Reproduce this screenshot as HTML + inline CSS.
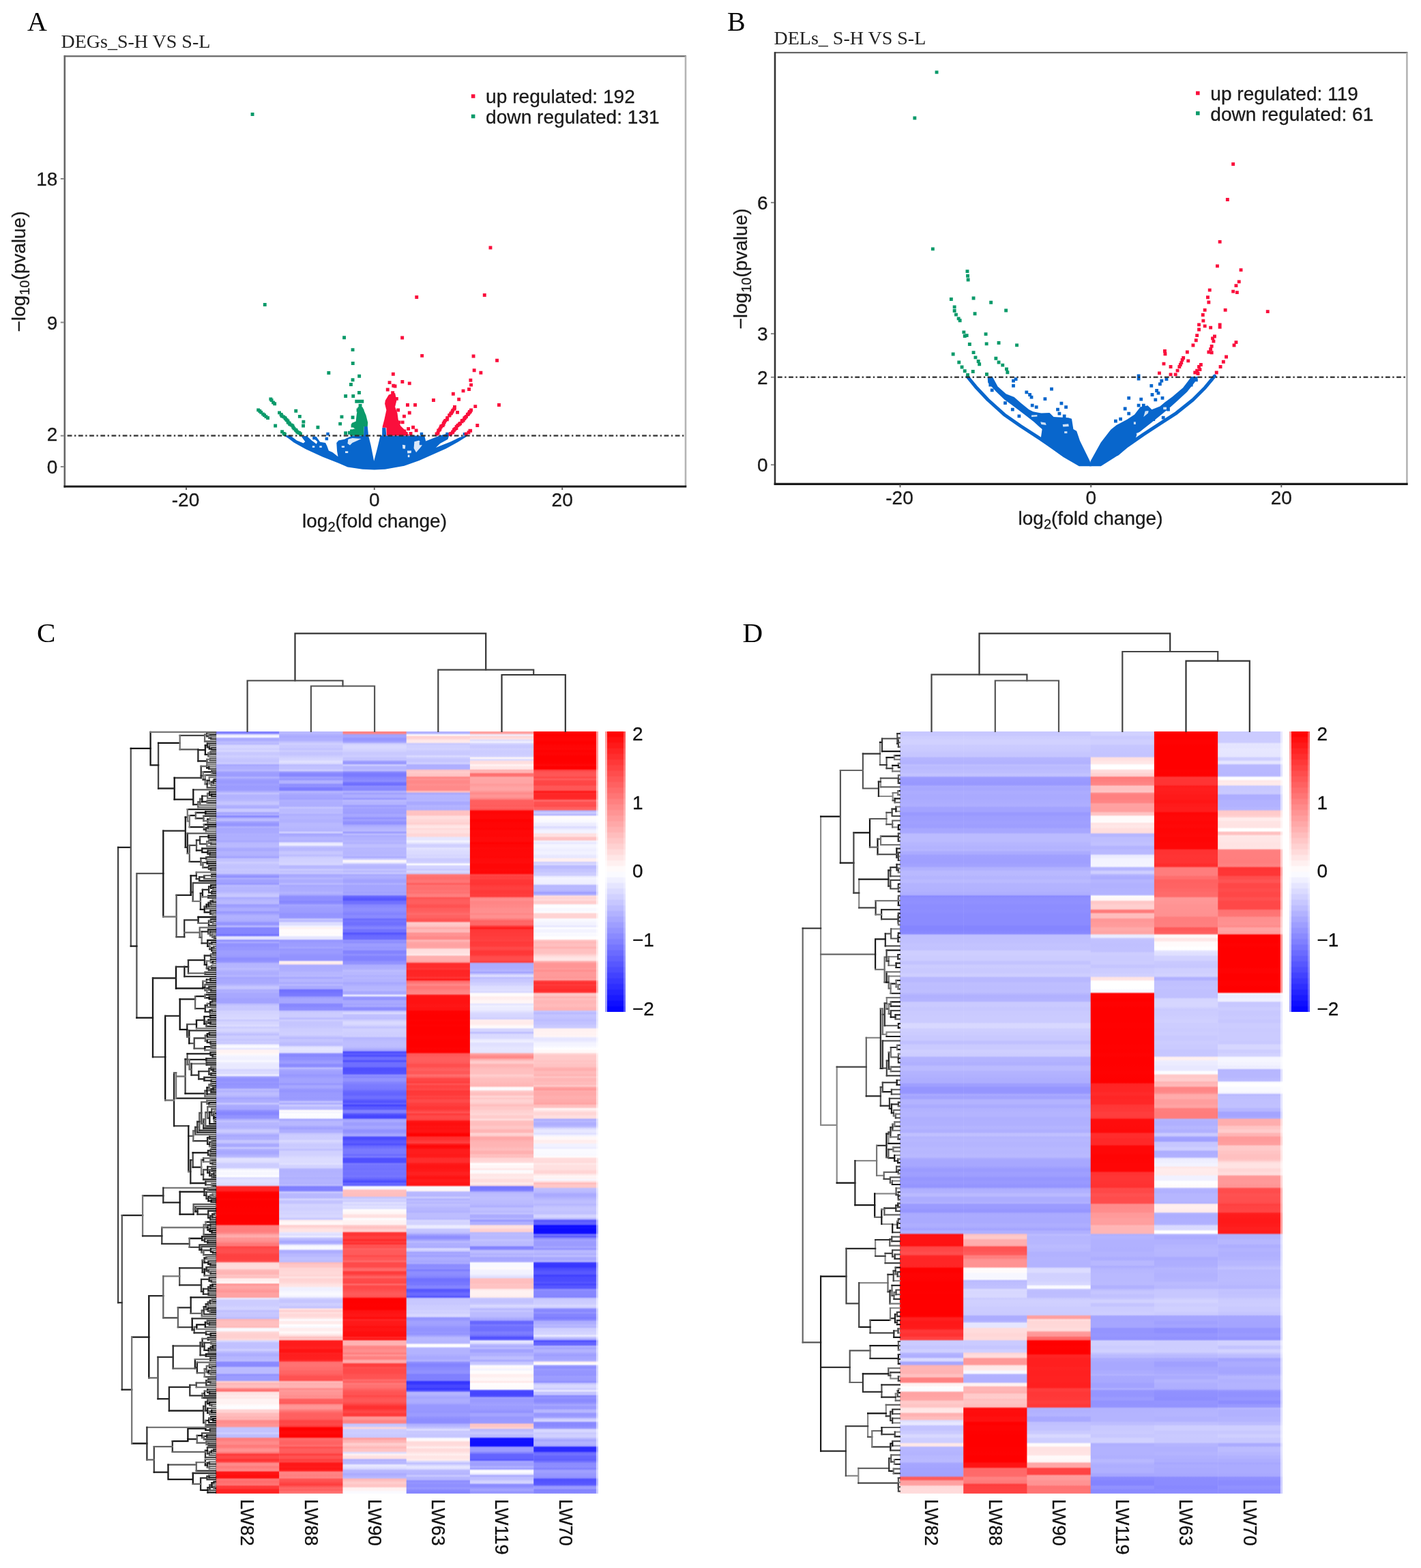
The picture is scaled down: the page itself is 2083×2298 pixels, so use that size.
<!DOCTYPE html>
<html lang="en"><head><meta charset="utf-8"><title>Figure</title>
<style>html,body{margin:0;padding:0;background:#fff}body{width:2083px;height:2298px}svg{display:block}text{white-space:pre}</style>
</head><body>
<svg width="2083" height="2298" viewBox="0 0 2083 2298">
<defs><linearGradient id="c0" x1="0" y1="0" x2="0" y2="1"><stop offset="0" stop-color="#8282ff"/><stop offset=".0023" stop-color="#8282ff"/><stop offset=".0047" stop-color="#e8e8ff"/><stop offset=".007" stop-color="#f8f8ff"/><stop offset=".0093" stop-color="#ababff"/><stop offset=".0116" stop-color="#ababff"/><stop offset=".014" stop-color="#bebeff"/><stop offset=".0163" stop-color="#b8b8ff"/><stop offset=".0186" stop-color="#d6d6ff"/><stop offset=".0209" stop-color="#d6d6ff"/><stop offset=".0233" stop-color="#ceceff"/><stop offset=".0256" stop-color="#d8d8ff"/><stop offset=".0279" stop-color="#c8c8ff"/><stop offset=".0302" stop-color="#c8c8ff"/><stop offset=".0326" stop-color="#d0d0ff"/><stop offset=".0349" stop-color="#c9c9ff"/><stop offset=".0372" stop-color="#c5c5ff"/><stop offset=".0395" stop-color="#c5c5ff"/><stop offset=".0419" stop-color="#cdcdff"/><stop offset=".0442" stop-color="#a7a7ff"/><stop offset=".0465" stop-color="#afafff"/><stop offset=".0488" stop-color="#afafff"/><stop offset=".0512" stop-color="#b9b9ff"/><stop offset=".0535" stop-color="#a0a0ff"/><stop offset=".0558" stop-color="#9c9cff"/><stop offset=".0581" stop-color="#9c9cff"/><stop offset=".0605" stop-color="#b3b3ff"/><stop offset=".0628" stop-color="#a0a0ff"/><stop offset=".0651" stop-color="#9a9aff"/><stop offset=".0674" stop-color="#9a9aff"/><stop offset=".0698" stop-color="#a1a1ff"/><stop offset=".0721" stop-color="#9b9bff"/><stop offset=".0744" stop-color="#9c9cff"/><stop offset=".0767" stop-color="#9c9cff"/><stop offset=".0791" stop-color="#afafff"/><stop offset=".0814" stop-color="#c5c5ff"/><stop offset=".0837" stop-color="#b3b3ff"/><stop offset=".086" stop-color="#b3b3ff"/><stop offset=".0884" stop-color="#b4b4ff"/><stop offset=".0907" stop-color="#b9b9ff"/><stop offset=".093" stop-color="#c5c5ff"/><stop offset=".0953" stop-color="#c5c5ff"/><stop offset=".0977" stop-color="#b1b1ff"/><stop offset=".1" stop-color="#adadff"/><stop offset=".1023" stop-color="#c9c9ff"/><stop offset=".1047" stop-color="#c9c9ff"/><stop offset=".107" stop-color="#a5a5ff"/><stop offset=".1093" stop-color="#afafff"/><stop offset=".1116" stop-color="#8585ff"/><stop offset=".114" stop-color="#b2b2ff"/><stop offset=".1163" stop-color="#c1c1ff"/><stop offset=".1186" stop-color="#a4a4ff"/><stop offset=".1209" stop-color="#9696ff"/><stop offset=".1233" stop-color="#9696ff"/><stop offset=".1256" stop-color="#b2b2ff"/><stop offset=".1279" stop-color="#a7a7ff"/><stop offset=".1302" stop-color="#a9a9ff"/><stop offset=".1326" stop-color="#a9a9ff"/><stop offset=".1349" stop-color="#b0b0ff"/><stop offset=".1372" stop-color="#aeaeff"/><stop offset=".1395" stop-color="#afafff"/><stop offset=".1419" stop-color="#afafff"/><stop offset=".1442" stop-color="#a8a8ff"/><stop offset=".1465" stop-color="#b8b8ff"/><stop offset=".1488" stop-color="#babaff"/><stop offset=".1512" stop-color="#babaff"/><stop offset=".1535" stop-color="#acacff"/><stop offset=".1558" stop-color="#a8a8ff"/><stop offset=".1581" stop-color="#b3b3ff"/><stop offset=".1605" stop-color="#b3b3ff"/><stop offset=".1628" stop-color="#b0b0ff"/><stop offset=".1651" stop-color="#a3a3ff"/><stop offset=".1674" stop-color="#c2c2ff"/><stop offset=".1698" stop-color="#c2c2ff"/><stop offset=".1721" stop-color="#cfcfff"/><stop offset=".1744" stop-color="#c5c5ff"/><stop offset=".1767" stop-color="#c3c3ff"/><stop offset=".1791" stop-color="#c3c3ff"/><stop offset=".1814" stop-color="#c8c8ff"/><stop offset=".1837" stop-color="#c5c5ff"/><stop offset=".186" stop-color="#c6c6ff"/><stop offset=".1884" stop-color="#9f9fff"/><stop offset=".1907" stop-color="#8e8eff"/><stop offset=".193" stop-color="#afafff"/><stop offset=".1953" stop-color="#a1a1ff"/><stop offset=".1977" stop-color="#a1a1ff"/><stop offset=".2" stop-color="#9898ff"/><stop offset=".2023" stop-color="#bbbbff"/><stop offset=".2047" stop-color="#b5b5ff"/><stop offset=".207" stop-color="#b5b5ff"/><stop offset=".2093" stop-color="#b3b3ff"/><stop offset=".2116" stop-color="#bcbcff"/><stop offset=".214" stop-color="#c7c7ff"/><stop offset=".2163" stop-color="#c7c7ff"/><stop offset=".2186" stop-color="#ababff"/><stop offset=".2209" stop-color="#b4b4ff"/><stop offset=".2233" stop-color="#b9b9ff"/><stop offset=".2256" stop-color="#b9b9ff"/><stop offset=".2279" stop-color="#9d9dff"/><stop offset=".2302" stop-color="#a1a1ff"/><stop offset=".2326" stop-color="#adadff"/><stop offset=".2349" stop-color="#adadff"/><stop offset=".2372" stop-color="#9797ff"/><stop offset=".2395" stop-color="#a3a3ff"/><stop offset=".2419" stop-color="#b1b1ff"/><stop offset=".2442" stop-color="#b1b1ff"/><stop offset=".2465" stop-color="#afafff"/><stop offset=".2488" stop-color="#ababff"/><stop offset=".2512" stop-color="#9595ff"/><stop offset=".2535" stop-color="#9595ff"/><stop offset=".2558" stop-color="#bbbbff"/><stop offset=".2581" stop-color="#8484ff"/><stop offset=".2605" stop-color="#8686ff"/><stop offset=".2628" stop-color="#8686ff"/><stop offset=".2651" stop-color="#8484ff"/><stop offset=".2674" stop-color="#7070ff"/><stop offset=".2698" stop-color="#e5e5ff"/><stop offset=".2721" stop-color="#e5e5ff"/><stop offset=".2744" stop-color="#8e8eff"/><stop offset=".2767" stop-color="#aaaaff"/><stop offset=".2791" stop-color="#9292ff"/><stop offset=".2814" stop-color="#9292ff"/><stop offset=".2837" stop-color="#9797ff"/><stop offset=".286" stop-color="#9797ff"/><stop offset=".2884" stop-color="#9e9eff"/><stop offset=".2907" stop-color="#9e9eff"/><stop offset=".293" stop-color="#9d9dff"/><stop offset=".2953" stop-color="#9b9bff"/><stop offset=".2977" stop-color="#8e8eff"/><stop offset=".3" stop-color="#8e8eff"/><stop offset=".3023" stop-color="#9696ff"/><stop offset=".3047" stop-color="#b4b4ff"/><stop offset=".307" stop-color="#b5b5ff"/><stop offset=".3093" stop-color="#b5b5ff"/><stop offset=".3116" stop-color="#bdbdff"/><stop offset=".314" stop-color="#b2b2ff"/><stop offset=".3163" stop-color="#adadff"/><stop offset=".3186" stop-color="#adadff"/><stop offset=".3209" stop-color="#b6b6ff"/><stop offset=".3233" stop-color="#a5a5ff"/><stop offset=".3256" stop-color="#a9a9ff"/><stop offset=".3279" stop-color="#a9a9ff"/><stop offset=".3302" stop-color="#aaaaff"/><stop offset=".3326" stop-color="#b5b5ff"/><stop offset=".3349" stop-color="#c5c5ff"/><stop offset=".3372" stop-color="#c5c5ff"/><stop offset=".3395" stop-color="#adadff"/><stop offset=".3419" stop-color="#b0b0ff"/><stop offset=".3442" stop-color="#a8a8ff"/><stop offset=".3488" stop-color="#a8a8ff"/><stop offset=".3512" stop-color="#a2a2ff"/><stop offset=".3535" stop-color="#a3a3ff"/><stop offset=".3558" stop-color="#a3a3ff"/><stop offset=".3581" stop-color="#bdbdff"/><stop offset=".3605" stop-color="#c8c8ff"/><stop offset=".3628" stop-color="#c7c7ff"/><stop offset=".3651" stop-color="#c7c7ff"/><stop offset=".3674" stop-color="#d3d3ff"/><stop offset=".3698" stop-color="#d2d2ff"/><stop offset=".3721" stop-color="#d6d6ff"/><stop offset=".3744" stop-color="#d6d6ff"/><stop offset=".3767" stop-color="#dadaff"/><stop offset=".3791" stop-color="#c9c9ff"/><stop offset=".3814" stop-color="#d5d5ff"/><stop offset=".3837" stop-color="#d5d5ff"/><stop offset=".386" stop-color="#ddddff"/><stop offset=".3884" stop-color="#ccccff"/><stop offset=".3907" stop-color="#d6d6ff"/><stop offset=".393" stop-color="#d6d6ff"/><stop offset=".3953" stop-color="#cbcbff"/><stop offset=".3977" stop-color="#bebeff"/><stop offset=".4" stop-color="#cdcdff"/><stop offset=".4023" stop-color="#cdcdff"/><stop offset=".4047" stop-color="#c5c5ff"/><stop offset=".407" stop-color="#cdcdff"/><stop offset=".4093" stop-color="#c8c8ff"/><stop offset=".4116" stop-color="#f4f4ff"/><stop offset=".414" stop-color="#fbfbff"/><stop offset=".4163" stop-color="#e6e6ff"/><stop offset=".4186" stop-color="#fff3f3"/><stop offset=".4209" stop-color="#fff3f3"/><stop offset=".4233" stop-color="#fff9f9"/><stop offset=".4256" stop-color="#f5f5ff"/><stop offset=".4279" stop-color="#f1f1ff"/><stop offset=".4302" stop-color="#f1f1ff"/><stop offset=".4326" stop-color="#f9f9ff"/><stop offset=".4349" stop-color="#ececff"/><stop offset=".4372" stop-color="#e9e9ff"/><stop offset=".4419" stop-color="#e9e9ff"/><stop offset=".4442" stop-color="#d4d4ff"/><stop offset=".4465" stop-color="#dbdbff"/><stop offset=".4488" stop-color="#dbdbff"/><stop offset=".4512" stop-color="#f1f1ff"/><stop offset=".4535" stop-color="#a2a2ff"/><stop offset=".4558" stop-color="#9292ff"/><stop offset=".4581" stop-color="#9292ff"/><stop offset=".4605" stop-color="#9898ff"/><stop offset=".4628" stop-color="#9292ff"/><stop offset=".4651" stop-color="#9696ff"/><stop offset=".4674" stop-color="#9696ff"/><stop offset=".4698" stop-color="#bdbdff"/><stop offset=".4721" stop-color="#b1b1ff"/><stop offset=".4744" stop-color="#bdbdff"/><stop offset=".4767" stop-color="#bdbdff"/><stop offset=".4791" stop-color="#b4b4ff"/><stop offset=".4814" stop-color="#a5a5ff"/><stop offset=".4837" stop-color="#adadff"/><stop offset=".486" stop-color="#adadff"/><stop offset=".4884" stop-color="#c7c7ff"/><stop offset=".4907" stop-color="#acacff"/><stop offset=".493" stop-color="#a9a9ff"/><stop offset=".4953" stop-color="#a9a9ff"/><stop offset=".4977" stop-color="#9191ff"/><stop offset=".5" stop-color="#8787ff"/><stop offset=".5023" stop-color="#8686ff"/><stop offset=".5047" stop-color="#9393ff"/><stop offset=".507" stop-color="#9393ff"/><stop offset=".5093" stop-color="#afafff"/><stop offset=".5116" stop-color="#c3c3ff"/><stop offset=".514" stop-color="#b6b6ff"/><stop offset=".5163" stop-color="#b6b6ff"/><stop offset=".5186" stop-color="#b2b2ff"/><stop offset=".5209" stop-color="#b8b8ff"/><stop offset=".5233" stop-color="#cacaff"/><stop offset=".5256" stop-color="#cacaff"/><stop offset=".5279" stop-color="#b8b8ff"/><stop offset=".5302" stop-color="#a8a8ff"/><stop offset=".5326" stop-color="#afafff"/><stop offset=".5349" stop-color="#afafff"/><stop offset=".5372" stop-color="#c7c7ff"/><stop offset=".5395" stop-color="#c2c2ff"/><stop offset=".5419" stop-color="#a9a9ff"/><stop offset=".5442" stop-color="#a9a9ff"/><stop offset=".5465" stop-color="#c9c9ff"/><stop offset=".5488" stop-color="#afafff"/><stop offset=".5512" stop-color="#a8a8ff"/><stop offset=".5535" stop-color="#a8a8ff"/><stop offset=".5558" stop-color="#b1b1ff"/><stop offset=".5581" stop-color="#bbbbff"/><stop offset=".5605" stop-color="#e1e1ff"/><stop offset=".5628" stop-color="#e1e1ff"/><stop offset=".5651" stop-color="#dcdcff"/><stop offset=".5674" stop-color="#ceceff"/><stop offset=".5698" stop-color="#cdcdff"/><stop offset=".5721" stop-color="#cdcdff"/><stop offset=".5744" stop-color="#efefff"/><stop offset=".5767" stop-color="#fcfcff"/><stop offset=".5791" stop-color="#f7f7ff"/><stop offset=".5814" stop-color="#f7f7ff"/><stop offset=".5837" stop-color="#ffffff"/><stop offset=".586" stop-color="#dadaff"/><stop offset=".5884" stop-color="#e1e1ff"/><stop offset=".5907" stop-color="#e1e1ff"/><stop offset=".593" stop-color="#ddddff"/><stop offset=".5953" stop-color="#dbdbff"/><stop offset=".5977" stop-color="#ff2424"/><stop offset=".6" stop-color="#ff2424"/><stop offset=".6023" stop-color="#ff2323"/><stop offset=".6047" stop-color="#ff0404"/><stop offset=".607" stop-color="#ff0000"/><stop offset=".6116" stop-color="#ff0000"/><stop offset=".614" stop-color="#ff0404"/><stop offset=".6163" stop-color="#ff0000"/><stop offset=".6233" stop-color="#ff0000"/><stop offset=".6256" stop-color="#ff0101"/><stop offset=".6302" stop-color="#ff0101"/><stop offset=".6326" stop-color="#ff0202"/><stop offset=".6349" stop-color="#ff0000"/><stop offset=".6419" stop-color="#ff0000"/><stop offset=".6442" stop-color="#ff0101"/><stop offset=".6465" stop-color="#ff0101"/><stop offset=".6488" stop-color="#ff7a7a"/><stop offset=".6512" stop-color="#ff7f7f"/><stop offset=".6535" stop-color="#ff7d7d"/><stop offset=".6558" stop-color="#ff7d7d"/><stop offset=".6581" stop-color="#ff8888"/><stop offset=".6605" stop-color="#ffa4a4"/><stop offset=".6628" stop-color="#ffafaf"/><stop offset=".6651" stop-color="#ff9595"/><stop offset=".6674" stop-color="#ff9494"/><stop offset=".6698" stop-color="#ff8b8b"/><stop offset=".6721" stop-color="#ff7979"/><stop offset=".6744" stop-color="#ff7979"/><stop offset=".6767" stop-color="#ff4343"/><stop offset=".6791" stop-color="#ff4c4c"/><stop offset=".6814" stop-color="#ff4e4e"/><stop offset=".6837" stop-color="#ff4e4e"/><stop offset=".686" stop-color="#ff4343"/><stop offset=".6884" stop-color="#ff4040"/><stop offset=".6907" stop-color="#ff4141"/><stop offset=".693" stop-color="#ff4141"/><stop offset=".6953" stop-color="#ff4e4e"/><stop offset=".6977" stop-color="#ffd7d7"/><stop offset=".7" stop-color="#ffdcdc"/><stop offset=".7023" stop-color="#ffdcdc"/><stop offset=".7047" stop-color="#ffdbdb"/><stop offset=".707" stop-color="#ffbaba"/><stop offset=".7093" stop-color="#ffb5b5"/><stop offset=".7116" stop-color="#ffb5b5"/><stop offset=".714" stop-color="#ffc6c6"/><stop offset=".7163" stop-color="#ffbdbd"/><stop offset=".7186" stop-color="#ffeeee"/><stop offset=".7209" stop-color="#ffeeee"/><stop offset=".7233" stop-color="#fffbfb"/><stop offset=".7256" stop-color="#ff9494"/><stop offset=".7279" stop-color="#ffa5a5"/><stop offset=".7302" stop-color="#ffa5a5"/><stop offset=".7326" stop-color="#ff9c9c"/><stop offset=".7349" stop-color="#ff9595"/><stop offset=".7372" stop-color="#ffa2a2"/><stop offset=".7395" stop-color="#ffa2a2"/><stop offset=".7419" stop-color="#ffa0a0"/><stop offset=".7442" stop-color="#e9e9ff"/><stop offset=".7465" stop-color="#ccccff"/><stop offset=".7512" stop-color="#ccccff"/><stop offset=".7535" stop-color="#cdcdff"/><stop offset=".7558" stop-color="#d3d3ff"/><stop offset=".7581" stop-color="#d3d3ff"/><stop offset=".7605" stop-color="#bfbfff"/><stop offset=".7628" stop-color="#c8c8ff"/><stop offset=".7651" stop-color="#c6c6ff"/><stop offset=".7674" stop-color="#c6c6ff"/><stop offset=".7698" stop-color="#bcbcff"/><stop offset=".7721" stop-color="#ffb6b6"/><stop offset=".7744" stop-color="#ffbfbf"/><stop offset=".7767" stop-color="#ffbfbf"/><stop offset=".7791" stop-color="#ffc0c0"/><stop offset=".7814" stop-color="#ffb9b9"/><stop offset=".7837" stop-color="#f9f9ff"/><stop offset=".786" stop-color="#f9f9ff"/><stop offset=".7884" stop-color="#ffd8d8"/><stop offset=".7907" stop-color="#ffd1d1"/><stop offset=".793" stop-color="#ffd0d0"/><stop offset=".7953" stop-color="#ffd0d0"/><stop offset=".7977" stop-color="#ffdada"/><stop offset=".8" stop-color="#d9d9ff"/><stop offset=".8023" stop-color="#c1c1ff"/><stop offset=".8047" stop-color="#c1c1ff"/><stop offset=".807" stop-color="#c0c0ff"/><stop offset=".8093" stop-color="#c2c2ff"/><stop offset=".8116" stop-color="#d0d0ff"/><stop offset=".814" stop-color="#bdbdff"/><stop offset=".8163" stop-color="#b1b1ff"/><stop offset=".8186" stop-color="#acacff"/><stop offset=".8209" stop-color="#b6b6ff"/><stop offset=".8233" stop-color="#b6b6ff"/><stop offset=".8256" stop-color="#bdbdff"/><stop offset=".8279" stop-color="#8b8bff"/><stop offset=".8302" stop-color="#8a8aff"/><stop offset=".8326" stop-color="#8a8aff"/><stop offset=".8349" stop-color="#bcbcff"/><stop offset=".8372" stop-color="#bbbbff"/><stop offset=".8419" stop-color="#bbbbff"/><stop offset=".8442" stop-color="#9292ff"/><stop offset=".8465" stop-color="#9c9cff"/><stop offset=".8512" stop-color="#9c9cff"/><stop offset=".8535" stop-color="#ffd0d0"/><stop offset=".8558" stop-color="#ffb4b4"/><stop offset=".8581" stop-color="#ffbebe"/><stop offset=".8605" stop-color="#ffbebe"/><stop offset=".8628" stop-color="#ff8383"/><stop offset=".8651" stop-color="#ff6b6b"/><stop offset=".8674" stop-color="#ffe4e4"/><stop offset=".8698" stop-color="#ffe4e4"/><stop offset=".8721" stop-color="#ffecec"/><stop offset=".8744" stop-color="#ffe6e6"/><stop offset=".8767" stop-color="#fff3f3"/><stop offset=".8791" stop-color="#fff3f3"/><stop offset=".8814" stop-color="#fff1f1"/><stop offset=".8837" stop-color="#fff9f9"/><stop offset=".886" stop-color="#fdfdff"/><stop offset=".8884" stop-color="#fdfdff"/><stop offset=".8907" stop-color="#ffd2d2"/><stop offset=".893" stop-color="#ffd3d3"/><stop offset=".8953" stop-color="#ffbcbc"/><stop offset=".8977" stop-color="#ffbcbc"/><stop offset=".9" stop-color="#ffb3b3"/><stop offset=".9023" stop-color="#ffb7b7"/><stop offset=".9047" stop-color="#ff8c8c"/><stop offset=".907" stop-color="#ff8c8c"/><stop offset=".9093" stop-color="#ff9494"/><stop offset=".9116" stop-color="#ff9494"/><stop offset=".914" stop-color="#c4c4ff"/><stop offset=".9163" stop-color="#c4c4ff"/><stop offset=".9186" stop-color="#c2c2ff"/><stop offset=".9209" stop-color="#d0d0ff"/><stop offset=".9233" stop-color="#bdbdff"/><stop offset=".9256" stop-color="#bdbdff"/><stop offset=".9279" stop-color="#ff7e7e"/><stop offset=".9302" stop-color="#ff8080"/><stop offset=".9326" stop-color="#ff8b8b"/><stop offset=".9349" stop-color="#ff8b8b"/><stop offset=".9372" stop-color="#ff7979"/><stop offset=".9395" stop-color="#ff7e7e"/><stop offset=".9419" stop-color="#ff9393"/><stop offset=".9442" stop-color="#ff9393"/><stop offset=".9465" stop-color="#ff7a7a"/><stop offset=".9488" stop-color="#ff3737"/><stop offset=".9512" stop-color="#ff4747"/><stop offset=".9535" stop-color="#ff4747"/><stop offset=".9558" stop-color="#ff3030"/><stop offset=".9581" stop-color="#ff3e3e"/><stop offset=".9605" stop-color="#ff8a8a"/><stop offset=".9628" stop-color="#ff8a8a"/><stop offset=".9651" stop-color="#ff7a7a"/><stop offset=".9674" stop-color="#ff8383"/><stop offset=".9698" stop-color="#ff8c8c"/><stop offset=".9721" stop-color="#ff1111"/><stop offset=".9744" stop-color="#ff1414"/><stop offset=".9767" stop-color="#ff0c0c"/><stop offset=".9791" stop-color="#ff0f0f"/><stop offset=".9814" stop-color="#ff7979"/><stop offset=".9837" stop-color="#ff6d6d"/><stop offset=".986" stop-color="#ff6f6f"/><stop offset=".9884" stop-color="#ff7777"/><stop offset=".9907" stop-color="#ff3838"/><stop offset=".993" stop-color="#ff3838"/><stop offset=".9953" stop-color="#ff2323"/><stop offset="1" stop-color="#ff2323"/></linearGradient><linearGradient id="c1" x1="0" y1="0" x2="0" y2="1"><stop offset="0" stop-color="#b9b9ff"/><stop offset=".0023" stop-color="#b9b9ff"/><stop offset=".0047" stop-color="#afafff"/><stop offset=".007" stop-color="#aaaaff"/><stop offset=".0093" stop-color="#afafff"/><stop offset=".0116" stop-color="#afafff"/><stop offset=".014" stop-color="#c2c2ff"/><stop offset=".0163" stop-color="#d0d0ff"/><stop offset=".0186" stop-color="#c9c9ff"/><stop offset=".0209" stop-color="#c9c9ff"/><stop offset=".0233" stop-color="#c1c1ff"/><stop offset=".0256" stop-color="#ceceff"/><stop offset=".0279" stop-color="#c4c4ff"/><stop offset=".0302" stop-color="#c4c4ff"/><stop offset=".0326" stop-color="#ccccff"/><stop offset=".0349" stop-color="#d3d3ff"/><stop offset=".0372" stop-color="#d6d6ff"/><stop offset=".0395" stop-color="#e2e2ff"/><stop offset=".0419" stop-color="#dadaff"/><stop offset=".0442" stop-color="#bcbcff"/><stop offset=".0465" stop-color="#c1c1ff"/><stop offset=".0488" stop-color="#c1c1ff"/><stop offset=".0512" stop-color="#d0d0ff"/><stop offset=".0535" stop-color="#9696ff"/><stop offset=".0558" stop-color="#8686ff"/><stop offset=".0581" stop-color="#8686ff"/><stop offset=".0605" stop-color="#a1a1ff"/><stop offset=".0628" stop-color="#9595ff"/><stop offset=".0651" stop-color="#b2b2ff"/><stop offset=".0674" stop-color="#b2b2ff"/><stop offset=".0698" stop-color="#8e8eff"/><stop offset=".0721" stop-color="#9292ff"/><stop offset=".0744" stop-color="#7d7dff"/><stop offset=".0767" stop-color="#7d7dff"/><stop offset=".0791" stop-color="#b6b6ff"/><stop offset=".0814" stop-color="#adadff"/><stop offset=".0837" stop-color="#a5a5ff"/><stop offset=".086" stop-color="#a5a5ff"/><stop offset=".0884" stop-color="#a1a1ff"/><stop offset=".0907" stop-color="#b1b1ff"/><stop offset=".093" stop-color="#aeaeff"/><stop offset=".0953" stop-color="#aeaeff"/><stop offset=".0977" stop-color="#adadff"/><stop offset=".1" stop-color="#c6c6ff"/><stop offset=".1023" stop-color="#babaff"/><stop offset=".1047" stop-color="#babaff"/><stop offset=".107" stop-color="#bcbcff"/><stop offset=".1093" stop-color="#aeaeff"/><stop offset=".1116" stop-color="#b5b5ff"/><stop offset=".114" stop-color="#b5b5ff"/><stop offset=".1163" stop-color="#b1b1ff"/><stop offset=".1186" stop-color="#b1b1ff"/><stop offset=".1209" stop-color="#b9b9ff"/><stop offset=".1233" stop-color="#b9b9ff"/><stop offset=".1256" stop-color="#b8b8ff"/><stop offset=".1279" stop-color="#b5b5ff"/><stop offset=".1302" stop-color="#b4b4ff"/><stop offset=".1326" stop-color="#d4d4ff"/><stop offset=".1349" stop-color="#a5a5ff"/><stop offset=".1372" stop-color="#acacff"/><stop offset=".1395" stop-color="#b6b6ff"/><stop offset=".1419" stop-color="#b6b6ff"/><stop offset=".1442" stop-color="#afafff"/><stop offset=".1465" stop-color="#e5e5ff"/><stop offset=".1488" stop-color="#efefff"/><stop offset=".1512" stop-color="#c2c2ff"/><stop offset=".1535" stop-color="#b7b7ff"/><stop offset=".1558" stop-color="#b9b9ff"/><stop offset=".1581" stop-color="#c7c7ff"/><stop offset=".1605" stop-color="#c7c7ff"/><stop offset=".1628" stop-color="#bcbcff"/><stop offset=".1651" stop-color="#ccccff"/><stop offset=".1674" stop-color="#d1d1ff"/><stop offset=".1698" stop-color="#d1d1ff"/><stop offset=".1721" stop-color="#d3d3ff"/><stop offset=".1744" stop-color="#d6d6ff"/><stop offset=".1767" stop-color="#b8b8ff"/><stop offset=".1791" stop-color="#b8b8ff"/><stop offset=".1814" stop-color="#cbcbff"/><stop offset=".1837" stop-color="#c0c0ff"/><stop offset=".186" stop-color="#c8c8ff"/><stop offset=".1884" stop-color="#a8a8ff"/><stop offset=".1907" stop-color="#ababff"/><stop offset=".193" stop-color="#b7b7ff"/><stop offset=".1953" stop-color="#acacff"/><stop offset=".1977" stop-color="#acacff"/><stop offset=".2" stop-color="#bbbbff"/><stop offset=".2023" stop-color="#a7a7ff"/><stop offset=".2047" stop-color="#acacff"/><stop offset=".207" stop-color="#acacff"/><stop offset=".2093" stop-color="#adadff"/><stop offset=".2116" stop-color="#b5b5ff"/><stop offset=".214" stop-color="#acacff"/><stop offset=".2163" stop-color="#9292ff"/><stop offset=".2186" stop-color="#8d8dff"/><stop offset=".2209" stop-color="#9090ff"/><stop offset=".2233" stop-color="#8686ff"/><stop offset=".2256" stop-color="#8c8cff"/><stop offset=".2279" stop-color="#a4a4ff"/><stop offset=".2302" stop-color="#a0a0ff"/><stop offset=".2326" stop-color="#9d9dff"/><stop offset=".2349" stop-color="#9d9dff"/><stop offset=".2372" stop-color="#9b9bff"/><stop offset=".2395" stop-color="#9494ff"/><stop offset=".2419" stop-color="#9595ff"/><stop offset=".2442" stop-color="#9595ff"/><stop offset=".2465" stop-color="#c7c7ff"/><stop offset=".2488" stop-color="#b8b8ff"/><stop offset=".2512" stop-color="#dedeff"/><stop offset=".2535" stop-color="#dedeff"/><stop offset=".2558" stop-color="#f4f4ff"/><stop offset=".2581" stop-color="#fff1f1"/><stop offset=".2605" stop-color="#fffcfc"/><stop offset=".2628" stop-color="#fffcfc"/><stop offset=".2651" stop-color="#fffafa"/><stop offset=".2674" stop-color="#fffdfd"/><stop offset=".2698" stop-color="#e6e6ff"/><stop offset=".2721" stop-color="#e6e6ff"/><stop offset=".2744" stop-color="#9595ff"/><stop offset=".2767" stop-color="#9a9aff"/><stop offset=".2791" stop-color="#9d9dff"/><stop offset=".2814" stop-color="#9d9dff"/><stop offset=".2837" stop-color="#a6a6ff"/><stop offset=".286" stop-color="#9797ff"/><stop offset=".2884" stop-color="#9b9bff"/><stop offset=".2907" stop-color="#9b9bff"/><stop offset=".293" stop-color="#9595ff"/><stop offset=".2953" stop-color="#9393ff"/><stop offset=".3" stop-color="#9393ff"/><stop offset=".3023" stop-color="#fff1f1"/><stop offset=".3047" stop-color="#ffeaea"/><stop offset=".307" stop-color="#acacff"/><stop offset=".3093" stop-color="#acacff"/><stop offset=".3116" stop-color="#adadff"/><stop offset=".314" stop-color="#afafff"/><stop offset=".3163" stop-color="#b6b6ff"/><stop offset=".3186" stop-color="#b6b6ff"/><stop offset=".3209" stop-color="#b9b9ff"/><stop offset=".3233" stop-color="#a7a7ff"/><stop offset=".3256" stop-color="#b6b6ff"/><stop offset=".3279" stop-color="#b6b6ff"/><stop offset=".3302" stop-color="#aaaaff"/><stop offset=".3326" stop-color="#b9b9ff"/><stop offset=".3349" stop-color="#aaaaff"/><stop offset=".3372" stop-color="#aaaaff"/><stop offset=".3395" stop-color="#6f6fff"/><stop offset=".3419" stop-color="#7373ff"/><stop offset=".3442" stop-color="#7979ff"/><stop offset=".3465" stop-color="#7979ff"/><stop offset=".3488" stop-color="#9d9dff"/><stop offset=".3512" stop-color="#a8a8ff"/><stop offset=".3535" stop-color="#a7a7ff"/><stop offset=".3558" stop-color="#a7a7ff"/><stop offset=".3581" stop-color="#8787ff"/><stop offset=".3605" stop-color="#8888ff"/><stop offset=".3628" stop-color="#8e8eff"/><stop offset=".3651" stop-color="#8e8eff"/><stop offset=".3674" stop-color="#c5c5ff"/><stop offset=".3698" stop-color="#ccccff"/><stop offset=".3744" stop-color="#ccccff"/><stop offset=".3767" stop-color="#babaff"/><stop offset=".3791" stop-color="#cfcfff"/><stop offset=".3814" stop-color="#c5c5ff"/><stop offset=".3837" stop-color="#c5c5ff"/><stop offset=".386" stop-color="#c6c6ff"/><stop offset=".3884" stop-color="#c8c8ff"/><stop offset=".3907" stop-color="#cdcdff"/><stop offset=".393" stop-color="#cdcdff"/><stop offset=".3953" stop-color="#cfcfff"/><stop offset=".3977" stop-color="#d0d0ff"/><stop offset=".4" stop-color="#c6c6ff"/><stop offset=".4023" stop-color="#b9b9ff"/><stop offset=".4047" stop-color="#c5c5ff"/><stop offset=".407" stop-color="#c3c3ff"/><stop offset=".4093" stop-color="#bcbcff"/><stop offset=".4116" stop-color="#bcbcff"/><stop offset=".414" stop-color="#dfdfff"/><stop offset=".4163" stop-color="#e6e6ff"/><stop offset=".4186" stop-color="#e3e3ff"/><stop offset=".4209" stop-color="#e3e3ff"/><stop offset=".4233" stop-color="#8c8cff"/><stop offset=".4256" stop-color="#8787ff"/><stop offset=".4279" stop-color="#9090ff"/><stop offset=".4302" stop-color="#9090ff"/><stop offset=".4326" stop-color="#9a9aff"/><stop offset=".4349" stop-color="#9d9dff"/><stop offset=".4372" stop-color="#8b8bff"/><stop offset=".4395" stop-color="#8b8bff"/><stop offset=".4419" stop-color="#bcbcff"/><stop offset=".4442" stop-color="#a7a7ff"/><stop offset=".4465" stop-color="#a0a0ff"/><stop offset=".4488" stop-color="#a0a0ff"/><stop offset=".4512" stop-color="#9797ff"/><stop offset=".4535" stop-color="#9d9dff"/><stop offset=".4558" stop-color="#a3a3ff"/><stop offset=".4581" stop-color="#a3a3ff"/><stop offset=".4605" stop-color="#a2a2ff"/><stop offset=".4628" stop-color="#9696ff"/><stop offset=".4651" stop-color="#a6a6ff"/><stop offset=".4674" stop-color="#a6a6ff"/><stop offset=".4698" stop-color="#9898ff"/><stop offset=".4721" stop-color="#9494ff"/><stop offset=".4744" stop-color="#9a9aff"/><stop offset=".4767" stop-color="#9a9aff"/><stop offset=".4791" stop-color="#9b9bff"/><stop offset=".4814" stop-color="#9999ff"/><stop offset=".4837" stop-color="#9d9dff"/><stop offset=".486" stop-color="#c3c3ff"/><stop offset=".4884" stop-color="#acacff"/><stop offset=".4907" stop-color="#cdcdff"/><stop offset=".493" stop-color="#babaff"/><stop offset=".4953" stop-color="#babaff"/><stop offset=".4977" stop-color="#fffcfc"/><stop offset=".5" stop-color="#f5f5ff"/><stop offset=".5023" stop-color="#fefeff"/><stop offset=".5047" stop-color="#fbfbff"/><stop offset=".507" stop-color="#fbfbff"/><stop offset=".5093" stop-color="#a4a4ff"/><stop offset=".5116" stop-color="#b6b6ff"/><stop offset=".514" stop-color="#b8b8ff"/><stop offset=".5163" stop-color="#b8b8ff"/><stop offset=".5186" stop-color="#a9a9ff"/><stop offset=".5209" stop-color="#a0a0ff"/><stop offset=".5233" stop-color="#adadff"/><stop offset=".5256" stop-color="#adadff"/><stop offset=".5279" stop-color="#c4c4ff"/><stop offset=".5302" stop-color="#cdcdff"/><stop offset=".5326" stop-color="#ccccff"/><stop offset=".5349" stop-color="#ccccff"/><stop offset=".5372" stop-color="#dadaff"/><stop offset=".5395" stop-color="#d2d2ff"/><stop offset=".5419" stop-color="#cacaff"/><stop offset=".5442" stop-color="#cacaff"/><stop offset=".5465" stop-color="#cdcdff"/><stop offset=".5488" stop-color="#bfbfff"/><stop offset=".5512" stop-color="#d1d1ff"/><stop offset=".5558" stop-color="#d1d1ff"/><stop offset=".5581" stop-color="#d8d8ff"/><stop offset=".5605" stop-color="#dcdcff"/><stop offset=".5628" stop-color="#dcdcff"/><stop offset=".5651" stop-color="#dbdbff"/><stop offset=".5674" stop-color="#e1e1ff"/><stop offset=".5698" stop-color="#d3d3ff"/><stop offset=".5721" stop-color="#d3d3ff"/><stop offset=".5744" stop-color="#b5b5ff"/><stop offset=".5767" stop-color="#b1b1ff"/><stop offset=".5791" stop-color="#b3b3ff"/><stop offset=".5814" stop-color="#b3b3ff"/><stop offset=".5837" stop-color="#b5b5ff"/><stop offset=".586" stop-color="#b0b0ff"/><stop offset=".5884" stop-color="#b4b4ff"/><stop offset=".5907" stop-color="#b4b4ff"/><stop offset=".593" stop-color="#b2b2ff"/><stop offset=".5953" stop-color="#bcbcff"/><stop offset=".5977" stop-color="#7f7fff"/><stop offset=".6" stop-color="#7f7fff"/><stop offset=".6023" stop-color="#8282ff"/><stop offset=".6047" stop-color="#cacaff"/><stop offset=".607" stop-color="#b8b8ff"/><stop offset=".6093" stop-color="#b8b8ff"/><stop offset=".6116" stop-color="#b7b7ff"/><stop offset=".614" stop-color="#d6d6ff"/><stop offset=".6163" stop-color="#c3c3ff"/><stop offset=".6186" stop-color="#c3c3ff"/><stop offset=".6209" stop-color="#d2d2ff"/><stop offset=".6233" stop-color="#d3d3ff"/><stop offset=".6256" stop-color="#d0d0ff"/><stop offset=".6279" stop-color="#d0d0ff"/><stop offset=".6302" stop-color="#d5d5ff"/><stop offset=".6326" stop-color="#d3d3ff"/><stop offset=".6349" stop-color="#d7d7ff"/><stop offset=".6372" stop-color="#d7d7ff"/><stop offset=".6395" stop-color="#c6c6ff"/><stop offset=".6419" stop-color="#ffeeee"/><stop offset=".6442" stop-color="#fff7f7"/><stop offset=".6465" stop-color="#fff7f7"/><stop offset=".6488" stop-color="#ffcece"/><stop offset=".6512" stop-color="#ffd8d8"/><stop offset=".6535" stop-color="#ffe4e4"/><stop offset=".6558" stop-color="#ffe4e4"/><stop offset=".6581" stop-color="#e6e6ff"/><stop offset=".6605" stop-color="#ddddff"/><stop offset=".6628" stop-color="#eeeeff"/><stop offset=".6651" stop-color="#c2c2ff"/><stop offset=".6674" stop-color="#b6b6ff"/><stop offset=".6698" stop-color="#a5a5ff"/><stop offset=".6721" stop-color="#b5b5ff"/><stop offset=".6744" stop-color="#efefff"/><stop offset=".6767" stop-color="#fbfbff"/><stop offset=".6791" stop-color="#f5f5ff"/><stop offset=".6814" stop-color="#adadff"/><stop offset=".6837" stop-color="#adadff"/><stop offset=".686" stop-color="#b8b8ff"/><stop offset=".6884" stop-color="#b8b8ff"/><stop offset=".6907" stop-color="#c0c0ff"/><stop offset=".693" stop-color="#c0c0ff"/><stop offset=".6953" stop-color="#bbbbff"/><stop offset=".6977" stop-color="#ffbcbc"/><stop offset=".7" stop-color="#ffc6c6"/><stop offset=".7023" stop-color="#ffc6c6"/><stop offset=".7047" stop-color="#ffd6d6"/><stop offset=".707" stop-color="#ffd6d6"/><stop offset=".7093" stop-color="#ffd9d9"/><stop offset=".7116" stop-color="#ffd9d9"/><stop offset=".714" stop-color="#ffd5d5"/><stop offset=".7163" stop-color="#ffe3e3"/><stop offset=".7186" stop-color="#ffd4d4"/><stop offset=".7209" stop-color="#ffd4d4"/><stop offset=".7233" stop-color="#ffd9d9"/><stop offset=".7256" stop-color="#ffe2e2"/><stop offset=".7279" stop-color="#ffe6e6"/><stop offset=".7302" stop-color="#f1f1ff"/><stop offset=".7326" stop-color="#f0f0ff"/><stop offset=".7349" stop-color="#f5f5ff"/><stop offset=".7372" stop-color="#f9f9ff"/><stop offset=".7395" stop-color="#f9f9ff"/><stop offset=".7419" stop-color="#efefff"/><stop offset=".7442" stop-color="#cfcfff"/><stop offset=".7465" stop-color="#c5c5ff"/><stop offset=".7488" stop-color="#c5c5ff"/><stop offset=".7512" stop-color="#d0d0ff"/><stop offset=".7535" stop-color="#ccccff"/><stop offset=".7558" stop-color="#c1c1ff"/><stop offset=".7581" stop-color="#ffe4e4"/><stop offset=".7605" stop-color="#ffcece"/><stop offset=".7628" stop-color="#ffe1e1"/><stop offset=".7651" stop-color="#ffd8d8"/><stop offset=".7674" stop-color="#ffd8d8"/><stop offset=".7698" stop-color="#ffe4e4"/><stop offset=".7721" stop-color="#fcfcff"/><stop offset=".7744" stop-color="#ffecec"/><stop offset=".7767" stop-color="#ffecec"/><stop offset=".7791" stop-color="#ffffff"/><stop offset=".7814" stop-color="#f9f9ff"/><stop offset=".7837" stop-color="#ffeeee"/><stop offset=".786" stop-color="#ffeeee"/><stop offset=".7884" stop-color="#fffafa"/><stop offset=".7907" stop-color="#ffeeee"/><stop offset=".793" stop-color="#ffdcdc"/><stop offset=".7953" stop-color="#ffbcbc"/><stop offset=".7977" stop-color="#ffcfcf"/><stop offset=".8" stop-color="#ff1d1d"/><stop offset=".8023" stop-color="#ff1b1b"/><stop offset=".8047" stop-color="#ff1b1b"/><stop offset=".807" stop-color="#ff1e1e"/><stop offset=".8093" stop-color="#ff2121"/><stop offset=".8116" stop-color="#ff1313"/><stop offset=".814" stop-color="#ff1313"/><stop offset=".8163" stop-color="#ff2121"/><stop offset=".8186" stop-color="#ff1d1d"/><stop offset=".8209" stop-color="#ff1f1f"/><stop offset=".8233" stop-color="#ff1f1f"/><stop offset=".8256" stop-color="#ff2b2b"/><stop offset=".8279" stop-color="#ff7070"/><stop offset=".8302" stop-color="#ff7272"/><stop offset=".8326" stop-color="#ff7272"/><stop offset=".8349" stop-color="#ff6d6d"/><stop offset=".8372" stop-color="#ff6d6d"/><stop offset=".8395" stop-color="#ff6565"/><stop offset=".8419" stop-color="#ff6565"/><stop offset=".8442" stop-color="#ff5d5d"/><stop offset=".8465" stop-color="#ff5151"/><stop offset=".8512" stop-color="#ff5151"/><stop offset=".8535" stop-color="#ffbaba"/><stop offset=".8558" stop-color="#ffafaf"/><stop offset=".8581" stop-color="#ffb3b3"/><stop offset=".8605" stop-color="#ffb3b3"/><stop offset=".8628" stop-color="#ff8b8b"/><stop offset=".8651" stop-color="#ff9b9b"/><stop offset=".8674" stop-color="#ff9595"/><stop offset=".8698" stop-color="#ff9595"/><stop offset=".8721" stop-color="#ff8d8d"/><stop offset=".8744" stop-color="#ff9090"/><stop offset=".8767" stop-color="#ff5f5f"/><stop offset=".8791" stop-color="#ff5f5f"/><stop offset=".8814" stop-color="#ff5a5a"/><stop offset=".8837" stop-color="#ff8f8f"/><stop offset=".886" stop-color="#ff9696"/><stop offset=".8884" stop-color="#ff9696"/><stop offset=".8907" stop-color="#ff7e7e"/><stop offset=".893" stop-color="#ff6c6c"/><stop offset=".8953" stop-color="#ff6060"/><stop offset=".8977" stop-color="#ff6060"/><stop offset=".9" stop-color="#ff6161"/><stop offset=".9023" stop-color="#ff5d5d"/><stop offset=".9047" stop-color="#ff4545"/><stop offset=".907" stop-color="#ff4545"/><stop offset=".9093" stop-color="#ff4949"/><stop offset=".9116" stop-color="#ff3c3c"/><stop offset=".914" stop-color="#ff0000"/><stop offset=".9163" stop-color="#ff0000"/><stop offset=".9186" stop-color="#ff0707"/><stop offset=".9209" stop-color="#ff0808"/><stop offset=".9233" stop-color="#ff0202"/><stop offset=".9256" stop-color="#ff0202"/><stop offset=".9279" stop-color="#ff6969"/><stop offset=".9302" stop-color="#ff6868"/><stop offset=".9326" stop-color="#ff6262"/><stop offset=".9349" stop-color="#ff6262"/><stop offset=".9372" stop-color="#ff6f6f"/><stop offset=".9395" stop-color="#ff4f4f"/><stop offset=".9419" stop-color="#ff5e5e"/><stop offset=".9442" stop-color="#ff5e5e"/><stop offset=".9465" stop-color="#ff5b5b"/><stop offset=".9488" stop-color="#ff3d3d"/><stop offset=".9512" stop-color="#ff5252"/><stop offset=".9535" stop-color="#ff5252"/><stop offset=".9558" stop-color="#ff3e3e"/><stop offset=".9581" stop-color="#ff4545"/><stop offset=".9605" stop-color="#ff1616"/><stop offset=".9628" stop-color="#ff1616"/><stop offset=".9651" stop-color="#ff1b1b"/><stop offset=".9674" stop-color="#ff1414"/><stop offset=".9698" stop-color="#ff2121"/><stop offset=".9721" stop-color="#ff8787"/><stop offset=".9744" stop-color="#ff8383"/><stop offset=".9767" stop-color="#ff7f7f"/><stop offset=".9791" stop-color="#ff8686"/><stop offset=".9814" stop-color="#ff5353"/><stop offset=".9837" stop-color="#ff5151"/><stop offset=".986" stop-color="#ff4747"/><stop offset=".9884" stop-color="#ff3c3c"/><stop offset=".9907" stop-color="#ff5555"/><stop offset=".993" stop-color="#ff6868"/><stop offset=".9953" stop-color="#ff5f5f"/><stop offset=".9977" stop-color="#ff7070"/><stop offset="1" stop-color="#ff7070"/></linearGradient><linearGradient id="c2" x1="0" y1="0" x2="0" y2="1"><stop offset="0" stop-color="#ff8484"/><stop offset=".0023" stop-color="#ff8484"/><stop offset=".0047" stop-color="#a2a2ff"/><stop offset=".007" stop-color="#a4a4ff"/><stop offset=".0093" stop-color="#9696ff"/><stop offset=".0116" stop-color="#9696ff"/><stop offset=".014" stop-color="#a5a5ff"/><stop offset=".0163" stop-color="#cdcdff"/><stop offset=".0186" stop-color="#d8d8ff"/><stop offset=".0209" stop-color="#d8d8ff"/><stop offset=".0233" stop-color="#d4d4ff"/><stop offset=".0256" stop-color="#d1d1ff"/><stop offset=".0279" stop-color="#c9c9ff"/><stop offset=".0302" stop-color="#c9c9ff"/><stop offset=".0326" stop-color="#ceceff"/><stop offset=".0349" stop-color="#c4c4ff"/><stop offset=".0372" stop-color="#c5c5ff"/><stop offset=".0395" stop-color="#9e9eff"/><stop offset=".0419" stop-color="#9696ff"/><stop offset=".0442" stop-color="#cdcdff"/><stop offset=".0465" stop-color="#b4b4ff"/><stop offset=".0488" stop-color="#b4b4ff"/><stop offset=".0512" stop-color="#bebeff"/><stop offset=".0535" stop-color="#8787ff"/><stop offset=".0558" stop-color="#7a7aff"/><stop offset=".0581" stop-color="#7a7aff"/><stop offset=".0605" stop-color="#8585ff"/><stop offset=".0628" stop-color="#8989ff"/><stop offset=".0651" stop-color="#8e8eff"/><stop offset=".0674" stop-color="#7575ff"/><stop offset=".0698" stop-color="#6c6cff"/><stop offset=".0721" stop-color="#8e8eff"/><stop offset=".0744" stop-color="#8989ff"/><stop offset=".0767" stop-color="#8989ff"/><stop offset=".0791" stop-color="#b4b4ff"/><stop offset=".0814" stop-color="#9e9eff"/><stop offset=".0837" stop-color="#aeaeff"/><stop offset=".086" stop-color="#aeaeff"/><stop offset=".0884" stop-color="#9898ff"/><stop offset=".0907" stop-color="#bbbbff"/><stop offset=".093" stop-color="#b4b4ff"/><stop offset=".0953" stop-color="#b4b4ff"/><stop offset=".0977" stop-color="#9a9aff"/><stop offset=".1" stop-color="#a7a7ff"/><stop offset=".1023" stop-color="#a0a0ff"/><stop offset=".1047" stop-color="#a0a0ff"/><stop offset=".107" stop-color="#9d9dff"/><stop offset=".1093" stop-color="#a8a8ff"/><stop offset=".1116" stop-color="#a4a4ff"/><stop offset=".114" stop-color="#9191ff"/><stop offset=".1163" stop-color="#a2a2ff"/><stop offset=".1186" stop-color="#9494ff"/><stop offset=".1209" stop-color="#8f8fff"/><stop offset=".1233" stop-color="#a9a9ff"/><stop offset=".1256" stop-color="#b2b2ff"/><stop offset=".1279" stop-color="#b6b6ff"/><stop offset=".1302" stop-color="#babaff"/><stop offset=".1326" stop-color="#9a9aff"/><stop offset=".1349" stop-color="#bdbdff"/><stop offset=".1372" stop-color="#acacff"/><stop offset=".1395" stop-color="#b2b2ff"/><stop offset=".1419" stop-color="#b2b2ff"/><stop offset=".1442" stop-color="#b7b7ff"/><stop offset=".1465" stop-color="#b1b1ff"/><stop offset=".1488" stop-color="#bfbfff"/><stop offset=".1512" stop-color="#bfbfff"/><stop offset=".1535" stop-color="#b6b6ff"/><stop offset=".1558" stop-color="#b8b8ff"/><stop offset=".1581" stop-color="#b6b6ff"/><stop offset=".1605" stop-color="#b6b6ff"/><stop offset=".1628" stop-color="#b9b9ff"/><stop offset=".1651" stop-color="#acacff"/><stop offset=".1674" stop-color="#cbcbff"/><stop offset=".1698" stop-color="#fff9f9"/><stop offset=".1721" stop-color="#ededff"/><stop offset=".1744" stop-color="#bfbfff"/><stop offset=".1767" stop-color="#b6b6ff"/><stop offset=".1791" stop-color="#b6b6ff"/><stop offset=".1814" stop-color="#c5c5ff"/><stop offset=".1837" stop-color="#b9b9ff"/><stop offset=".186" stop-color="#c8c8ff"/><stop offset=".1884" stop-color="#a9a9ff"/><stop offset=".1907" stop-color="#b0b0ff"/><stop offset=".193" stop-color="#ababff"/><stop offset=".1953" stop-color="#a2a2ff"/><stop offset=".1977" stop-color="#a2a2ff"/><stop offset=".2" stop-color="#b1b1ff"/><stop offset=".2023" stop-color="#a4a4ff"/><stop offset=".2047" stop-color="#a5a5ff"/><stop offset=".207" stop-color="#a5a5ff"/><stop offset=".2093" stop-color="#a6a6ff"/><stop offset=".2116" stop-color="#a1a1ff"/><stop offset=".214" stop-color="#a9a9ff"/><stop offset=".2163" stop-color="#6a6aff"/><stop offset=".2186" stop-color="#5b5bff"/><stop offset=".2209" stop-color="#5656ff"/><stop offset=".2233" stop-color="#7070ff"/><stop offset=".2256" stop-color="#7070ff"/><stop offset=".2279" stop-color="#8686ff"/><stop offset=".2302" stop-color="#8989ff"/><stop offset=".2326" stop-color="#8f8fff"/><stop offset=".2349" stop-color="#8f8fff"/><stop offset=".2372" stop-color="#8888ff"/><stop offset=".2395" stop-color="#8282ff"/><stop offset=".2419" stop-color="#8a8aff"/><stop offset=".2442" stop-color="#8a8aff"/><stop offset=".2465" stop-color="#6a6aff"/><stop offset=".2488" stop-color="#7777ff"/><stop offset=".2512" stop-color="#6f6fff"/><stop offset=".2535" stop-color="#6f6fff"/><stop offset=".2558" stop-color="#7d7dff"/><stop offset=".2581" stop-color="#8686ff"/><stop offset=".2605" stop-color="#7272ff"/><stop offset=".2628" stop-color="#7272ff"/><stop offset=".2651" stop-color="#5252ff"/><stop offset=".2674" stop-color="#6666ff"/><stop offset=".2698" stop-color="#6b6bff"/><stop offset=".2721" stop-color="#6b6bff"/><stop offset=".2744" stop-color="#9393ff"/><stop offset=".2767" stop-color="#8c8cff"/><stop offset=".2791" stop-color="#9d9dff"/><stop offset=".2814" stop-color="#9d9dff"/><stop offset=".2837" stop-color="#9797ff"/><stop offset=".286" stop-color="#9b9bff"/><stop offset=".2884" stop-color="#8383ff"/><stop offset=".2907" stop-color="#8383ff"/><stop offset=".293" stop-color="#9191ff"/><stop offset=".2953" stop-color="#8383ff"/><stop offset=".2977" stop-color="#8282ff"/><stop offset=".3" stop-color="#8282ff"/><stop offset=".3023" stop-color="#9191ff"/><stop offset=".3047" stop-color="#9393ff"/><stop offset=".307" stop-color="#aeaeff"/><stop offset=".3093" stop-color="#aeaeff"/><stop offset=".3116" stop-color="#b0b0ff"/><stop offset=".314" stop-color="#bebeff"/><stop offset=".3163" stop-color="#b8b8ff"/><stop offset=".3186" stop-color="#b8b8ff"/><stop offset=".3209" stop-color="#b1b1ff"/><stop offset=".3233" stop-color="#b7b7ff"/><stop offset=".3256" stop-color="#b3b3ff"/><stop offset=".3279" stop-color="#b3b3ff"/><stop offset=".3302" stop-color="#a7a7ff"/><stop offset=".3326" stop-color="#aeaeff"/><stop offset=".3349" stop-color="#b5b5ff"/><stop offset=".3372" stop-color="#b5b5ff"/><stop offset=".3395" stop-color="#b8b8ff"/><stop offset=".3419" stop-color="#a8a8ff"/><stop offset=".3442" stop-color="#ababff"/><stop offset=".3465" stop-color="#f1f1ff"/><stop offset=".3488" stop-color="#9a9aff"/><stop offset=".3512" stop-color="#9292ff"/><stop offset=".3535" stop-color="#a9a9ff"/><stop offset=".3558" stop-color="#a9a9ff"/><stop offset=".3581" stop-color="#a3a3ff"/><stop offset=".3605" stop-color="#ababff"/><stop offset=".3628" stop-color="#8c8cff"/><stop offset=".3651" stop-color="#8c8cff"/><stop offset=".3674" stop-color="#c5c5ff"/><stop offset=".3698" stop-color="#dcdcff"/><stop offset=".3721" stop-color="#c0c0ff"/><stop offset=".3744" stop-color="#c0c0ff"/><stop offset=".3767" stop-color="#bcbcff"/><stop offset=".3791" stop-color="#ceceff"/><stop offset=".3814" stop-color="#dadaff"/><stop offset=".3837" stop-color="#dadaff"/><stop offset=".386" stop-color="#d1d1ff"/><stop offset=".3884" stop-color="#c3c3ff"/><stop offset=".3907" stop-color="#d1d1ff"/><stop offset=".393" stop-color="#d1d1ff"/><stop offset=".3953" stop-color="#cfcfff"/><stop offset=".3977" stop-color="#ceceff"/><stop offset=".4" stop-color="#cfcfff"/><stop offset=".4023" stop-color="#b6b6ff"/><stop offset=".4047" stop-color="#babaff"/><stop offset=".407" stop-color="#bdbdff"/><stop offset=".4093" stop-color="#bebeff"/><stop offset=".4116" stop-color="#bebeff"/><stop offset=".414" stop-color="#bcbcff"/><stop offset=".4163" stop-color="#b1b1ff"/><stop offset=".4186" stop-color="#a2a2ff"/><stop offset=".4209" stop-color="#4949ff"/><stop offset=".4233" stop-color="#5e5eff"/><stop offset=".4256" stop-color="#4c4cff"/><stop offset=".4279" stop-color="#6d6dff"/><stop offset=".4302" stop-color="#6d6dff"/><stop offset=".4326" stop-color="#4f4fff"/><stop offset=".4349" stop-color="#6f6fff"/><stop offset=".4395" stop-color="#6f6fff"/><stop offset=".4419" stop-color="#5050ff"/><stop offset=".4442" stop-color="#4f4fff"/><stop offset=".4465" stop-color="#5252ff"/><stop offset=".4488" stop-color="#5252ff"/><stop offset=".4512" stop-color="#8f8fff"/><stop offset=".4535" stop-color="#8585ff"/><stop offset=".4558" stop-color="#9393ff"/><stop offset=".4581" stop-color="#9393ff"/><stop offset=".4605" stop-color="#8686ff"/><stop offset=".4628" stop-color="#7f7fff"/><stop offset=".4651" stop-color="#7b7bff"/><stop offset=".4674" stop-color="#7b7bff"/><stop offset=".4698" stop-color="#7777ff"/><stop offset=".4721" stop-color="#6a6aff"/><stop offset=".4744" stop-color="#6464ff"/><stop offset=".4767" stop-color="#6464ff"/><stop offset=".4791" stop-color="#6f6fff"/><stop offset=".4814" stop-color="#6e6eff"/><stop offset=".4837" stop-color="#5c5cff"/><stop offset=".486" stop-color="#5050ff"/><stop offset=".4884" stop-color="#6363ff"/><stop offset=".4907" stop-color="#4242ff"/><stop offset=".493" stop-color="#5a5aff"/><stop offset=".4953" stop-color="#5a5aff"/><stop offset=".4977" stop-color="#8383ff"/><stop offset=".5" stop-color="#7e7eff"/><stop offset=".5023" stop-color="#5454ff"/><stop offset=".5047" stop-color="#4545ff"/><stop offset=".507" stop-color="#4545ff"/><stop offset=".5093" stop-color="#a4a4ff"/><stop offset=".5116" stop-color="#aaaaff"/><stop offset=".514" stop-color="#9d9dff"/><stop offset=".5163" stop-color="#9d9dff"/><stop offset=".5186" stop-color="#a7a7ff"/><stop offset=".5209" stop-color="#a4a4ff"/><stop offset=".5233" stop-color="#9292ff"/><stop offset=".5256" stop-color="#9292ff"/><stop offset=".5279" stop-color="#a0a0ff"/><stop offset=".5302" stop-color="#ababff"/><stop offset=".5326" stop-color="#4b4bff"/><stop offset=".5349" stop-color="#4b4bff"/><stop offset=".5372" stop-color="#5959ff"/><stop offset=".5395" stop-color="#5c5cff"/><stop offset=".5419" stop-color="#4e4eff"/><stop offset=".5442" stop-color="#6767ff"/><stop offset=".5465" stop-color="#7070ff"/><stop offset=".5488" stop-color="#7b7bff"/><stop offset=".5512" stop-color="#7979ff"/><stop offset=".5535" stop-color="#7979ff"/><stop offset=".5558" stop-color="#6a6aff"/><stop offset=".5581" stop-color="#7c7cff"/><stop offset=".5605" stop-color="#4f4fff"/><stop offset=".5628" stop-color="#4f4fff"/><stop offset=".5651" stop-color="#4e4eff"/><stop offset=".5674" stop-color="#7a7aff"/><stop offset=".5698" stop-color="#7373ff"/><stop offset=".5721" stop-color="#7373ff"/><stop offset=".5744" stop-color="#7070ff"/><stop offset=".5767" stop-color="#7575ff"/><stop offset=".5791" stop-color="#7272ff"/><stop offset=".5814" stop-color="#7272ff"/><stop offset=".5837" stop-color="#7777ff"/><stop offset=".586" stop-color="#6b6bff"/><stop offset=".5884" stop-color="#5d5dff"/><stop offset=".5907" stop-color="#4a4aff"/><stop offset=".593" stop-color="#6767ff"/><stop offset=".5953" stop-color="#6060ff"/><stop offset=".5977" stop-color="#f7f7ff"/><stop offset=".6" stop-color="#f7f7ff"/><stop offset=".6023" stop-color="#ffbfbf"/><stop offset=".6047" stop-color="#ffc0c0"/><stop offset=".607" stop-color="#ffbebe"/><stop offset=".6093" stop-color="#ffbebe"/><stop offset=".6116" stop-color="#c4c4ff"/><stop offset=".614" stop-color="#d3d3ff"/><stop offset=".6163" stop-color="#cdcdff"/><stop offset=".6186" stop-color="#e0e0ff"/><stop offset=".6209" stop-color="#d7d7ff"/><stop offset=".6233" stop-color="#e1e1ff"/><stop offset=".6256" stop-color="#dcdcff"/><stop offset=".6279" stop-color="#fffcfc"/><stop offset=".6302" stop-color="#fff9f9"/><stop offset=".6326" stop-color="#fff4f4"/><stop offset=".6349" stop-color="#ffe1e1"/><stop offset=".6372" stop-color="#ffe1e1"/><stop offset=".6395" stop-color="#fcfcff"/><stop offset=".6419" stop-color="#fff5f5"/><stop offset=".6442" stop-color="#fff2f2"/><stop offset=".6465" stop-color="#fff2f2"/><stop offset=".6488" stop-color="#ffc8c8"/><stop offset=".6512" stop-color="#ffbfbf"/><stop offset=".6535" stop-color="#ffd0d0"/><stop offset=".6558" stop-color="#ffd0d0"/><stop offset=".6581" stop-color="#ff3636"/><stop offset=".6605" stop-color="#ff3333"/><stop offset=".6628" stop-color="#ff3f3f"/><stop offset=".6651" stop-color="#ff3f3f"/><stop offset=".6674" stop-color="#ff2929"/><stop offset=".6698" stop-color="#ff3e3e"/><stop offset=".6721" stop-color="#ff2e2e"/><stop offset=".6744" stop-color="#ff5454"/><stop offset=".6767" stop-color="#ff4f4f"/><stop offset=".6791" stop-color="#ff6161"/><stop offset=".6814" stop-color="#ff5b5b"/><stop offset=".686" stop-color="#ff5b5b"/><stop offset=".6884" stop-color="#ff4a4a"/><stop offset=".6907" stop-color="#ff5757"/><stop offset=".693" stop-color="#ff5757"/><stop offset=".6953" stop-color="#ff6969"/><stop offset=".6977" stop-color="#ff4949"/><stop offset=".7" stop-color="#ff4a4a"/><stop offset=".7023" stop-color="#ff4a4a"/><stop offset=".7047" stop-color="#ff6565"/><stop offset=".707" stop-color="#ff6b6b"/><stop offset=".7093" stop-color="#ff3c3c"/><stop offset=".7116" stop-color="#ff3c3c"/><stop offset=".714" stop-color="#ff5252"/><stop offset=".7163" stop-color="#ff6666"/><stop offset=".7186" stop-color="#ff4a4a"/><stop offset=".7209" stop-color="#ff4a4a"/><stop offset=".7233" stop-color="#ff4646"/><stop offset=".7256" stop-color="#ff6868"/><stop offset=".7279" stop-color="#ff4848"/><stop offset=".7302" stop-color="#ff4848"/><stop offset=".7326" stop-color="#ff4d4d"/><stop offset=".7349" stop-color="#ff5353"/><stop offset=".7372" stop-color="#ff5959"/><stop offset=".7395" stop-color="#ff5959"/><stop offset=".7419" stop-color="#ff5050"/><stop offset=".7442" stop-color="#ff0303"/><stop offset=".7465" stop-color="#ff0000"/><stop offset=".7488" stop-color="#ff0000"/><stop offset=".7512" stop-color="#ff0101"/><stop offset=".7535" stop-color="#ff0101"/><stop offset=".7558" stop-color="#ff0000"/><stop offset=".7581" stop-color="#ff0000"/><stop offset=".7605" stop-color="#ff1111"/><stop offset=".7628" stop-color="#ff1212"/><stop offset=".7651" stop-color="#ff1616"/><stop offset=".7674" stop-color="#ff1616"/><stop offset=".7698" stop-color="#ff0b0b"/><stop offset=".7721" stop-color="#ff2525"/><stop offset=".7744" stop-color="#ff1919"/><stop offset=".7767" stop-color="#ff1919"/><stop offset=".7791" stop-color="#ff1818"/><stop offset=".7814" stop-color="#ff0f0f"/><stop offset=".7837" stop-color="#ff1414"/><stop offset=".786" stop-color="#ff1414"/><stop offset=".7884" stop-color="#ff0e0e"/><stop offset=".7907" stop-color="#ff0e0e"/><stop offset=".793" stop-color="#ff0c0c"/><stop offset=".7953" stop-color="#ff2525"/><stop offset=".7977" stop-color="#ff1212"/><stop offset=".8" stop-color="#ffb0b0"/><stop offset=".8023" stop-color="#ffb3b3"/><stop offset=".8047" stop-color="#ffb3b3"/><stop offset=".807" stop-color="#ff8888"/><stop offset=".8093" stop-color="#ff8484"/><stop offset=".8116" stop-color="#ff8e8e"/><stop offset=".814" stop-color="#ff8e8e"/><stop offset=".8163" stop-color="#ff7d7d"/><stop offset=".8186" stop-color="#ff9797"/><stop offset=".8209" stop-color="#ff8181"/><stop offset=".8233" stop-color="#ff8181"/><stop offset=".8256" stop-color="#ffacac"/><stop offset=".8279" stop-color="#ffaaaa"/><stop offset=".8302" stop-color="#ff3f3f"/><stop offset=".8326" stop-color="#ff3f3f"/><stop offset=".8349" stop-color="#ff4f4f"/><stop offset=".8372" stop-color="#ff4949"/><stop offset=".8395" stop-color="#ff4a4a"/><stop offset=".8419" stop-color="#ff4a4a"/><stop offset=".8442" stop-color="#ff5252"/><stop offset=".8465" stop-color="#ff5353"/><stop offset=".8488" stop-color="#ff5353"/><stop offset=".8512" stop-color="#ff6d6d"/><stop offset=".8535" stop-color="#ff5f5f"/><stop offset=".8558" stop-color="#ff7a7a"/><stop offset=".8581" stop-color="#ff7171"/><stop offset=".8605" stop-color="#ff7171"/><stop offset=".8628" stop-color="#ff6565"/><stop offset=".8651" stop-color="#ff5a5a"/><stop offset=".8674" stop-color="#ff5454"/><stop offset=".8698" stop-color="#ff5454"/><stop offset=".8721" stop-color="#ff4848"/><stop offset=".8744" stop-color="#ff5353"/><stop offset=".8767" stop-color="#ff5858"/><stop offset=".8791" stop-color="#ff5858"/><stop offset=".8814" stop-color="#ff4e4e"/><stop offset=".8837" stop-color="#ff3e3e"/><stop offset=".886" stop-color="#ff3030"/><stop offset=".8884" stop-color="#ff3030"/><stop offset=".8907" stop-color="#ff3f3f"/><stop offset=".893" stop-color="#ff4949"/><stop offset=".8953" stop-color="#ff3b3b"/><stop offset=".8977" stop-color="#ff3b3b"/><stop offset=".9" stop-color="#ff9898"/><stop offset=".9023" stop-color="#ff9696"/><stop offset=".9047" stop-color="#ff8282"/><stop offset=".907" stop-color="#ff8282"/><stop offset=".9093" stop-color="#c3c3ff"/><stop offset=".9116" stop-color="#c8c8ff"/><stop offset=".914" stop-color="#ffd7d7"/><stop offset=".9163" stop-color="#ceceff"/><stop offset=".9186" stop-color="#cbcbff"/><stop offset=".9209" stop-color="#ceceff"/><stop offset=".9233" stop-color="#c9c9ff"/><stop offset=".9256" stop-color="#c9c9ff"/><stop offset=".9279" stop-color="#ff9c9c"/><stop offset=".9302" stop-color="#ffb1b1"/><stop offset=".9326" stop-color="#ffb7b7"/><stop offset=".9349" stop-color="#ffd0d0"/><stop offset=".9372" stop-color="#ffc7c7"/><stop offset=".9395" stop-color="#ffb7b7"/><stop offset=".9419" stop-color="#ffc4c4"/><stop offset=".9442" stop-color="#ffc4c4"/><stop offset=".9465" stop-color="#dedeff"/><stop offset=".9488" stop-color="#fff3f3"/><stop offset=".9512" stop-color="#ffe1e1"/><stop offset=".9535" stop-color="#ffe1e1"/><stop offset=".9558" stop-color="#b1b1ff"/><stop offset=".9581" stop-color="#b8b8ff"/><stop offset=".9605" stop-color="#b6b6ff"/><stop offset=".9628" stop-color="#e9e9ff"/><stop offset=".9651" stop-color="#e4e4ff"/><stop offset=".9674" stop-color="#d8d8ff"/><stop offset=".9698" stop-color="#b7b7ff"/><stop offset=".9721" stop-color="#b7b7ff"/><stop offset=".9744" stop-color="#aaaaff"/><stop offset=".9767" stop-color="#b1b1ff"/><stop offset=".9791" stop-color="#b9b9ff"/><stop offset=".9814" stop-color="#ffb9b9"/><stop offset=".9837" stop-color="#ffc3c3"/><stop offset=".986" stop-color="#ffcfcf"/><stop offset=".9884" stop-color="#ffc5c5"/><stop offset=".9907" stop-color="#ffc5c5"/><stop offset=".993" stop-color="#fff3f3"/><stop offset=".9953" stop-color="#fff2f2"/><stop offset=".9977" stop-color="#fafaff"/><stop offset="1" stop-color="#fafaff"/></linearGradient><linearGradient id="c3" x1="0" y1="0" x2="0" y2="1"><stop offset="0" stop-color="#b3b3ff"/><stop offset=".0023" stop-color="#b3b3ff"/><stop offset=".0047" stop-color="#fffcfc"/><stop offset=".007" stop-color="#ffcfcf"/><stop offset=".0093" stop-color="#ffd5d5"/><stop offset=".0116" stop-color="#ffe8e8"/><stop offset=".014" stop-color="#ffeaea"/><stop offset=".0163" stop-color="#c9c9ff"/><stop offset=".0186" stop-color="#d0d0ff"/><stop offset=".0209" stop-color="#d0d0ff"/><stop offset=".0233" stop-color="#d3d3ff"/><stop offset=".0256" stop-color="#cbcbff"/><stop offset=".0279" stop-color="#c9c9ff"/><stop offset=".0302" stop-color="#c9c9ff"/><stop offset=".0326" stop-color="#dbdbff"/><stop offset=".0349" stop-color="#ccccff"/><stop offset=".0372" stop-color="#c5c5ff"/><stop offset=".0395" stop-color="#c5c5ff"/><stop offset=".0419" stop-color="#d2d2ff"/><stop offset=".0442" stop-color="#aeaeff"/><stop offset=".0465" stop-color="#afafff"/><stop offset=".0488" stop-color="#afafff"/><stop offset=".0512" stop-color="#ffc4c4"/><stop offset=".0535" stop-color="#ffcccc"/><stop offset=".0558" stop-color="#ffc5c5"/><stop offset=".0581" stop-color="#ffc5c5"/><stop offset=".0605" stop-color="#ff8585"/><stop offset=".0628" stop-color="#ff9393"/><stop offset=".0651" stop-color="#ff8888"/><stop offset=".0674" stop-color="#ff8888"/><stop offset=".0698" stop-color="#ff9090"/><stop offset=".0721" stop-color="#ff8a8a"/><stop offset=".0767" stop-color="#ff8a8a"/><stop offset=".0791" stop-color="#ffc0c0"/><stop offset=".0814" stop-color="#a7a7ff"/><stop offset=".0837" stop-color="#b5b5ff"/><stop offset=".086" stop-color="#b5b5ff"/><stop offset=".0884" stop-color="#b3b3ff"/><stop offset=".0907" stop-color="#b7b7ff"/><stop offset=".093" stop-color="#a9a9ff"/><stop offset=".0953" stop-color="#a9a9ff"/><stop offset=".0977" stop-color="#b4b4ff"/><stop offset=".1" stop-color="#b1b1ff"/><stop offset=".1023" stop-color="#afafff"/><stop offset=".1047" stop-color="#ffc3c3"/><stop offset=".107" stop-color="#ffc2c2"/><stop offset=".1093" stop-color="#ffc1c1"/><stop offset=".1116" stop-color="#ffdede"/><stop offset=".114" stop-color="#ffdede"/><stop offset=".1163" stop-color="#ffd7d7"/><stop offset=".1186" stop-color="#ffd6d6"/><stop offset=".1209" stop-color="#ffcece"/><stop offset=".1233" stop-color="#ffe1e1"/><stop offset=".1256" stop-color="#ffe7e7"/><stop offset=".1279" stop-color="#ffd9d9"/><stop offset=".1302" stop-color="#ffe0e0"/><stop offset=".1326" stop-color="#ffe0e0"/><stop offset=".1349" stop-color="#ffd6d6"/><stop offset=".1372" stop-color="#ffd7d7"/><stop offset=".1395" stop-color="#e6e6ff"/><stop offset=".1419" stop-color="#e6e6ff"/><stop offset=".1442" stop-color="#f5f5ff"/><stop offset=".1465" stop-color="#e4e4ff"/><stop offset=".1488" stop-color="#d0d0ff"/><stop offset=".1512" stop-color="#d0d0ff"/><stop offset=".1535" stop-color="#e4e4ff"/><stop offset=".1558" stop-color="#dedeff"/><stop offset=".1581" stop-color="#dbdbff"/><stop offset=".1605" stop-color="#dbdbff"/><stop offset=".1628" stop-color="#d5d5ff"/><stop offset=".1651" stop-color="#d9d9ff"/><stop offset=".1674" stop-color="#cbcbff"/><stop offset=".1698" stop-color="#cbcbff"/><stop offset=".1721" stop-color="#d2d2ff"/><stop offset=".1744" stop-color="#ffffff"/><stop offset=".1767" stop-color="#d3d3ff"/><stop offset=".1791" stop-color="#d3d3ff"/><stop offset=".1814" stop-color="#c8c8ff"/><stop offset=".1837" stop-color="#dbdbff"/><stop offset=".186" stop-color="#cdcdff"/><stop offset=".1884" stop-color="#ff7979"/><stop offset=".1907" stop-color="#ff6f6f"/><stop offset=".193" stop-color="#ff6e6e"/><stop offset=".1953" stop-color="#ff7575"/><stop offset=".1977" stop-color="#ff7575"/><stop offset=".2" stop-color="#ff5d5d"/><stop offset=".2023" stop-color="#ff7272"/><stop offset=".2047" stop-color="#ff6f6f"/><stop offset=".207" stop-color="#ff6f6f"/><stop offset=".2093" stop-color="#ff7575"/><stop offset=".2116" stop-color="#ff7070"/><stop offset=".214" stop-color="#ff7e7e"/><stop offset=".2163" stop-color="#ff7e7e"/><stop offset=".2186" stop-color="#ff5454"/><stop offset=".2209" stop-color="#ff5c5c"/><stop offset=".2233" stop-color="#ff5e5e"/><stop offset=".2256" stop-color="#ff5e5e"/><stop offset=".2279" stop-color="#ff5353"/><stop offset=".2302" stop-color="#ff5151"/><stop offset=".2326" stop-color="#ff5d5d"/><stop offset=".2349" stop-color="#ff5d5d"/><stop offset=".2372" stop-color="#ff6262"/><stop offset=".2395" stop-color="#ff6b6b"/><stop offset=".2419" stop-color="#ff6262"/><stop offset=".2442" stop-color="#ff6262"/><stop offset=".2465" stop-color="#ff5555"/><stop offset=".2488" stop-color="#ff5454"/><stop offset=".2512" stop-color="#ffcaca"/><stop offset=".2535" stop-color="#ffcaca"/><stop offset=".2558" stop-color="#ffbfbf"/><stop offset=".2581" stop-color="#ffa9a9"/><stop offset=".2605" stop-color="#ffb9b9"/><stop offset=".2628" stop-color="#ffb9b9"/><stop offset=".2651" stop-color="#ff9191"/><stop offset=".2674" stop-color="#ff9494"/><stop offset=".2698" stop-color="#ff8989"/><stop offset=".2721" stop-color="#ff8989"/><stop offset=".2744" stop-color="#ffb6b6"/><stop offset=".2767" stop-color="#ffa7a7"/><stop offset=".2791" stop-color="#ffa2a2"/><stop offset=".2814" stop-color="#ffa2a2"/><stop offset=".2837" stop-color="#ffa6a6"/><stop offset=".286" stop-color="#ffdddd"/><stop offset=".2884" stop-color="#ffe0e0"/><stop offset=".2907" stop-color="#ffe0e0"/><stop offset=".293" stop-color="#ffeaea"/><stop offset=".2953" stop-color="#ffafaf"/><stop offset=".3" stop-color="#ffafaf"/><stop offset=".3023" stop-color="#ffa1a1"/><stop offset=".3047" stop-color="#ff2e2e"/><stop offset=".307" stop-color="#ff2c2c"/><stop offset=".3093" stop-color="#ff2c2c"/><stop offset=".3116" stop-color="#ff3535"/><stop offset=".314" stop-color="#ff2323"/><stop offset=".3163" stop-color="#ff2525"/><stop offset=".3186" stop-color="#ff2525"/><stop offset=".3209" stop-color="#ff2626"/><stop offset=".3233" stop-color="#ff3636"/><stop offset=".3256" stop-color="#ff1616"/><stop offset=".3279" stop-color="#ff6969"/><stop offset=".3302" stop-color="#ff7878"/><stop offset=".3326" stop-color="#ff8989"/><stop offset=".3349" stop-color="#ff7777"/><stop offset=".3372" stop-color="#ff7777"/><stop offset=".3395" stop-color="#ff8181"/><stop offset=".3419" stop-color="#ff8686"/><stop offset=".3442" stop-color="#ff8686"/><stop offset=".3465" stop-color="#ff1515"/><stop offset=".3488" stop-color="#ff1212"/><stop offset=".3558" stop-color="#ff1212"/><stop offset=".3581" stop-color="#ff1414"/><stop offset=".3605" stop-color="#ff1616"/><stop offset=".3628" stop-color="#ff1212"/><stop offset=".3651" stop-color="#ff1212"/><stop offset=".3674" stop-color="#ff0101"/><stop offset=".3698" stop-color="#ff0101"/><stop offset=".3721" stop-color="#ff0000"/><stop offset=".3767" stop-color="#ff0000"/><stop offset=".3791" stop-color="#ff0202"/><stop offset=".3814" stop-color="#ff0000"/><stop offset=".3837" stop-color="#ff0000"/><stop offset=".386" stop-color="#ff0202"/><stop offset=".3884" stop-color="#ff0000"/><stop offset=".3977" stop-color="#ff0000"/><stop offset=".4" stop-color="#ff0202"/><stop offset=".4023" stop-color="#ff0202"/><stop offset=".4047" stop-color="#ff0101"/><stop offset=".407" stop-color="#ff0000"/><stop offset=".414" stop-color="#ff0000"/><stop offset=".4163" stop-color="#ff0303"/><stop offset=".4186" stop-color="#ff0101"/><stop offset=".4209" stop-color="#ff0101"/><stop offset=".4233" stop-color="#ff5858"/><stop offset=".4256" stop-color="#ff5959"/><stop offset=".4279" stop-color="#ff5e5e"/><stop offset=".4302" stop-color="#ff5e5e"/><stop offset=".4326" stop-color="#ff5d5d"/><stop offset=".4349" stop-color="#ff5a5a"/><stop offset=".4372" stop-color="#ff4e4e"/><stop offset=".4395" stop-color="#ff4e4e"/><stop offset=".4419" stop-color="#ff5a5a"/><stop offset=".4442" stop-color="#ff6060"/><stop offset=".4465" stop-color="#ff5757"/><stop offset=".4488" stop-color="#ff5757"/><stop offset=".4512" stop-color="#ff7070"/><stop offset=".4535" stop-color="#ff6161"/><stop offset=".4558" stop-color="#ff4545"/><stop offset=".4581" stop-color="#ff4545"/><stop offset=".4605" stop-color="#ff3d3d"/><stop offset=".4628" stop-color="#ff5454"/><stop offset=".4651" stop-color="#ff4242"/><stop offset=".4674" stop-color="#ff4242"/><stop offset=".4698" stop-color="#ff4949"/><stop offset=".4721" stop-color="#ff3737"/><stop offset=".4744" stop-color="#ff3939"/><stop offset=".4767" stop-color="#ff3939"/><stop offset=".4791" stop-color="#ff4444"/><stop offset=".4814" stop-color="#ff3c3c"/><stop offset=".4837" stop-color="#ff4a4a"/><stop offset=".486" stop-color="#ff4a4a"/><stop offset=".4884" stop-color="#ff3e3e"/><stop offset=".4907" stop-color="#ff3d3d"/><stop offset=".493" stop-color="#ff3636"/><stop offset=".4953" stop-color="#ff3636"/><stop offset=".4977" stop-color="#ff4343"/><stop offset=".5" stop-color="#ff5252"/><stop offset=".5023" stop-color="#ff3939"/><stop offset=".5047" stop-color="#ff4949"/><stop offset=".507" stop-color="#ff4949"/><stop offset=".5093" stop-color="#ff4444"/><stop offset=".5116" stop-color="#ff1414"/><stop offset=".514" stop-color="#ff0e0e"/><stop offset=".5163" stop-color="#ff0e0e"/><stop offset=".5186" stop-color="#ff1313"/><stop offset=".5209" stop-color="#ff1010"/><stop offset=".5233" stop-color="#ff1313"/><stop offset=".5256" stop-color="#ff1313"/><stop offset=".5279" stop-color="#ff0404"/><stop offset=".5302" stop-color="#ff0000"/><stop offset=".5326" stop-color="#ff2f2f"/><stop offset=".5349" stop-color="#ff2f2f"/><stop offset=".5372" stop-color="#ff3838"/><stop offset=".5395" stop-color="#ff4141"/><stop offset=".5419" stop-color="#ff1a1a"/><stop offset=".5442" stop-color="#ff0707"/><stop offset=".5465" stop-color="#ff0d0d"/><stop offset=".5488" stop-color="#ff1c1c"/><stop offset=".5535" stop-color="#ff1c1c"/><stop offset=".5558" stop-color="#ff1818"/><stop offset=".5581" stop-color="#ff1b1b"/><stop offset=".5605" stop-color="#ff2d2d"/><stop offset=".5628" stop-color="#ff2d2d"/><stop offset=".5651" stop-color="#ff2c2c"/><stop offset=".5674" stop-color="#ff1919"/><stop offset=".5698" stop-color="#ff1414"/><stop offset=".5721" stop-color="#ff1414"/><stop offset=".5744" stop-color="#ff1717"/><stop offset=".5767" stop-color="#ff1919"/><stop offset=".5791" stop-color="#ff2020"/><stop offset=".5814" stop-color="#ff2020"/><stop offset=".5837" stop-color="#ff1717"/><stop offset=".586" stop-color="#ff1212"/><stop offset=".5884" stop-color="#ff1b1b"/><stop offset=".5907" stop-color="#ff1b1b"/><stop offset=".593" stop-color="#ff1515"/><stop offset=".5953" stop-color="#ff1515"/><stop offset=".5977" stop-color="#f9f9ff"/><stop offset=".6" stop-color="#f9f9ff"/><stop offset=".6023" stop-color="#fff5f5"/><stop offset=".6047" stop-color="#b9b9ff"/><stop offset=".607" stop-color="#b7b7ff"/><stop offset=".6093" stop-color="#b7b7ff"/><stop offset=".6116" stop-color="#cdcdff"/><stop offset=".614" stop-color="#b1b1ff"/><stop offset=".6163" stop-color="#bebeff"/><stop offset=".6186" stop-color="#b7b7ff"/><stop offset=".6209" stop-color="#c1c1ff"/><stop offset=".6233" stop-color="#bcbcff"/><stop offset=".6256" stop-color="#b6b6ff"/><stop offset=".6279" stop-color="#b6b6ff"/><stop offset=".6302" stop-color="#b1b1ff"/><stop offset=".6326" stop-color="#bdbdff"/><stop offset=".6372" stop-color="#bdbdff"/><stop offset=".6395" stop-color="#b8b8ff"/><stop offset=".6419" stop-color="#d7d7ff"/><stop offset=".6442" stop-color="#d3d3ff"/><stop offset=".6465" stop-color="#d3d3ff"/><stop offset=".6488" stop-color="#ececff"/><stop offset=".6512" stop-color="#ebebff"/><stop offset=".6535" stop-color="#c6c6ff"/><stop offset=".6558" stop-color="#c6c6ff"/><stop offset=".6581" stop-color="#bdbdff"/><stop offset=".6605" stop-color="#a1a1ff"/><stop offset=".6628" stop-color="#8f8fff"/><stop offset=".6651" stop-color="#8f8fff"/><stop offset=".6674" stop-color="#a4a4ff"/><stop offset=".6698" stop-color="#bbbbff"/><stop offset=".6721" stop-color="#afafff"/><stop offset=".6744" stop-color="#afafff"/><stop offset=".6767" stop-color="#ababff"/><stop offset=".6791" stop-color="#d8d8ff"/><stop offset=".6814" stop-color="#ceceff"/><stop offset=".6837" stop-color="#a2a2ff"/><stop offset=".686" stop-color="#a9a9ff"/><stop offset=".6884" stop-color="#a0a0ff"/><stop offset=".6907" stop-color="#aeaeff"/><stop offset=".693" stop-color="#aeaeff"/><stop offset=".6953" stop-color="#a7a7ff"/><stop offset=".6977" stop-color="#acacff"/><stop offset=".7" stop-color="#8c8cff"/><stop offset=".7023" stop-color="#8c8cff"/><stop offset=".7047" stop-color="#9090ff"/><stop offset=".707" stop-color="#7d7dff"/><stop offset=".7093" stop-color="#8e8eff"/><stop offset=".7116" stop-color="#8e8eff"/><stop offset=".714" stop-color="#8a8aff"/><stop offset=".7163" stop-color="#8282ff"/><stop offset=".7186" stop-color="#7171ff"/><stop offset=".7209" stop-color="#7171ff"/><stop offset=".7233" stop-color="#7777ff"/><stop offset=".7256" stop-color="#7777ff"/><stop offset=".7279" stop-color="#8484ff"/><stop offset=".7302" stop-color="#8484ff"/><stop offset=".7326" stop-color="#5656ff"/><stop offset=".7349" stop-color="#5a5aff"/><stop offset=".7372" stop-color="#6a6aff"/><stop offset=".7395" stop-color="#6a6aff"/><stop offset=".7419" stop-color="#5454ff"/><stop offset=".7442" stop-color="#c5c5ff"/><stop offset=".7465" stop-color="#c8c8ff"/><stop offset=".7488" stop-color="#c8c8ff"/><stop offset=".7512" stop-color="#c7c7ff"/><stop offset=".7535" stop-color="#ccccff"/><stop offset=".7558" stop-color="#cdcdff"/><stop offset=".7581" stop-color="#cdcdff"/><stop offset=".7605" stop-color="#d2d2ff"/><stop offset=".7628" stop-color="#cfcfff"/><stop offset=".7651" stop-color="#d8d8ff"/><stop offset=".7674" stop-color="#d8d8ff"/><stop offset=".7698" stop-color="#9595ff"/><stop offset=".7721" stop-color="#9898ff"/><stop offset=".7744" stop-color="#a2a2ff"/><stop offset=".7767" stop-color="#a2a2ff"/><stop offset=".7791" stop-color="#9f9fff"/><stop offset=".7814" stop-color="#9797ff"/><stop offset=".7837" stop-color="#9393ff"/><stop offset=".786" stop-color="#9393ff"/><stop offset=".7884" stop-color="#9797ff"/><stop offset=".7907" stop-color="#9393ff"/><stop offset=".793" stop-color="#a4a4ff"/><stop offset=".7953" stop-color="#b7b7ff"/><stop offset=".7977" stop-color="#b9b9ff"/><stop offset=".8" stop-color="#b5b5ff"/><stop offset=".8023" stop-color="#b5b5ff"/><stop offset=".8047" stop-color="#fffcfc"/><stop offset=".807" stop-color="#fbfbff"/><stop offset=".8093" stop-color="#b4b4ff"/><stop offset=".8116" stop-color="#b3b3ff"/><stop offset=".8163" stop-color="#b3b3ff"/><stop offset=".8186" stop-color="#aeaeff"/><stop offset=".8209" stop-color="#a9a9ff"/><stop offset=".8233" stop-color="#a9a9ff"/><stop offset=".8256" stop-color="#b5b5ff"/><stop offset=".8279" stop-color="#9090ff"/><stop offset=".8302" stop-color="#8383ff"/><stop offset=".8326" stop-color="#8383ff"/><stop offset=".8349" stop-color="#8a8aff"/><stop offset=".8372" stop-color="#8c8cff"/><stop offset=".8395" stop-color="#9191ff"/><stop offset=".8419" stop-color="#9191ff"/><stop offset=".8442" stop-color="#7e7eff"/><stop offset=".8465" stop-color="#8080ff"/><stop offset=".8512" stop-color="#8080ff"/><stop offset=".8535" stop-color="#3535ff"/><stop offset=".8558" stop-color="#3636ff"/><stop offset=".8581" stop-color="#4747ff"/><stop offset=".8605" stop-color="#4747ff"/><stop offset=".8628" stop-color="#3636ff"/><stop offset=".8651" stop-color="#5252ff"/><stop offset=".8674" stop-color="#b5b5ff"/><stop offset=".8698" stop-color="#b5b5ff"/><stop offset=".8721" stop-color="#acacff"/><stop offset=".8744" stop-color="#a5a5ff"/><stop offset=".8767" stop-color="#adadff"/><stop offset=".8791" stop-color="#adadff"/><stop offset=".8814" stop-color="#a9a9ff"/><stop offset=".8837" stop-color="#9a9aff"/><stop offset=".886" stop-color="#9898ff"/><stop offset=".8907" stop-color="#9898ff"/><stop offset=".893" stop-color="#9696ff"/><stop offset=".8953" stop-color="#9c9cff"/><stop offset=".8977" stop-color="#9c9cff"/><stop offset=".9" stop-color="#9393ff"/><stop offset=".9023" stop-color="#8e8eff"/><stop offset=".9047" stop-color="#8d8dff"/><stop offset=".907" stop-color="#8d8dff"/><stop offset=".9093" stop-color="#aeaeff"/><stop offset=".9116" stop-color="#b6b6ff"/><stop offset=".914" stop-color="#c5c5ff"/><stop offset=".9163" stop-color="#dedeff"/><stop offset=".9186" stop-color="#c7c7ff"/><stop offset=".9209" stop-color="#cacaff"/><stop offset=".9233" stop-color="#c6c6ff"/><stop offset=".9256" stop-color="#c6c6ff"/><stop offset=".9279" stop-color="#f7f7ff"/><stop offset=".9302" stop-color="#fff9f9"/><stop offset=".9326" stop-color="#ffdada"/><stop offset=".9349" stop-color="#ffdada"/><stop offset=".9372" stop-color="#ffdede"/><stop offset=".9395" stop-color="#ffeeee"/><stop offset=".9419" stop-color="#ffdbdb"/><stop offset=".9442" stop-color="#ffdbdb"/><stop offset=".9465" stop-color="#ffe5e5"/><stop offset=".9488" stop-color="#fff0f0"/><stop offset=".9512" stop-color="#ffe5e5"/><stop offset=".9535" stop-color="#ffe5e5"/><stop offset=".9558" stop-color="#ffeded"/><stop offset=".9581" stop-color="#dadaff"/><stop offset=".9605" stop-color="#bebeff"/><stop offset=".9628" stop-color="#d7d7ff"/><stop offset=".9651" stop-color="#e8e8ff"/><stop offset=".9674" stop-color="#ddddff"/><stop offset=".9698" stop-color="#b8b8ff"/><stop offset=".9721" stop-color="#b8b8ff"/><stop offset=".9744" stop-color="#b4b4ff"/><stop offset=".9767" stop-color="#cacaff"/><stop offset=".9791" stop-color="#b6b6ff"/><stop offset=".9814" stop-color="#b6b6ff"/><stop offset=".9837" stop-color="#8d8dff"/><stop offset=".986" stop-color="#9595ff"/><stop offset=".9884" stop-color="#8f8fff"/><stop offset=".9907" stop-color="#8f8fff"/><stop offset=".993" stop-color="#9999ff"/><stop offset=".9953" stop-color="#8c8cff"/><stop offset=".9977" stop-color="#8585ff"/><stop offset="1" stop-color="#8585ff"/></linearGradient><linearGradient id="c4" x1="0" y1="0" x2="0" y2="1"><stop offset="0" stop-color="#ffa2a2"/><stop offset=".0023" stop-color="#ffa2a2"/><stop offset=".0047" stop-color="#f0f0ff"/><stop offset=".007" stop-color="#ffd4d4"/><stop offset=".0093" stop-color="#ffe0e0"/><stop offset=".0116" stop-color="#dedeff"/><stop offset=".014" stop-color="#f0f0ff"/><stop offset=".0163" stop-color="#d3d3ff"/><stop offset=".0186" stop-color="#c9c9ff"/><stop offset=".0209" stop-color="#c9c9ff"/><stop offset=".0233" stop-color="#d0d0ff"/><stop offset=".0256" stop-color="#ccccff"/><stop offset=".0279" stop-color="#cdcdff"/><stop offset=".0302" stop-color="#cdcdff"/><stop offset=".0326" stop-color="#d2d2ff"/><stop offset=".0349" stop-color="#fff7f7"/><stop offset=".0372" stop-color="#dadaff"/><stop offset=".0395" stop-color="#ffdede"/><stop offset=".0419" stop-color="#ffdfdf"/><stop offset=".0442" stop-color="#fff4f4"/><stop offset=".0465" stop-color="#ffe6e6"/><stop offset=".0488" stop-color="#ffe6e6"/><stop offset=".0512" stop-color="#ffafaf"/><stop offset=".0535" stop-color="#ffb9b9"/><stop offset=".0558" stop-color="#ff7070"/><stop offset=".0581" stop-color="#ff7070"/><stop offset=".0605" stop-color="#ffa7a7"/><stop offset=".0628" stop-color="#ffa5a5"/><stop offset=".0674" stop-color="#ffa5a5"/><stop offset=".0698" stop-color="#ff9a9a"/><stop offset=".0721" stop-color="#ffa1a1"/><stop offset=".0744" stop-color="#ffa5a5"/><stop offset=".0767" stop-color="#ffa5a5"/><stop offset=".0791" stop-color="#ff9696"/><stop offset=".0814" stop-color="#ff8989"/><stop offset=".0837" stop-color="#ff9595"/><stop offset=".086" stop-color="#ff9595"/><stop offset=".0884" stop-color="#ff8282"/><stop offset=".0907" stop-color="#ff5f5f"/><stop offset=".0953" stop-color="#ff5f5f"/><stop offset=".0977" stop-color="#ff5b5b"/><stop offset=".1" stop-color="#ff6262"/><stop offset=".1023" stop-color="#ff5555"/><stop offset=".1047" stop-color="#ff0505"/><stop offset=".107" stop-color="#ff0505"/><stop offset=".1093" stop-color="#ff0808"/><stop offset=".114" stop-color="#ff0808"/><stop offset=".1163" stop-color="#ff0101"/><stop offset=".1186" stop-color="#ff0303"/><stop offset=".1209" stop-color="#ff0505"/><stop offset=".1256" stop-color="#ff0505"/><stop offset=".1279" stop-color="#ff0202"/><stop offset=".1302" stop-color="#ff0808"/><stop offset=".1326" stop-color="#ff0808"/><stop offset=".1349" stop-color="#ff0707"/><stop offset=".1372" stop-color="#ff0707"/><stop offset=".1395" stop-color="#ff0a0a"/><stop offset=".1419" stop-color="#ff0a0a"/><stop offset=".1442" stop-color="#ff0909"/><stop offset=".1465" stop-color="#ff0101"/><stop offset=".1488" stop-color="#ff0606"/><stop offset=".1512" stop-color="#ff0606"/><stop offset=".1535" stop-color="#ff0909"/><stop offset=".1558" stop-color="#ff0707"/><stop offset=".1581" stop-color="#ff0808"/><stop offset=".1628" stop-color="#ff0808"/><stop offset=".1651" stop-color="#ff0707"/><stop offset=".1674" stop-color="#ff0b0b"/><stop offset=".1698" stop-color="#ff0b0b"/><stop offset=".1721" stop-color="#ff0c0c"/><stop offset=".1744" stop-color="#ff0707"/><stop offset=".1791" stop-color="#ff0707"/><stop offset=".1814" stop-color="#ff0a0a"/><stop offset=".1837" stop-color="#ff0707"/><stop offset=".186" stop-color="#ff0808"/><stop offset=".1884" stop-color="#ff4545"/><stop offset=".1907" stop-color="#ff3e3e"/><stop offset=".193" stop-color="#ff4141"/><stop offset=".1953" stop-color="#ff3636"/><stop offset=".1977" stop-color="#ff3636"/><stop offset=".2" stop-color="#ff3434"/><stop offset=".2023" stop-color="#ff3a3a"/><stop offset=".2047" stop-color="#ff3f3f"/><stop offset=".207" stop-color="#ff3f3f"/><stop offset=".2093" stop-color="#ff3838"/><stop offset=".2116" stop-color="#ff3939"/><stop offset=".214" stop-color="#ff3c3c"/><stop offset=".2163" stop-color="#ff3c3c"/><stop offset=".2186" stop-color="#ff8686"/><stop offset=".2209" stop-color="#ff8f8f"/><stop offset=".2233" stop-color="#ff8585"/><stop offset=".2256" stop-color="#ff8585"/><stop offset=".2279" stop-color="#ff8888"/><stop offset=".2302" stop-color="#ff8989"/><stop offset=".2326" stop-color="#ff8e8e"/><stop offset=".2349" stop-color="#ff8e8e"/><stop offset=".2372" stop-color="#ff9090"/><stop offset=".2395" stop-color="#ff8787"/><stop offset=".2419" stop-color="#ff9090"/><stop offset=".2442" stop-color="#ff9090"/><stop offset=".2465" stop-color="#ff7c7c"/><stop offset=".2488" stop-color="#ff6464"/><stop offset=".2512" stop-color="#ff6868"/><stop offset=".2535" stop-color="#ff6868"/><stop offset=".2558" stop-color="#ff3939"/><stop offset=".2581" stop-color="#ff1a1a"/><stop offset=".2605" stop-color="#ff3838"/><stop offset=".2628" stop-color="#ff3838"/><stop offset=".2651" stop-color="#ff3a3a"/><stop offset=".2674" stop-color="#ff3a3a"/><stop offset=".2698" stop-color="#ff3d3d"/><stop offset=".2721" stop-color="#ff3d3d"/><stop offset=".2744" stop-color="#ff4141"/><stop offset=".2767" stop-color="#ff3939"/><stop offset=".2791" stop-color="#ff3b3b"/><stop offset=".2814" stop-color="#ff3b3b"/><stop offset=".2837" stop-color="#ff4949"/><stop offset=".286" stop-color="#ff4646"/><stop offset=".2884" stop-color="#ff3737"/><stop offset=".2907" stop-color="#ff3737"/><stop offset=".293" stop-color="#ff3939"/><stop offset=".2953" stop-color="#ff4949"/><stop offset=".2977" stop-color="#ff4c4c"/><stop offset=".3" stop-color="#ff4c4c"/><stop offset=".3023" stop-color="#ff3c3c"/><stop offset=".3047" stop-color="#acacff"/><stop offset=".3093" stop-color="#acacff"/><stop offset=".3116" stop-color="#aeaeff"/><stop offset=".314" stop-color="#b5b5ff"/><stop offset=".3163" stop-color="#a1a1ff"/><stop offset=".3186" stop-color="#c8c8ff"/><stop offset=".3209" stop-color="#e0e0ff"/><stop offset=".3233" stop-color="#bcbcff"/><stop offset=".3256" stop-color="#c7c7ff"/><stop offset=".3279" stop-color="#c7c7ff"/><stop offset=".3302" stop-color="#cfcfff"/><stop offset=".3326" stop-color="#d2d2ff"/><stop offset=".3349" stop-color="#ddddff"/><stop offset=".3372" stop-color="#ddddff"/><stop offset=".3395" stop-color="#e1e1ff"/><stop offset=".3419" stop-color="#d8d8ff"/><stop offset=".3442" stop-color="#fffbfb"/><stop offset=".3465" stop-color="#fffbfb"/><stop offset=".3488" stop-color="#ffeded"/><stop offset=".3512" stop-color="#ffefef"/><stop offset=".3535" stop-color="#fff6f6"/><stop offset=".3558" stop-color="#fff6f6"/><stop offset=".3581" stop-color="#e4e4ff"/><stop offset=".3605" stop-color="#f0f0ff"/><stop offset=".3628" stop-color="#ececff"/><stop offset=".3651" stop-color="#ececff"/><stop offset=".3674" stop-color="#e3e3ff"/><stop offset=".3698" stop-color="#d9d9ff"/><stop offset=".3721" stop-color="#d6d6ff"/><stop offset=".3744" stop-color="#d6d6ff"/><stop offset=".3767" stop-color="#ceceff"/><stop offset=".3791" stop-color="#ffeeee"/><stop offset=".3814" stop-color="#ffebeb"/><stop offset=".3837" stop-color="#ffebeb"/><stop offset=".386" stop-color="#fff6f6"/><stop offset=".3884" stop-color="#fffcfc"/><stop offset=".3907" stop-color="#d6d6ff"/><stop offset=".393" stop-color="#d6d6ff"/><stop offset=".3953" stop-color="#bebeff"/><stop offset=".3977" stop-color="#d9d9ff"/><stop offset=".4" stop-color="#dadaff"/><stop offset=".4023" stop-color="#dadaff"/><stop offset=".4047" stop-color="#eaeaff"/><stop offset=".407" stop-color="#efefff"/><stop offset=".4093" stop-color="#e0e0ff"/><stop offset=".4116" stop-color="#e0e0ff"/><stop offset=".414" stop-color="#e4e4ff"/><stop offset=".4163" stop-color="#e7e7ff"/><stop offset=".4186" stop-color="#e5e5ff"/><stop offset=".4209" stop-color="#e5e5ff"/><stop offset=".4233" stop-color="#ffa4a4"/><stop offset=".4256" stop-color="#ff8e8e"/><stop offset=".4279" stop-color="#ff8585"/><stop offset=".4302" stop-color="#ffabab"/><stop offset=".4326" stop-color="#ffc7c7"/><stop offset=".4349" stop-color="#ffcdcd"/><stop offset=".4372" stop-color="#ffb4b4"/><stop offset=".4395" stop-color="#ffb4b4"/><stop offset=".4419" stop-color="#ffbbbb"/><stop offset=".4442" stop-color="#ffbfbf"/><stop offset=".4488" stop-color="#ffbfbf"/><stop offset=".4512" stop-color="#ffcece"/><stop offset=".4535" stop-color="#ffc6c6"/><stop offset=".4558" stop-color="#ffbdbd"/><stop offset=".4581" stop-color="#ffbdbd"/><stop offset=".4605" stop-color="#ffbbbb"/><stop offset=".4628" stop-color="#ffb7b7"/><stop offset=".4651" stop-color="#ffb7b7"/><stop offset=".4674" stop-color="#fff7f7"/><stop offset=".4698" stop-color="#fbfbff"/><stop offset=".4721" stop-color="#ffcccc"/><stop offset=".4744" stop-color="#ffc0c0"/><stop offset=".4767" stop-color="#ffc0c0"/><stop offset=".4791" stop-color="#ffd7d7"/><stop offset=".4814" stop-color="#ffc7c7"/><stop offset=".4837" stop-color="#ffd3d3"/><stop offset=".486" stop-color="#ffd3d3"/><stop offset=".4884" stop-color="#ffcaca"/><stop offset=".4907" stop-color="#ffbcbc"/><stop offset=".493" stop-color="#ffc8c8"/><stop offset=".4953" stop-color="#ffc8c8"/><stop offset=".4977" stop-color="#ffd0d0"/><stop offset=".5" stop-color="#ffd2d2"/><stop offset=".5023" stop-color="#ffd8d8"/><stop offset=".5047" stop-color="#ffcccc"/><stop offset=".507" stop-color="#ffcccc"/><stop offset=".5093" stop-color="#ffdfdf"/><stop offset=".5116" stop-color="#ffc0c0"/><stop offset=".514" stop-color="#ffbebe"/><stop offset=".5163" stop-color="#ffbebe"/><stop offset=".5186" stop-color="#ffc7c7"/><stop offset=".5209" stop-color="#ffc6c6"/><stop offset=".5233" stop-color="#ffb5b5"/><stop offset=".5256" stop-color="#ffb5b5"/><stop offset=".5279" stop-color="#ffd4d4"/><stop offset=".5302" stop-color="#ffcdcd"/><stop offset=".5326" stop-color="#ffa8a8"/><stop offset=".5349" stop-color="#ffa8a8"/><stop offset=".5372" stop-color="#ffb0b0"/><stop offset=".5395" stop-color="#ffb4b4"/><stop offset=".5442" stop-color="#ffb4b4"/><stop offset=".5465" stop-color="#ffb9b9"/><stop offset=".5488" stop-color="#ffbdbd"/><stop offset=".5512" stop-color="#ffb0b0"/><stop offset=".5535" stop-color="#ffb0b0"/><stop offset=".5558" stop-color="#ffc0c0"/><stop offset=".5581" stop-color="#ffbdbd"/><stop offset=".5605" stop-color="#ffd5d5"/><stop offset=".5628" stop-color="#ffd5d5"/><stop offset=".5651" stop-color="#ffdbdb"/><stop offset=".5674" stop-color="#fffefe"/><stop offset=".5698" stop-color="#fff6f6"/><stop offset=".5721" stop-color="#fff6f6"/><stop offset=".5744" stop-color="#ffe7e7"/><stop offset=".5767" stop-color="#fcfcff"/><stop offset=".5791" stop-color="#fff9f9"/><stop offset=".5814" stop-color="#ffe6e6"/><stop offset=".5837" stop-color="#ffe8e8"/><stop offset=".586" stop-color="#ffeaea"/><stop offset=".5884" stop-color="#ffdddd"/><stop offset=".5907" stop-color="#ffdddd"/><stop offset=".593" stop-color="#ffecec"/><stop offset=".5953" stop-color="#ffdddd"/><stop offset=".5977" stop-color="#7777ff"/><stop offset=".6" stop-color="#7777ff"/><stop offset=".6023" stop-color="#8181ff"/><stop offset=".6047" stop-color="#b2b2ff"/><stop offset=".607" stop-color="#bcbcff"/><stop offset=".6093" stop-color="#bcbcff"/><stop offset=".6116" stop-color="#bfbfff"/><stop offset=".614" stop-color="#bebeff"/><stop offset=".6163" stop-color="#bbbbff"/><stop offset=".6186" stop-color="#bbbbff"/><stop offset=".6209" stop-color="#b7b7ff"/><stop offset=".6233" stop-color="#afafff"/><stop offset=".6256" stop-color="#c0c0ff"/><stop offset=".6279" stop-color="#c0c0ff"/><stop offset=".6302" stop-color="#b9b9ff"/><stop offset=".6326" stop-color="#c3c3ff"/><stop offset=".6349" stop-color="#ababff"/><stop offset=".6372" stop-color="#ababff"/><stop offset=".6395" stop-color="#b7b7ff"/><stop offset=".6419" stop-color="#9797ff"/><stop offset=".6442" stop-color="#afafff"/><stop offset=".6465" stop-color="#afafff"/><stop offset=".6488" stop-color="#ffdfdf"/><stop offset=".6512" stop-color="#ffe1e1"/><stop offset=".6535" stop-color="#ffd1d1"/><stop offset=".6558" stop-color="#ffd1d1"/><stop offset=".6581" stop-color="#b8b8ff"/><stop offset=".6605" stop-color="#bbbbff"/><stop offset=".6628" stop-color="#b8b8ff"/><stop offset=".6651" stop-color="#b8b8ff"/><stop offset=".6674" stop-color="#c3c3ff"/><stop offset=".6698" stop-color="#bcbcff"/><stop offset=".6721" stop-color="#bbbbff"/><stop offset=".6744" stop-color="#bbbbff"/><stop offset=".6767" stop-color="#8080ff"/><stop offset=".6791" stop-color="#8888ff"/><stop offset=".6814" stop-color="#bcbcff"/><stop offset=".6837" stop-color="#bcbcff"/><stop offset=".686" stop-color="#b0b0ff"/><stop offset=".6884" stop-color="#babaff"/><stop offset=".6907" stop-color="#a6a6ff"/><stop offset=".693" stop-color="#a6a6ff"/><stop offset=".6953" stop-color="#acacff"/><stop offset=".6977" stop-color="#fbfbff"/><stop offset=".7" stop-color="#f9f9ff"/><stop offset=".7023" stop-color="#f9f9ff"/><stop offset=".7047" stop-color="#fffafa"/><stop offset=".707" stop-color="#f3f3ff"/><stop offset=".7093" stop-color="#f2f2ff"/><stop offset=".7116" stop-color="#f2f2ff"/><stop offset=".714" stop-color="#e7e7ff"/><stop offset=".7163" stop-color="#dedeff"/><stop offset=".7186" stop-color="#ffbfbf"/><stop offset=".7209" stop-color="#ffbfbf"/><stop offset=".7233" stop-color="#ffbebe"/><stop offset=".7256" stop-color="#ffc5c5"/><stop offset=".7279" stop-color="#ffc3c3"/><stop offset=".7302" stop-color="#ffc3c3"/><stop offset=".7326" stop-color="#ffebeb"/><stop offset=".7349" stop-color="#fff2f2"/><stop offset=".7372" stop-color="#fff1f1"/><stop offset=".7395" stop-color="#fff1f1"/><stop offset=".7419" stop-color="#ffecec"/><stop offset=".7442" stop-color="#c6c6ff"/><stop offset=".7465" stop-color="#c2c2ff"/><stop offset=".7488" stop-color="#c2c2ff"/><stop offset=".7512" stop-color="#c9c9ff"/><stop offset=".7535" stop-color="#dadaff"/><stop offset=".7558" stop-color="#d1d1ff"/><stop offset=".7581" stop-color="#b8b8ff"/><stop offset=".7605" stop-color="#c6c6ff"/><stop offset=".7628" stop-color="#bbbbff"/><stop offset=".7674" stop-color="#bbbbff"/><stop offset=".7698" stop-color="#aeaeff"/><stop offset=".7721" stop-color="#a5a5ff"/><stop offset=".7744" stop-color="#6767ff"/><stop offset=".7767" stop-color="#6767ff"/><stop offset=".7791" stop-color="#7b7bff"/><stop offset=".7814" stop-color="#7070ff"/><stop offset=".7837" stop-color="#6f6fff"/><stop offset=".786" stop-color="#6f6fff"/><stop offset=".7884" stop-color="#7e7eff"/><stop offset=".7907" stop-color="#7c7cff"/><stop offset=".793" stop-color="#6e6eff"/><stop offset=".7953" stop-color="#4e4eff"/><stop offset=".7977" stop-color="#5c5cff"/><stop offset=".8" stop-color="#e5e5ff"/><stop offset=".8023" stop-color="#e1e1ff"/><stop offset=".8047" stop-color="#bbbbff"/><stop offset=".807" stop-color="#adadff"/><stop offset=".8093" stop-color="#bbbbff"/><stop offset=".8116" stop-color="#a2a2ff"/><stop offset=".814" stop-color="#a2a2ff"/><stop offset=".8163" stop-color="#b0b0ff"/><stop offset=".8186" stop-color="#afafff"/><stop offset=".8209" stop-color="#bdbdff"/><stop offset=".8233" stop-color="#bdbdff"/><stop offset=".8256" stop-color="#a8a8ff"/><stop offset=".8279" stop-color="#c4c4ff"/><stop offset=".8302" stop-color="#c9c9ff"/><stop offset=".8326" stop-color="#fcfcff"/><stop offset=".8349" stop-color="#fff8f8"/><stop offset=".8372" stop-color="#f3f3ff"/><stop offset=".8395" stop-color="#fffdfd"/><stop offset=".8419" stop-color="#fffdfd"/><stop offset=".8442" stop-color="#ffefef"/><stop offset=".8465" stop-color="#fff0f0"/><stop offset=".8488" stop-color="#fff7f7"/><stop offset=".8512" stop-color="#fff7f7"/><stop offset=".8535" stop-color="#ffe8e8"/><stop offset=".8558" stop-color="#fffefe"/><stop offset=".8581" stop-color="#fffbfb"/><stop offset=".8605" stop-color="#fffbfb"/><stop offset=".8628" stop-color="#fffdfd"/><stop offset=".8651" stop-color="#4c4cff"/><stop offset=".8674" stop-color="#4545ff"/><stop offset=".8698" stop-color="#4545ff"/><stop offset=".8721" stop-color="#4d4dff"/><stop offset=".8744" stop-color="#a0a0ff"/><stop offset=".8767" stop-color="#9a9aff"/><stop offset=".8791" stop-color="#9a9aff"/><stop offset=".8814" stop-color="#9e9eff"/><stop offset=".8837" stop-color="#a1a1ff"/><stop offset=".886" stop-color="#9c9cff"/><stop offset=".8884" stop-color="#9c9cff"/><stop offset=".8907" stop-color="#9797ff"/><stop offset=".893" stop-color="#9191ff"/><stop offset=".8953" stop-color="#a4a4ff"/><stop offset=".8977" stop-color="#a4a4ff"/><stop offset=".9" stop-color="#9898ff"/><stop offset=".9023" stop-color="#9898ff"/><stop offset=".9047" stop-color="#9a9aff"/><stop offset=".907" stop-color="#9a9aff"/><stop offset=".9093" stop-color="#ffc5c5"/><stop offset=".9116" stop-color="#ffc4c4"/><stop offset=".914" stop-color="#ffd2d2"/><stop offset=".9163" stop-color="#b9b9ff"/><stop offset=".9186" stop-color="#bfbfff"/><stop offset=".9209" stop-color="#c9c9ff"/><stop offset=".9233" stop-color="#babaff"/><stop offset=".9256" stop-color="#babaff"/><stop offset=".9279" stop-color="#1313ff"/><stop offset=".9302" stop-color="#1111ff"/><stop offset=".9326" stop-color="#0f0fff"/><stop offset=".9372" stop-color="#0f0fff"/><stop offset=".9395" stop-color="#9b9bff"/><stop offset=".9419" stop-color="#9c9cff"/><stop offset=".9442" stop-color="#9c9cff"/><stop offset=".9465" stop-color="#8383ff"/><stop offset=".9488" stop-color="#6464ff"/><stop offset=".9535" stop-color="#6464ff"/><stop offset=".9558" stop-color="#5959ff"/><stop offset=".9581" stop-color="#a5a5ff"/><stop offset=".9605" stop-color="#9f9fff"/><stop offset=".9628" stop-color="#9f9fff"/><stop offset=".9651" stop-color="#b2b2ff"/><stop offset=".9674" stop-color="#9d9dff"/><stop offset=".9698" stop-color="#fbfbff"/><stop offset=".9721" stop-color="#fbfbff"/><stop offset=".9744" stop-color="#e8e8ff"/><stop offset=".9767" stop-color="#aaaaff"/><stop offset=".9791" stop-color="#bfbfff"/><stop offset=".9814" stop-color="#bfbfff"/><stop offset=".9837" stop-color="#d2d2ff"/><stop offset=".986" stop-color="#d5d5ff"/><stop offset=".9884" stop-color="#8c8cff"/><stop offset=".9907" stop-color="#8c8cff"/><stop offset=".993" stop-color="#9a9aff"/><stop offset=".9953" stop-color="#a5a5ff"/><stop offset=".9977" stop-color="#9797ff"/><stop offset="1" stop-color="#9797ff"/></linearGradient><linearGradient id="c5" x1="0" y1="0" x2="0" y2="1"><stop offset="0" stop-color="#ff0101"/><stop offset=".0023" stop-color="#ff0101"/><stop offset=".0047" stop-color="#ff0000"/><stop offset=".007" stop-color="#ff0202"/><stop offset=".0093" stop-color="#ff0404"/><stop offset=".0116" stop-color="#ff0404"/><stop offset=".014" stop-color="#ff0000"/><stop offset=".0163" stop-color="#ff0101"/><stop offset=".0186" stop-color="#ff0505"/><stop offset=".0209" stop-color="#ff0505"/><stop offset=".0233" stop-color="#ff0707"/><stop offset=".0256" stop-color="#ff0000"/><stop offset=".0279" stop-color="#ff0404"/><stop offset=".0302" stop-color="#ff0404"/><stop offset=".0326" stop-color="#ff0000"/><stop offset=".0395" stop-color="#ff0000"/><stop offset=".0419" stop-color="#ff0202"/><stop offset=".0442" stop-color="#ff0808"/><stop offset=".0465" stop-color="#ff0000"/><stop offset=".0488" stop-color="#ff0000"/><stop offset=".0512" stop-color="#ff4545"/><stop offset=".0535" stop-color="#ff5353"/><stop offset=".0558" stop-color="#ff5656"/><stop offset=".0581" stop-color="#ff5656"/><stop offset=".0605" stop-color="#ff4848"/><stop offset=".0628" stop-color="#ff5e5e"/><stop offset=".0651" stop-color="#ff4646"/><stop offset=".0674" stop-color="#ff4646"/><stop offset=".0698" stop-color="#ff4444"/><stop offset=".0721" stop-color="#ff5757"/><stop offset=".0744" stop-color="#ff5656"/><stop offset=".0767" stop-color="#ff5656"/><stop offset=".0791" stop-color="#ff1717"/><stop offset=".0814" stop-color="#ff2a2a"/><stop offset=".0837" stop-color="#ff2525"/><stop offset=".086" stop-color="#ff2525"/><stop offset=".0884" stop-color="#ff2929"/><stop offset=".0907" stop-color="#ff6b6b"/><stop offset=".093" stop-color="#ff5050"/><stop offset=".0953" stop-color="#ff5050"/><stop offset=".0977" stop-color="#ff4b4b"/><stop offset=".1" stop-color="#ff5e5e"/><stop offset=".1023" stop-color="#ff6161"/><stop offset=".1047" stop-color="#b8b8ff"/><stop offset=".107" stop-color="#ccccff"/><stop offset=".1093" stop-color="#b2b2ff"/><stop offset=".1116" stop-color="#fffbfb"/><stop offset=".114" stop-color="#fffbfb"/><stop offset=".1163" stop-color="#fafaff"/><stop offset=".1186" stop-color="#f8f8ff"/><stop offset=".1209" stop-color="#ededff"/><stop offset=".1233" stop-color="#ededff"/><stop offset=".1256" stop-color="#dbdbff"/><stop offset=".1279" stop-color="#e8e8ff"/><stop offset=".1302" stop-color="#f3f3ff"/><stop offset=".1326" stop-color="#f3f3ff"/><stop offset=".1349" stop-color="#ffdfdf"/><stop offset=".1372" stop-color="#ffe2e2"/><stop offset=".1395" stop-color="#ffc3c3"/><stop offset=".1419" stop-color="#ffc3c3"/><stop offset=".1442" stop-color="#f3f3ff"/><stop offset=".1465" stop-color="#e7e7ff"/><stop offset=".1488" stop-color="#f5f5ff"/><stop offset=".1512" stop-color="#f5f5ff"/><stop offset=".1535" stop-color="#f1f1ff"/><stop offset=".1558" stop-color="#ededff"/><stop offset=".1581" stop-color="#f2f2ff"/><stop offset=".1605" stop-color="#f2f2ff"/><stop offset=".1628" stop-color="#e9e9ff"/><stop offset=".1651" stop-color="#e7e7ff"/><stop offset=".1674" stop-color="#ffefef"/><stop offset=".1698" stop-color="#ffefef"/><stop offset=".1721" stop-color="#cdcdff"/><stop offset=".1744" stop-color="#d9d9ff"/><stop offset=".1767" stop-color="#bbbbff"/><stop offset=".1791" stop-color="#bbbbff"/><stop offset=".1814" stop-color="#c4c4ff"/><stop offset=".1837" stop-color="#c4c4ff"/><stop offset=".186" stop-color="#cdcdff"/><stop offset=".1884" stop-color="#cdcdff"/><stop offset=".1907" stop-color="#ebebff"/><stop offset=".193" stop-color="#f4f4ff"/><stop offset=".1953" stop-color="#f0f0ff"/><stop offset=".1977" stop-color="#f0f0ff"/><stop offset=".2" stop-color="#ececff"/><stop offset=".2023" stop-color="#b7b7ff"/><stop offset=".2047" stop-color="#b9b9ff"/><stop offset=".207" stop-color="#b9b9ff"/><stop offset=".2093" stop-color="#b5b5ff"/><stop offset=".2116" stop-color="#9d9dff"/><stop offset=".214" stop-color="#aeaeff"/><stop offset=".2163" stop-color="#ffdddd"/><stop offset=".2186" stop-color="#ffd3d3"/><stop offset=".2209" stop-color="#ffdcdc"/><stop offset=".2233" stop-color="#ffcdcd"/><stop offset=".2256" stop-color="#ffcdcd"/><stop offset=".2279" stop-color="#fbfbff"/><stop offset=".2302" stop-color="#fffefe"/><stop offset=".2326" stop-color="#f8f8ff"/><stop offset=".2349" stop-color="#f8f8ff"/><stop offset=".2372" stop-color="#fefeff"/><stop offset=".2395" stop-color="#ffd5d5"/><stop offset=".2419" stop-color="#ffd3d3"/><stop offset=".2442" stop-color="#ffd3d3"/><stop offset=".2465" stop-color="#fafaff"/><stop offset=".2488" stop-color="#f8f8ff"/><stop offset=".2512" stop-color="#f3f3ff"/><stop offset=".2535" stop-color="#f3f3ff"/><stop offset=".2558" stop-color="#e7e7ff"/><stop offset=".2581" stop-color="#fefeff"/><stop offset=".2605" stop-color="#f3f3ff"/><stop offset=".2628" stop-color="#f3f3ff"/><stop offset=".2651" stop-color="#fbfbff"/><stop offset=".2674" stop-color="#f8f8ff"/><stop offset=".2698" stop-color="#fffefe"/><stop offset=".2721" stop-color="#fffefe"/><stop offset=".2744" stop-color="#ffc5c5"/><stop offset=".2767" stop-color="#ffb8b8"/><stop offset=".2791" stop-color="#ffbfbf"/><stop offset=".2814" stop-color="#ffbfbf"/><stop offset=".2837" stop-color="#ffb1b1"/><stop offset=".286" stop-color="#ffc0c0"/><stop offset=".2884" stop-color="#ffc1c1"/><stop offset=".2907" stop-color="#ffc1c1"/><stop offset=".293" stop-color="#ffcfcf"/><stop offset=".2953" stop-color="#ffdede"/><stop offset=".2977" stop-color="#ffe5e5"/><stop offset=".3" stop-color="#ffe5e5"/><stop offset=".3023" stop-color="#ffacac"/><stop offset=".3047" stop-color="#ff9595"/><stop offset=".3093" stop-color="#ff9595"/><stop offset=".3116" stop-color="#ff9c9c"/><stop offset=".314" stop-color="#ff8e8e"/><stop offset=".3163" stop-color="#ff9a9a"/><stop offset=".3209" stop-color="#ff9a9a"/><stop offset=".3233" stop-color="#ff9696"/><stop offset=".3256" stop-color="#ffa3a3"/><stop offset=".3279" stop-color="#ff3d3d"/><stop offset=".3302" stop-color="#ff2e2e"/><stop offset=".3326" stop-color="#ff3a3a"/><stop offset=".3349" stop-color="#ff3131"/><stop offset=".3372" stop-color="#ff3131"/><stop offset=".3395" stop-color="#ff2929"/><stop offset=".3419" stop-color="#ff3636"/><stop offset=".3442" stop-color="#ffc5c5"/><stop offset=".3465" stop-color="#ffc5c5"/><stop offset=".3488" stop-color="#ffb1b1"/><stop offset=".3512" stop-color="#ffbfbf"/><stop offset=".3535" stop-color="#ffb6b6"/><stop offset=".3558" stop-color="#ffb6b6"/><stop offset=".3581" stop-color="#ffbaba"/><stop offset=".3605" stop-color="#ffbbbb"/><stop offset=".3628" stop-color="#ffb3b3"/><stop offset=".3651" stop-color="#ffb3b3"/><stop offset=".3674" stop-color="#c5c5ff"/><stop offset=".3698" stop-color="#b8b8ff"/><stop offset=".3721" stop-color="#c4c4ff"/><stop offset=".3744" stop-color="#c4c4ff"/><stop offset=".3767" stop-color="#c1c1ff"/><stop offset=".3791" stop-color="#bcbcff"/><stop offset=".3814" stop-color="#c2c2ff"/><stop offset=".3837" stop-color="#c2c2ff"/><stop offset=".386" stop-color="#c9c9ff"/><stop offset=".3884" stop-color="#cacaff"/><stop offset=".3907" stop-color="#fff1f1"/><stop offset=".393" stop-color="#fff1f1"/><stop offset=".3953" stop-color="#fff3f3"/><stop offset=".3977" stop-color="#fff2f2"/><stop offset=".4" stop-color="#fff6f6"/><stop offset=".4023" stop-color="#e8e8ff"/><stop offset=".4047" stop-color="#e5e5ff"/><stop offset=".407" stop-color="#ededff"/><stop offset=".4093" stop-color="#f4f4ff"/><stop offset=".4116" stop-color="#f4f4ff"/><stop offset=".414" stop-color="#f9f9ff"/><stop offset=".4163" stop-color="#ffffff"/><stop offset=".4186" stop-color="#fff9f9"/><stop offset=".4209" stop-color="#fff9f9"/><stop offset=".4233" stop-color="#ffd4d4"/><stop offset=".4256" stop-color="#ffc9c9"/><stop offset=".4279" stop-color="#ffcaca"/><stop offset=".4302" stop-color="#ffcaca"/><stop offset=".4326" stop-color="#ffc3c3"/><stop offset=".4349" stop-color="#ffc7c7"/><stop offset=".4372" stop-color="#ffc3c3"/><stop offset=".4395" stop-color="#ffc3c3"/><stop offset=".4419" stop-color="#ffb2b2"/><stop offset=".4442" stop-color="#ffadad"/><stop offset=".4465" stop-color="#ffbaba"/><stop offset=".4488" stop-color="#ffbaba"/><stop offset=".4512" stop-color="#ffb3b3"/><stop offset=".4535" stop-color="#ffc4c4"/><stop offset=".4558" stop-color="#ffb6b6"/><stop offset=".4581" stop-color="#ffb6b6"/><stop offset=".4605" stop-color="#ffbcbc"/><stop offset=".4628" stop-color="#ffb9b9"/><stop offset=".4651" stop-color="#ffc9c9"/><stop offset=".4674" stop-color="#ffa3a3"/><stop offset=".4698" stop-color="#ff9797"/><stop offset=".4721" stop-color="#ffacac"/><stop offset=".4744" stop-color="#ffa9a9"/><stop offset=".4767" stop-color="#ffa9a9"/><stop offset=".4791" stop-color="#ffaeae"/><stop offset=".4814" stop-color="#ffaeae"/><stop offset=".4837" stop-color="#ffaaaa"/><stop offset=".486" stop-color="#ffaaaa"/><stop offset=".4884" stop-color="#ffa3a3"/><stop offset=".4907" stop-color="#ffbebe"/><stop offset=".493" stop-color="#ffc2c2"/><stop offset=".4953" stop-color="#fff5f5"/><stop offset=".4977" stop-color="#ffe5e5"/><stop offset=".5" stop-color="#ffd7d7"/><stop offset=".5023" stop-color="#ffd5d5"/><stop offset=".5047" stop-color="#ffdfdf"/><stop offset=".507" stop-color="#ffdfdf"/><stop offset=".5093" stop-color="#ababff"/><stop offset=".5116" stop-color="#b8b8ff"/><stop offset=".514" stop-color="#aeaeff"/><stop offset=".5163" stop-color="#aeaeff"/><stop offset=".5186" stop-color="#babaff"/><stop offset=".5209" stop-color="#d8d8ff"/><stop offset=".5233" stop-color="#e8e8ff"/><stop offset=".5256" stop-color="#e8e8ff"/><stop offset=".5279" stop-color="#dedeff"/><stop offset=".5302" stop-color="#f3f3ff"/><stop offset=".5326" stop-color="#fff8f8"/><stop offset=".5349" stop-color="#fff8f8"/><stop offset=".5372" stop-color="#ffecec"/><stop offset=".5395" stop-color="#ffefef"/><stop offset=".5419" stop-color="#f2f2ff"/><stop offset=".5442" stop-color="#f2f2ff"/><stop offset=".5465" stop-color="#ececff"/><stop offset=".5488" stop-color="#fbfbff"/><stop offset=".5512" stop-color="#fafaff"/><stop offset=".5535" stop-color="#fafaff"/><stop offset=".5558" stop-color="#f8f8ff"/><stop offset=".5581" stop-color="#fffbfb"/><stop offset=".5605" stop-color="#ffdcdc"/><stop offset=".5628" stop-color="#ffdcdc"/><stop offset=".5651" stop-color="#ffdada"/><stop offset=".5674" stop-color="#ffe8e8"/><stop offset=".5698" stop-color="#ffe0e0"/><stop offset=".5744" stop-color="#ffe0e0"/><stop offset=".5767" stop-color="#ffd6d6"/><stop offset=".5791" stop-color="#ffd4d4"/><stop offset=".5814" stop-color="#ffe7e7"/><stop offset=".5837" stop-color="#fff6f6"/><stop offset=".586" stop-color="#fff2f2"/><stop offset=".5884" stop-color="#f7f7ff"/><stop offset=".5907" stop-color="#ffe1e1"/><stop offset=".593" stop-color="#ffbaba"/><stop offset=".5953" stop-color="#ffc8c8"/><stop offset=".5977" stop-color="#ffc7c7"/><stop offset=".6" stop-color="#bebeff"/><stop offset=".6023" stop-color="#bcbcff"/><stop offset=".6047" stop-color="#b8b8ff"/><stop offset=".607" stop-color="#aaaaff"/><stop offset=".6093" stop-color="#aaaaff"/><stop offset=".6116" stop-color="#b1b1ff"/><stop offset=".614" stop-color="#b9b9ff"/><stop offset=".6163" stop-color="#bebeff"/><stop offset=".6186" stop-color="#bebeff"/><stop offset=".6209" stop-color="#b6b6ff"/><stop offset=".6233" stop-color="#c1c1ff"/><stop offset=".6256" stop-color="#c5c5ff"/><stop offset=".6279" stop-color="#c5c5ff"/><stop offset=".6302" stop-color="#c1c1ff"/><stop offset=".6326" stop-color="#c1c1ff"/><stop offset=".6349" stop-color="#d4d4ff"/><stop offset=".6372" stop-color="#d4d4ff"/><stop offset=".6395" stop-color="#b9b9ff"/><stop offset=".6419" stop-color="#5454ff"/><stop offset=".6442" stop-color="#6161ff"/><stop offset=".6465" stop-color="#6161ff"/><stop offset=".6488" stop-color="#0c0cff"/><stop offset=".6512" stop-color="#1212ff"/><stop offset=".6535" stop-color="#0b0bff"/><stop offset=".6558" stop-color="#0b0bff"/><stop offset=".6581" stop-color="#0d0dff"/><stop offset=".6605" stop-color="#7575ff"/><stop offset=".6628" stop-color="#5858ff"/><stop offset=".6651" stop-color="#8b8bff"/><stop offset=".6674" stop-color="#a2a2ff"/><stop offset=".6698" stop-color="#9c9cff"/><stop offset=".6721" stop-color="#9b9bff"/><stop offset=".6744" stop-color="#9b9bff"/><stop offset=".6767" stop-color="#a6a6ff"/><stop offset=".6791" stop-color="#9494ff"/><stop offset=".6814" stop-color="#b8b8ff"/><stop offset=".6837" stop-color="#b8b8ff"/><stop offset=".686" stop-color="#afafff"/><stop offset=".6884" stop-color="#bebeff"/><stop offset=".6907" stop-color="#a8a8ff"/><stop offset=".693" stop-color="#a8a8ff"/><stop offset=".6953" stop-color="#b2b2ff"/><stop offset=".6977" stop-color="#3b3bff"/><stop offset=".7" stop-color="#3737ff"/><stop offset=".7023" stop-color="#3737ff"/><stop offset=".7047" stop-color="#4949ff"/><stop offset=".707" stop-color="#5050ff"/><stop offset=".7093" stop-color="#5858ff"/><stop offset=".7116" stop-color="#5858ff"/><stop offset=".714" stop-color="#3f3fff"/><stop offset=".7163" stop-color="#4a4aff"/><stop offset=".7186" stop-color="#4b4bff"/><stop offset=".7209" stop-color="#4b4bff"/><stop offset=".7233" stop-color="#5656ff"/><stop offset=".7256" stop-color="#4545ff"/><stop offset=".7279" stop-color="#5656ff"/><stop offset=".7302" stop-color="#5656ff"/><stop offset=".7326" stop-color="#8f8fff"/><stop offset=".7349" stop-color="#8787ff"/><stop offset=".7395" stop-color="#8787ff"/><stop offset=".7419" stop-color="#8383ff"/><stop offset=".7442" stop-color="#c5c5ff"/><stop offset=".7465" stop-color="#ccccff"/><stop offset=".7488" stop-color="#ccccff"/><stop offset=".7512" stop-color="#ceceff"/><stop offset=".7535" stop-color="#d9d9ff"/><stop offset=".7558" stop-color="#ceceff"/><stop offset=".7581" stop-color="#8e8eff"/><stop offset=".7605" stop-color="#8686ff"/><stop offset=".7628" stop-color="#9494ff"/><stop offset=".7651" stop-color="#8484ff"/><stop offset=".7674" stop-color="#8484ff"/><stop offset=".7698" stop-color="#7b7bff"/><stop offset=".7721" stop-color="#8a8aff"/><stop offset=".7744" stop-color="#adadff"/><stop offset=".7767" stop-color="#adadff"/><stop offset=".7791" stop-color="#b8b8ff"/><stop offset=".7814" stop-color="#b2b2ff"/><stop offset=".7837" stop-color="#ceceff"/><stop offset=".786" stop-color="#ceceff"/><stop offset=".7884" stop-color="#d3d3ff"/><stop offset=".7907" stop-color="#d4d4ff"/><stop offset=".793" stop-color="#ebebff"/><stop offset=".7953" stop-color="#c5c5ff"/><stop offset=".7977" stop-color="#a8a8ff"/><stop offset=".8" stop-color="#5050ff"/><stop offset=".8023" stop-color="#6464ff"/><stop offset=".8047" stop-color="#6464ff"/><stop offset=".807" stop-color="#b3b3ff"/><stop offset=".8093" stop-color="#a3a3ff"/><stop offset=".8116" stop-color="#b2b2ff"/><stop offset=".814" stop-color="#b2b2ff"/><stop offset=".8163" stop-color="#a5a5ff"/><stop offset=".8186" stop-color="#9e9eff"/><stop offset=".8209" stop-color="#a5a5ff"/><stop offset=".8233" stop-color="#a5a5ff"/><stop offset=".8256" stop-color="#aeaeff"/><stop offset=".8279" stop-color="#fff2f2"/><stop offset=".8302" stop-color="#fdfdff"/><stop offset=".8326" stop-color="#9797ff"/><stop offset=".8349" stop-color="#8e8eff"/><stop offset=".8372" stop-color="#9b9bff"/><stop offset=".8395" stop-color="#9595ff"/><stop offset=".8419" stop-color="#9595ff"/><stop offset=".8442" stop-color="#9393ff"/><stop offset=".8465" stop-color="#9d9dff"/><stop offset=".8488" stop-color="#9b9bff"/><stop offset=".8512" stop-color="#9b9bff"/><stop offset=".8535" stop-color="#8f8fff"/><stop offset=".8558" stop-color="#c6c6ff"/><stop offset=".8581" stop-color="#d8d8ff"/><stop offset=".8605" stop-color="#d8d8ff"/><stop offset=".8628" stop-color="#cacaff"/><stop offset=".8651" stop-color="#e9e9ff"/><stop offset=".8674" stop-color="#c4c4ff"/><stop offset=".8698" stop-color="#c4c4ff"/><stop offset=".8721" stop-color="#8989ff"/><stop offset=".8744" stop-color="#9393ff"/><stop offset=".8767" stop-color="#8a8aff"/><stop offset=".8791" stop-color="#8a8aff"/><stop offset=".8814" stop-color="#9494ff"/><stop offset=".8837" stop-color="#a6a6ff"/><stop offset=".886" stop-color="#9a9aff"/><stop offset=".8884" stop-color="#9a9aff"/><stop offset=".8907" stop-color="#b6b6ff"/><stop offset=".893" stop-color="#b5b5ff"/><stop offset=".8953" stop-color="#9797ff"/><stop offset=".8977" stop-color="#9797ff"/><stop offset=".9" stop-color="#a3a3ff"/><stop offset=".9023" stop-color="#cdcdff"/><stop offset=".9047" stop-color="#d5d5ff"/><stop offset=".907" stop-color="#8989ff"/><stop offset=".9093" stop-color="#8888ff"/><stop offset=".9116" stop-color="#8a8aff"/><stop offset=".914" stop-color="#9696ff"/><stop offset=".9163" stop-color="#d6d6ff"/><stop offset=".9186" stop-color="#d7d7ff"/><stop offset=".9209" stop-color="#c9c9ff"/><stop offset=".9233" stop-color="#d0d0ff"/><stop offset=".9256" stop-color="#d0d0ff"/><stop offset=".9279" stop-color="#b8b8ff"/><stop offset=".9302" stop-color="#a5a5ff"/><stop offset=".9326" stop-color="#b3b3ff"/><stop offset=".9349" stop-color="#b3b3ff"/><stop offset=".9372" stop-color="#aaaaff"/><stop offset=".9395" stop-color="#2a2aff"/><stop offset=".9419" stop-color="#2b2bff"/><stop offset=".9442" stop-color="#2b2bff"/><stop offset=".9465" stop-color="#6969ff"/><stop offset=".9488" stop-color="#7373ff"/><stop offset=".9512" stop-color="#6464ff"/><stop offset=".9535" stop-color="#6464ff"/><stop offset=".9558" stop-color="#5f5fff"/><stop offset=".9581" stop-color="#7272ff"/><stop offset=".9605" stop-color="#8c8cff"/><stop offset=".9628" stop-color="#8c8cff"/><stop offset=".9651" stop-color="#8f8fff"/><stop offset=".9674" stop-color="#8181ff"/><stop offset=".9698" stop-color="#9f9fff"/><stop offset=".9721" stop-color="#9f9fff"/><stop offset=".9744" stop-color="#9898ff"/><stop offset=".9767" stop-color="#9898ff"/><stop offset=".9791" stop-color="#9090ff"/><stop offset=".9814" stop-color="#5050ff"/><stop offset=".9837" stop-color="#5353ff"/><stop offset=".986" stop-color="#5656ff"/><stop offset=".9884" stop-color="#5b5bff"/><stop offset=".9907" stop-color="#9494ff"/><stop offset=".993" stop-color="#9e9eff"/><stop offset=".9953" stop-color="#8383ff"/><stop offset=".9977" stop-color="#8686ff"/><stop offset="1" stop-color="#8686ff"/></linearGradient><linearGradient id="cbc" x1="0" y1="0" x2="0" y2="1"><stop offset="0.003" stop-color="#ff0505"/><stop offset="0.017" stop-color="#ff0505"/><stop offset="0.023" stop-color="#ff0f0f"/><stop offset="0.037" stop-color="#ff0f0f"/><stop offset="0.043" stop-color="#ff1919"/><stop offset="0.057" stop-color="#ff1919"/><stop offset="0.063" stop-color="#ff2424"/><stop offset="0.077" stop-color="#ff2424"/><stop offset="0.083" stop-color="#ff2e2e"/><stop offset="0.097" stop-color="#ff2e2e"/><stop offset="0.103" stop-color="#ff3838"/><stop offset="0.117" stop-color="#ff3838"/><stop offset="0.123" stop-color="#ff4242"/><stop offset="0.137" stop-color="#ff4242"/><stop offset="0.143" stop-color="#ff4d4d"/><stop offset="0.157" stop-color="#ff4d4d"/><stop offset="0.163" stop-color="#ff5757"/><stop offset="0.177" stop-color="#ff5757"/><stop offset="0.183" stop-color="#ff6161"/><stop offset="0.197" stop-color="#ff6161"/><stop offset="0.203" stop-color="#ff6b6b"/><stop offset="0.217" stop-color="#ff6b6b"/><stop offset="0.223" stop-color="#ff7575"/><stop offset="0.237" stop-color="#ff7575"/><stop offset="0.243" stop-color="#ff8080"/><stop offset="0.257" stop-color="#ff8080"/><stop offset="0.263" stop-color="#ff8a8a"/><stop offset="0.277" stop-color="#ff8a8a"/><stop offset="0.283" stop-color="#ff9494"/><stop offset="0.297" stop-color="#ff9494"/><stop offset="0.303" stop-color="#ff9e9e"/><stop offset="0.317" stop-color="#ff9e9e"/><stop offset="0.323" stop-color="#ffa8a8"/><stop offset="0.337" stop-color="#ffa8a8"/><stop offset="0.343" stop-color="#ffb2b2"/><stop offset="0.357" stop-color="#ffb2b2"/><stop offset="0.363" stop-color="#ffbdbd"/><stop offset="0.377" stop-color="#ffbdbd"/><stop offset="0.383" stop-color="#ffc7c7"/><stop offset="0.397" stop-color="#ffc7c7"/><stop offset="0.403" stop-color="#ffd1d1"/><stop offset="0.417" stop-color="#ffd1d1"/><stop offset="0.423" stop-color="#ffdbdb"/><stop offset="0.437" stop-color="#ffdbdb"/><stop offset="0.443" stop-color="#ffe6e6"/><stop offset="0.457" stop-color="#ffe6e6"/><stop offset="0.463" stop-color="#fff0f0"/><stop offset="0.477" stop-color="#fff0f0"/><stop offset="0.483" stop-color="#fffafa"/><stop offset="0.497" stop-color="#fffafa"/><stop offset="0.503" stop-color="#fafaff"/><stop offset="0.517" stop-color="#fafaff"/><stop offset="0.523" stop-color="#f0f0ff"/><stop offset="0.537" stop-color="#f0f0ff"/><stop offset="0.543" stop-color="#e5e5ff"/><stop offset="0.557" stop-color="#e5e5ff"/><stop offset="0.563" stop-color="#dbdbff"/><stop offset="0.577" stop-color="#dbdbff"/><stop offset="0.583" stop-color="#d1d1ff"/><stop offset="0.597" stop-color="#d1d1ff"/><stop offset="0.603" stop-color="#c7c7ff"/><stop offset="0.617" stop-color="#c7c7ff"/><stop offset="0.623" stop-color="#bdbdff"/><stop offset="0.637" stop-color="#bdbdff"/><stop offset="0.643" stop-color="#b2b2ff"/><stop offset="0.657" stop-color="#b2b2ff"/><stop offset="0.663" stop-color="#a8a8ff"/><stop offset="0.677" stop-color="#a8a8ff"/><stop offset="0.683" stop-color="#9e9eff"/><stop offset="0.697" stop-color="#9e9eff"/><stop offset="0.703" stop-color="#9494ff"/><stop offset="0.717" stop-color="#9494ff"/><stop offset="0.723" stop-color="#8a8aff"/><stop offset="0.737" stop-color="#8a8aff"/><stop offset="0.743" stop-color="#8080ff"/><stop offset="0.757" stop-color="#8080ff"/><stop offset="0.763" stop-color="#7575ff"/><stop offset="0.777" stop-color="#7575ff"/><stop offset="0.783" stop-color="#6b6bff"/><stop offset="0.797" stop-color="#6b6bff"/><stop offset="0.803" stop-color="#6161ff"/><stop offset="0.817" stop-color="#6161ff"/><stop offset="0.823" stop-color="#5757ff"/><stop offset="0.837" stop-color="#5757ff"/><stop offset="0.843" stop-color="#4d4dff"/><stop offset="0.857" stop-color="#4d4dff"/><stop offset="0.863" stop-color="#4242ff"/><stop offset="0.877" stop-color="#4242ff"/><stop offset="0.883" stop-color="#3838ff"/><stop offset="0.897" stop-color="#3838ff"/><stop offset="0.903" stop-color="#2e2eff"/><stop offset="0.917" stop-color="#2e2eff"/><stop offset="0.923" stop-color="#2424ff"/><stop offset="0.937" stop-color="#2424ff"/><stop offset="0.943" stop-color="#1a1aff"/><stop offset="0.957" stop-color="#1a1aff"/><stop offset="0.963" stop-color="#0f0fff"/><stop offset="0.977" stop-color="#0f0fff"/><stop offset="0.983" stop-color="#0505ff"/><stop offset="0.997" stop-color="#0505ff"/></linearGradient><linearGradient id="d0" x1="0" y1="0" x2="0" y2="1"><stop offset="0" stop-color="#c8c8ff"/><stop offset=".0047" stop-color="#c8c8ff"/><stop offset=".007" stop-color="#cdcdff"/><stop offset=".0093" stop-color="#cdcdff"/><stop offset=".0116" stop-color="#d1d1ff"/><stop offset=".0163" stop-color="#d1d1ff"/><stop offset=".0186" stop-color="#cbcbff"/><stop offset=".0209" stop-color="#cbcbff"/><stop offset=".0233" stop-color="#cacaff"/><stop offset=".0256" stop-color="#cacaff"/><stop offset=".0279" stop-color="#c6c6ff"/><stop offset=".0326" stop-color="#c6c6ff"/><stop offset=".0349" stop-color="#b4b4ff"/><stop offset=".0372" stop-color="#b4b4ff"/><stop offset=".0395" stop-color="#b2b2ff"/><stop offset=".0419" stop-color="#b2b2ff"/><stop offset=".0442" stop-color="#bebeff"/><stop offset=".0465" stop-color="#babaff"/><stop offset=".0488" stop-color="#babaff"/><stop offset=".0512" stop-color="#bdbdff"/><stop offset=".0535" stop-color="#bdbdff"/><stop offset=".0558" stop-color="#c3c3ff"/><stop offset=".0581" stop-color="#c3c3ff"/><stop offset=".0605" stop-color="#9d9dff"/><stop offset=".0628" stop-color="#9a9aff"/><stop offset=".0651" stop-color="#9a9aff"/><stop offset=".0674" stop-color="#9898ff"/><stop offset=".0698" stop-color="#9898ff"/><stop offset=".0721" stop-color="#ababff"/><stop offset=".0744" stop-color="#a8a8ff"/><stop offset=".0767" stop-color="#a8a8ff"/><stop offset=".0791" stop-color="#acacff"/><stop offset=".0814" stop-color="#acacff"/><stop offset=".0837" stop-color="#aaaaff"/><stop offset=".0884" stop-color="#aaaaff"/><stop offset=".0907" stop-color="#acacff"/><stop offset=".093" stop-color="#acacff"/><stop offset=".0953" stop-color="#aeaeff"/><stop offset=".0977" stop-color="#aeaeff"/><stop offset=".1" stop-color="#a3a3ff"/><stop offset=".1047" stop-color="#a3a3ff"/><stop offset=".107" stop-color="#9999ff"/><stop offset=".1093" stop-color="#9999ff"/><stop offset=".1116" stop-color="#9e9eff"/><stop offset=".1163" stop-color="#9e9eff"/><stop offset=".1186" stop-color="#a0a0ff"/><stop offset=".1209" stop-color="#a0a0ff"/><stop offset=".1233" stop-color="#9e9eff"/><stop offset=".1256" stop-color="#9e9eff"/><stop offset=".1279" stop-color="#a7a7ff"/><stop offset=".1326" stop-color="#a7a7ff"/><stop offset=".1349" stop-color="#bbbbff"/><stop offset=".1442" stop-color="#bbbbff"/><stop offset=".1465" stop-color="#b6b6ff"/><stop offset=".1488" stop-color="#b6b6ff"/><stop offset=".1512" stop-color="#b3b3ff"/><stop offset=".1535" stop-color="#b3b3ff"/><stop offset=".1558" stop-color="#b7b7ff"/><stop offset=".1581" stop-color="#ababff"/><stop offset=".1605" stop-color="#ababff"/><stop offset=".1628" stop-color="#a0a0ff"/><stop offset=".1651" stop-color="#a0a0ff"/><stop offset=".1674" stop-color="#9f9fff"/><stop offset=".1721" stop-color="#9f9fff"/><stop offset=".1744" stop-color="#a2a2ff"/><stop offset=".1767" stop-color="#a2a2ff"/><stop offset=".1791" stop-color="#b1b1ff"/><stop offset=".1814" stop-color="#b1b1ff"/><stop offset=".1837" stop-color="#b9b9ff"/><stop offset=".1884" stop-color="#b9b9ff"/><stop offset=".1907" stop-color="#b5b5ff"/><stop offset=".193" stop-color="#b5b5ff"/><stop offset=".1953" stop-color="#babaff"/><stop offset=".1977" stop-color="#babaff"/><stop offset=".2" stop-color="#b3b3ff"/><stop offset=".2047" stop-color="#b3b3ff"/><stop offset=".207" stop-color="#b2b2ff"/><stop offset=".2093" stop-color="#b2b2ff"/><stop offset=".2116" stop-color="#afafff"/><stop offset=".214" stop-color="#afafff"/><stop offset=".2163" stop-color="#8989ff"/><stop offset=".2186" stop-color="#8f8fff"/><stop offset=".2209" stop-color="#8f8fff"/><stop offset=".2233" stop-color="#9090ff"/><stop offset=".2256" stop-color="#9090ff"/><stop offset=".2279" stop-color="#8d8dff"/><stop offset=".2326" stop-color="#8d8dff"/><stop offset=".2349" stop-color="#8e8eff"/><stop offset=".2372" stop-color="#8e8eff"/><stop offset=".2395" stop-color="#8b8bff"/><stop offset=".2535" stop-color="#8b8bff"/><stop offset=".2558" stop-color="#8585ff"/><stop offset=".2605" stop-color="#8585ff"/><stop offset=".2628" stop-color="#8888ff"/><stop offset=".2651" stop-color="#8888ff"/><stop offset=".2674" stop-color="#bfbfff"/><stop offset=".2721" stop-color="#bfbfff"/><stop offset=".2744" stop-color="#c0c0ff"/><stop offset=".2767" stop-color="#c0c0ff"/><stop offset=".2791" stop-color="#c3c3ff"/><stop offset=".2814" stop-color="#c3c3ff"/><stop offset=".2837" stop-color="#c2c2ff"/><stop offset=".286" stop-color="#c2c2ff"/><stop offset=".2884" stop-color="#ceceff"/><stop offset=".293" stop-color="#ceceff"/><stop offset=".2953" stop-color="#ccccff"/><stop offset=".3" stop-color="#ccccff"/><stop offset=".3023" stop-color="#c3c3ff"/><stop offset=".3047" stop-color="#c3c3ff"/><stop offset=".307" stop-color="#ccccff"/><stop offset=".3093" stop-color="#ccccff"/><stop offset=".3116" stop-color="#c9c9ff"/><stop offset=".3163" stop-color="#c9c9ff"/><stop offset=".3186" stop-color="#ceceff"/><stop offset=".3209" stop-color="#ceceff"/><stop offset=".3233" stop-color="#b8b8ff"/><stop offset=".3279" stop-color="#b8b8ff"/><stop offset=".3302" stop-color="#bebeff"/><stop offset=".3326" stop-color="#bebeff"/><stop offset=".3349" stop-color="#bdbdff"/><stop offset=".3372" stop-color="#bdbdff"/><stop offset=".3395" stop-color="#bebeff"/><stop offset=".3419" stop-color="#bebeff"/><stop offset=".3442" stop-color="#b8b8ff"/><stop offset=".3465" stop-color="#b1b1ff"/><stop offset=".3488" stop-color="#b1b1ff"/><stop offset=".3512" stop-color="#b3b3ff"/><stop offset=".3535" stop-color="#b3b3ff"/><stop offset=".3558" stop-color="#cacaff"/><stop offset=".3605" stop-color="#cacaff"/><stop offset=".3628" stop-color="#c7c7ff"/><stop offset=".3651" stop-color="#c7c7ff"/><stop offset=".3674" stop-color="#cacaff"/><stop offset=".3721" stop-color="#cacaff"/><stop offset=".3744" stop-color="#cbcbff"/><stop offset=".3814" stop-color="#cbcbff"/><stop offset=".3837" stop-color="#d8d8ff"/><stop offset=".3884" stop-color="#d8d8ff"/><stop offset=".3907" stop-color="#ceceff"/><stop offset=".393" stop-color="#ceceff"/><stop offset=".3953" stop-color="#ccccff"/><stop offset=".3977" stop-color="#ccccff"/><stop offset=".4" stop-color="#c9c9ff"/><stop offset=".4047" stop-color="#c9c9ff"/><stop offset=".407" stop-color="#c0c0ff"/><stop offset=".4093" stop-color="#c0c0ff"/><stop offset=".4116" stop-color="#cacaff"/><stop offset=".4163" stop-color="#cacaff"/><stop offset=".4186" stop-color="#cfcfff"/><stop offset=".4209" stop-color="#cfcfff"/><stop offset=".4233" stop-color="#cdcdff"/><stop offset=".4256" stop-color="#cdcdff"/><stop offset=".4279" stop-color="#b3b3ff"/><stop offset=".4326" stop-color="#b3b3ff"/><stop offset=".4349" stop-color="#b0b0ff"/><stop offset=".4372" stop-color="#b0b0ff"/><stop offset=".4395" stop-color="#bbbbff"/><stop offset=".4442" stop-color="#bbbbff"/><stop offset=".4465" stop-color="#b3b3ff"/><stop offset=".4488" stop-color="#b3b3ff"/><stop offset=".4512" stop-color="#b1b1ff"/><stop offset=".4535" stop-color="#b1b1ff"/><stop offset=".4558" stop-color="#aeaeff"/><stop offset=".4605" stop-color="#aeaeff"/><stop offset=".4628" stop-color="#9f9fff"/><stop offset=".4651" stop-color="#9f9fff"/><stop offset=".4674" stop-color="#9595ff"/><stop offset=".4721" stop-color="#9595ff"/><stop offset=".4744" stop-color="#9797ff"/><stop offset=".4767" stop-color="#aaaaff"/><stop offset=".4791" stop-color="#a3a3ff"/><stop offset=".4814" stop-color="#a3a3ff"/><stop offset=".4837" stop-color="#b3b3ff"/><stop offset=".4884" stop-color="#b3b3ff"/><stop offset=".4907" stop-color="#ababff"/><stop offset=".493" stop-color="#ababff"/><stop offset=".4953" stop-color="#b2b2ff"/><stop offset=".4977" stop-color="#b2b2ff"/><stop offset=".5" stop-color="#b4b4ff"/><stop offset=".5047" stop-color="#b4b4ff"/><stop offset=".507" stop-color="#afafff"/><stop offset=".5093" stop-color="#afafff"/><stop offset=".5116" stop-color="#b0b0ff"/><stop offset=".5163" stop-color="#b0b0ff"/><stop offset=".5186" stop-color="#b4b4ff"/><stop offset=".5209" stop-color="#b4b4ff"/><stop offset=".5233" stop-color="#afafff"/><stop offset=".5256" stop-color="#afafff"/><stop offset=".5279" stop-color="#c0c0ff"/><stop offset=".5302" stop-color="#c0c0ff"/><stop offset=".5326" stop-color="#b4b4ff"/><stop offset=".5349" stop-color="#b7b7ff"/><stop offset=".5372" stop-color="#b7b7ff"/><stop offset=".5395" stop-color="#b5b5ff"/><stop offset=".5442" stop-color="#b5b5ff"/><stop offset=".5465" stop-color="#b8b8ff"/><stop offset=".5488" stop-color="#b8b8ff"/><stop offset=".5512" stop-color="#b7b7ff"/><stop offset=".5535" stop-color="#b7b7ff"/><stop offset=".5558" stop-color="#b9b9ff"/><stop offset=".5581" stop-color="#b9b9ff"/><stop offset=".5605" stop-color="#acacff"/><stop offset=".5628" stop-color="#a7a7ff"/><stop offset=".5698" stop-color="#a7a7ff"/><stop offset=".5721" stop-color="#a1a1ff"/><stop offset=".5744" stop-color="#9b9bff"/><stop offset=".5767" stop-color="#9b9bff"/><stop offset=".5791" stop-color="#9f9fff"/><stop offset=".5814" stop-color="#9f9fff"/><stop offset=".5837" stop-color="#9d9dff"/><stop offset=".586" stop-color="#9696ff"/><stop offset=".5884" stop-color="#9696ff"/><stop offset=".5907" stop-color="#9999ff"/><stop offset=".593" stop-color="#9999ff"/><stop offset=".5953" stop-color="#9595ff"/><stop offset=".5977" stop-color="#9595ff"/><stop offset=".6" stop-color="#acacff"/><stop offset=".6023" stop-color="#b1b1ff"/><stop offset=".6047" stop-color="#b1b1ff"/><stop offset=".607" stop-color="#babaff"/><stop offset=".6093" stop-color="#babaff"/><stop offset=".6116" stop-color="#adadff"/><stop offset=".6163" stop-color="#adadff"/><stop offset=".6186" stop-color="#b2b2ff"/><stop offset=".6209" stop-color="#9b9bff"/><stop offset=".6256" stop-color="#9b9bff"/><stop offset=".6279" stop-color="#9696ff"/><stop offset=".6302" stop-color="#9696ff"/><stop offset=".6326" stop-color="#a9a9ff"/><stop offset=".6349" stop-color="#ababff"/><stop offset=".6372" stop-color="#ababff"/><stop offset=".6395" stop-color="#aaaaff"/><stop offset=".6442" stop-color="#aaaaff"/><stop offset=".6465" stop-color="#aeaeff"/><stop offset=".6488" stop-color="#aeaeff"/><stop offset=".6512" stop-color="#aaaaff"/><stop offset=".6535" stop-color="#a3a3ff"/><stop offset=".6558" stop-color="#b0b0ff"/><stop offset=".6581" stop-color="#b0b0ff"/><stop offset=".6605" stop-color="#ff1010"/><stop offset=".6628" stop-color="#ff1212"/><stop offset=".6721" stop-color="#ff1212"/><stop offset=".6744" stop-color="#ff1010"/><stop offset=".6767" stop-color="#ff4444"/><stop offset=".6791" stop-color="#ff4747"/><stop offset=".6814" stop-color="#ff4747"/><stop offset=".6837" stop-color="#ff4d4d"/><stop offset=".686" stop-color="#ff4d4d"/><stop offset=".6884" stop-color="#ff2727"/><stop offset=".6907" stop-color="#ff2525"/><stop offset=".693" stop-color="#ff2525"/><stop offset=".6953" stop-color="#ff2626"/><stop offset=".7" stop-color="#ff2626"/><stop offset=".7023" stop-color="#ff2525"/><stop offset=".7047" stop-color="#ff0000"/><stop offset=".7093" stop-color="#ff0000"/><stop offset=".7116" stop-color="#ff0303"/><stop offset=".7163" stop-color="#ff0303"/><stop offset=".7186" stop-color="#ff0202"/><stop offset=".7209" stop-color="#ff0202"/><stop offset=".7233" stop-color="#ff0000"/><stop offset=".7326" stop-color="#ff0000"/><stop offset=".7349" stop-color="#ff0101"/><stop offset=".7372" stop-color="#ff0101"/><stop offset=".7395" stop-color="#ff0000"/><stop offset=".7651" stop-color="#ff0000"/><stop offset=".7674" stop-color="#ff0202"/><stop offset=".7698" stop-color="#ff1f1f"/><stop offset=".7721" stop-color="#ff1f1f"/><stop offset=".7744" stop-color="#ff1818"/><stop offset=".7767" stop-color="#ff1818"/><stop offset=".7791" stop-color="#ff1919"/><stop offset=".7814" stop-color="#ff1919"/><stop offset=".7837" stop-color="#ff1d1d"/><stop offset=".786" stop-color="#ff3737"/><stop offset=".7884" stop-color="#ff3737"/><stop offset=".7907" stop-color="#ff3131"/><stop offset=".793" stop-color="#ff3131"/><stop offset=".7953" stop-color="#ff4141"/><stop offset=".7977" stop-color="#ff4141"/><stop offset=".8" stop-color="#cbcbff"/><stop offset=".8047" stop-color="#cbcbff"/><stop offset=".807" stop-color="#c6c6ff"/><stop offset=".8093" stop-color="#c6c6ff"/><stop offset=".8116" stop-color="#cfcfff"/><stop offset=".814" stop-color="#cfcfff"/><stop offset=".8163" stop-color="#b6b6ff"/><stop offset=".8186" stop-color="#afafff"/><stop offset=".8209" stop-color="#afafff"/><stop offset=".8233" stop-color="#dadaff"/><stop offset=".8256" stop-color="#dadaff"/><stop offset=".8279" stop-color="#a6a6ff"/><stop offset=".8302" stop-color="#a6a6ff"/><stop offset=".8326" stop-color="#ffb2b2"/><stop offset=".8349" stop-color="#ffb5b5"/><stop offset=".8372" stop-color="#ffb5b5"/><stop offset=".8395" stop-color="#ffb3b3"/><stop offset=".8419" stop-color="#ffb3b3"/><stop offset=".8442" stop-color="#ffc0c0"/><stop offset=".8465" stop-color="#ffc0c0"/><stop offset=".8488" stop-color="#ff8181"/><stop offset=".8535" stop-color="#ff8181"/><stop offset=".8558" stop-color="#fff2f2"/><stop offset=".8581" stop-color="#fff2f2"/><stop offset=".8605" stop-color="#fffefe"/><stop offset=".8628" stop-color="#fcfcff"/><stop offset=".8651" stop-color="#fcfcff"/><stop offset=".8674" stop-color="#ffa3a3"/><stop offset=".8721" stop-color="#ffa3a3"/><stop offset=".8744" stop-color="#ffa6a6"/><stop offset=".8767" stop-color="#ffa6a6"/><stop offset=".8791" stop-color="#ffcaca"/><stop offset=".8814" stop-color="#ffcaca"/><stop offset=".8837" stop-color="#ffc4c4"/><stop offset=".886" stop-color="#ffc4c4"/><stop offset=".8884" stop-color="#ffe4e4"/><stop offset=".8907" stop-color="#ffe7e7"/><stop offset=".893" stop-color="#ffe7e7"/><stop offset=".8953" stop-color="#ffb1b1"/><stop offset=".8977" stop-color="#ffb1b1"/><stop offset=".9" stop-color="#ffbcbc"/><stop offset=".9023" stop-color="#ffbcbc"/><stop offset=".9047" stop-color="#dcdcff"/><stop offset=".907" stop-color="#e7e7ff"/><stop offset=".9093" stop-color="#e7e7ff"/><stop offset=".9116" stop-color="#c3c3ff"/><stop offset=".9163" stop-color="#c3c3ff"/><stop offset=".9186" stop-color="#cacaff"/><stop offset=".9209" stop-color="#cacaff"/><stop offset=".9233" stop-color="#d8d8ff"/><stop offset=".9256" stop-color="#d8d8ff"/><stop offset=".9279" stop-color="#ceceff"/><stop offset=".9326" stop-color="#ceceff"/><stop offset=".9349" stop-color="#ffe8e8"/><stop offset=".9372" stop-color="#ffe8e8"/><stop offset=".9395" stop-color="#b6b6ff"/><stop offset=".9442" stop-color="#b6b6ff"/><stop offset=".9465" stop-color="#b4b4ff"/><stop offset=".9488" stop-color="#b4b4ff"/><stop offset=".9512" stop-color="#b8b8ff"/><stop offset=".9535" stop-color="#b8b8ff"/><stop offset=".9558" stop-color="#babaff"/><stop offset=".9581" stop-color="#babaff"/><stop offset=".9605" stop-color="#a7a7ff"/><stop offset=".9628" stop-color="#a5a5ff"/><stop offset=".9651" stop-color="#a5a5ff"/><stop offset=".9674" stop-color="#a3a3ff"/><stop offset=".9721" stop-color="#a3a3ff"/><stop offset=".9744" stop-color="#a2a2ff"/><stop offset=".9767" stop-color="#a2a2ff"/><stop offset=".9791" stop-color="#ff5b5b"/><stop offset=".9814" stop-color="#ff5b5b"/><stop offset=".9837" stop-color="#ffa0a0"/><stop offset=".9884" stop-color="#ffa0a0"/><stop offset=".9907" stop-color="#ffd9d9"/><stop offset=".993" stop-color="#ffd9d9"/><stop offset=".9953" stop-color="#ffdbdb"/><stop offset="1" stop-color="#ffdbdb"/></linearGradient><linearGradient id="d1" x1="0" y1="0" x2="0" y2="1"><stop offset="0" stop-color="#c8c8ff"/><stop offset=".0047" stop-color="#c8c8ff"/><stop offset=".007" stop-color="#cdcdff"/><stop offset=".0093" stop-color="#cdcdff"/><stop offset=".0116" stop-color="#d1d1ff"/><stop offset=".0163" stop-color="#d1d1ff"/><stop offset=".0186" stop-color="#cbcbff"/><stop offset=".0209" stop-color="#cbcbff"/><stop offset=".0233" stop-color="#cacaff"/><stop offset=".0256" stop-color="#cacaff"/><stop offset=".0279" stop-color="#c6c6ff"/><stop offset=".0326" stop-color="#c6c6ff"/><stop offset=".0349" stop-color="#b4b4ff"/><stop offset=".0372" stop-color="#b4b4ff"/><stop offset=".0395" stop-color="#b2b2ff"/><stop offset=".0419" stop-color="#b2b2ff"/><stop offset=".0442" stop-color="#bebeff"/><stop offset=".0465" stop-color="#babaff"/><stop offset=".0488" stop-color="#babaff"/><stop offset=".0512" stop-color="#bdbdff"/><stop offset=".0535" stop-color="#bdbdff"/><stop offset=".0558" stop-color="#c3c3ff"/><stop offset=".0581" stop-color="#c3c3ff"/><stop offset=".0605" stop-color="#9d9dff"/><stop offset=".0628" stop-color="#9a9aff"/><stop offset=".0651" stop-color="#9a9aff"/><stop offset=".0674" stop-color="#9898ff"/><stop offset=".0698" stop-color="#9898ff"/><stop offset=".0721" stop-color="#ababff"/><stop offset=".0744" stop-color="#a8a8ff"/><stop offset=".0767" stop-color="#a8a8ff"/><stop offset=".0791" stop-color="#acacff"/><stop offset=".0814" stop-color="#acacff"/><stop offset=".0837" stop-color="#aaaaff"/><stop offset=".0884" stop-color="#aaaaff"/><stop offset=".0907" stop-color="#acacff"/><stop offset=".093" stop-color="#acacff"/><stop offset=".0953" stop-color="#aeaeff"/><stop offset=".0977" stop-color="#aeaeff"/><stop offset=".1" stop-color="#a3a3ff"/><stop offset=".1047" stop-color="#a3a3ff"/><stop offset=".107" stop-color="#9999ff"/><stop offset=".1093" stop-color="#9999ff"/><stop offset=".1116" stop-color="#9e9eff"/><stop offset=".1163" stop-color="#9e9eff"/><stop offset=".1186" stop-color="#a0a0ff"/><stop offset=".1209" stop-color="#a0a0ff"/><stop offset=".1233" stop-color="#9e9eff"/><stop offset=".1256" stop-color="#9e9eff"/><stop offset=".1279" stop-color="#a7a7ff"/><stop offset=".1326" stop-color="#a7a7ff"/><stop offset=".1349" stop-color="#bbbbff"/><stop offset=".1442" stop-color="#bbbbff"/><stop offset=".1465" stop-color="#b6b6ff"/><stop offset=".1488" stop-color="#b6b6ff"/><stop offset=".1512" stop-color="#b3b3ff"/><stop offset=".1535" stop-color="#b3b3ff"/><stop offset=".1558" stop-color="#b7b7ff"/><stop offset=".1581" stop-color="#ababff"/><stop offset=".1605" stop-color="#ababff"/><stop offset=".1628" stop-color="#a0a0ff"/><stop offset=".1651" stop-color="#a0a0ff"/><stop offset=".1674" stop-color="#9f9fff"/><stop offset=".1721" stop-color="#9f9fff"/><stop offset=".1744" stop-color="#a2a2ff"/><stop offset=".1767" stop-color="#a2a2ff"/><stop offset=".1791" stop-color="#b1b1ff"/><stop offset=".1814" stop-color="#b1b1ff"/><stop offset=".1837" stop-color="#b9b9ff"/><stop offset=".1884" stop-color="#b9b9ff"/><stop offset=".1907" stop-color="#b5b5ff"/><stop offset=".193" stop-color="#b5b5ff"/><stop offset=".1953" stop-color="#babaff"/><stop offset=".1977" stop-color="#babaff"/><stop offset=".2" stop-color="#b3b3ff"/><stop offset=".2047" stop-color="#b3b3ff"/><stop offset=".207" stop-color="#b2b2ff"/><stop offset=".2093" stop-color="#b2b2ff"/><stop offset=".2116" stop-color="#afafff"/><stop offset=".214" stop-color="#afafff"/><stop offset=".2163" stop-color="#8989ff"/><stop offset=".2186" stop-color="#8f8fff"/><stop offset=".2209" stop-color="#8f8fff"/><stop offset=".2233" stop-color="#9090ff"/><stop offset=".2256" stop-color="#9090ff"/><stop offset=".2279" stop-color="#8d8dff"/><stop offset=".2326" stop-color="#8d8dff"/><stop offset=".2349" stop-color="#8e8eff"/><stop offset=".2372" stop-color="#8e8eff"/><stop offset=".2395" stop-color="#8b8bff"/><stop offset=".2535" stop-color="#8b8bff"/><stop offset=".2558" stop-color="#8585ff"/><stop offset=".2605" stop-color="#8585ff"/><stop offset=".2628" stop-color="#8888ff"/><stop offset=".2651" stop-color="#8888ff"/><stop offset=".2674" stop-color="#bfbfff"/><stop offset=".2721" stop-color="#bfbfff"/><stop offset=".2744" stop-color="#c0c0ff"/><stop offset=".2767" stop-color="#c0c0ff"/><stop offset=".2791" stop-color="#c3c3ff"/><stop offset=".2814" stop-color="#c3c3ff"/><stop offset=".2837" stop-color="#c2c2ff"/><stop offset=".286" stop-color="#c2c2ff"/><stop offset=".2884" stop-color="#ceceff"/><stop offset=".293" stop-color="#ceceff"/><stop offset=".2953" stop-color="#ccccff"/><stop offset=".3" stop-color="#ccccff"/><stop offset=".3023" stop-color="#c3c3ff"/><stop offset=".3047" stop-color="#c3c3ff"/><stop offset=".307" stop-color="#ccccff"/><stop offset=".3093" stop-color="#ccccff"/><stop offset=".3116" stop-color="#c9c9ff"/><stop offset=".3163" stop-color="#c9c9ff"/><stop offset=".3186" stop-color="#ceceff"/><stop offset=".3209" stop-color="#ceceff"/><stop offset=".3233" stop-color="#b8b8ff"/><stop offset=".3279" stop-color="#b8b8ff"/><stop offset=".3302" stop-color="#bebeff"/><stop offset=".3326" stop-color="#bebeff"/><stop offset=".3349" stop-color="#bdbdff"/><stop offset=".3372" stop-color="#bdbdff"/><stop offset=".3395" stop-color="#bebeff"/><stop offset=".3419" stop-color="#bebeff"/><stop offset=".3442" stop-color="#b8b8ff"/><stop offset=".3465" stop-color="#b1b1ff"/><stop offset=".3488" stop-color="#b1b1ff"/><stop offset=".3512" stop-color="#b3b3ff"/><stop offset=".3535" stop-color="#b3b3ff"/><stop offset=".3558" stop-color="#cacaff"/><stop offset=".3605" stop-color="#cacaff"/><stop offset=".3628" stop-color="#c7c7ff"/><stop offset=".3651" stop-color="#c7c7ff"/><stop offset=".3674" stop-color="#cacaff"/><stop offset=".3721" stop-color="#cacaff"/><stop offset=".3744" stop-color="#cbcbff"/><stop offset=".3814" stop-color="#cbcbff"/><stop offset=".3837" stop-color="#d8d8ff"/><stop offset=".3884" stop-color="#d8d8ff"/><stop offset=".3907" stop-color="#ceceff"/><stop offset=".393" stop-color="#ceceff"/><stop offset=".3953" stop-color="#ccccff"/><stop offset=".3977" stop-color="#ccccff"/><stop offset=".4" stop-color="#c9c9ff"/><stop offset=".4047" stop-color="#c9c9ff"/><stop offset=".407" stop-color="#c0c0ff"/><stop offset=".4093" stop-color="#c0c0ff"/><stop offset=".4116" stop-color="#cacaff"/><stop offset=".4163" stop-color="#cacaff"/><stop offset=".4186" stop-color="#cfcfff"/><stop offset=".4209" stop-color="#cfcfff"/><stop offset=".4233" stop-color="#cdcdff"/><stop offset=".4256" stop-color="#cdcdff"/><stop offset=".4279" stop-color="#b3b3ff"/><stop offset=".4326" stop-color="#b3b3ff"/><stop offset=".4349" stop-color="#b0b0ff"/><stop offset=".4372" stop-color="#b0b0ff"/><stop offset=".4395" stop-color="#bbbbff"/><stop offset=".4442" stop-color="#bbbbff"/><stop offset=".4465" stop-color="#b3b3ff"/><stop offset=".4488" stop-color="#b3b3ff"/><stop offset=".4512" stop-color="#b1b1ff"/><stop offset=".4535" stop-color="#b1b1ff"/><stop offset=".4558" stop-color="#aeaeff"/><stop offset=".4605" stop-color="#aeaeff"/><stop offset=".4628" stop-color="#9f9fff"/><stop offset=".4651" stop-color="#9f9fff"/><stop offset=".4674" stop-color="#9595ff"/><stop offset=".4721" stop-color="#9595ff"/><stop offset=".4744" stop-color="#9797ff"/><stop offset=".4767" stop-color="#aaaaff"/><stop offset=".4791" stop-color="#a3a3ff"/><stop offset=".4814" stop-color="#a3a3ff"/><stop offset=".4837" stop-color="#b3b3ff"/><stop offset=".4884" stop-color="#b3b3ff"/><stop offset=".4907" stop-color="#ababff"/><stop offset=".493" stop-color="#ababff"/><stop offset=".4953" stop-color="#b2b2ff"/><stop offset=".4977" stop-color="#b2b2ff"/><stop offset=".5" stop-color="#b4b4ff"/><stop offset=".5047" stop-color="#b4b4ff"/><stop offset=".507" stop-color="#afafff"/><stop offset=".5093" stop-color="#afafff"/><stop offset=".5116" stop-color="#b0b0ff"/><stop offset=".5163" stop-color="#b0b0ff"/><stop offset=".5186" stop-color="#b4b4ff"/><stop offset=".5209" stop-color="#b4b4ff"/><stop offset=".5233" stop-color="#afafff"/><stop offset=".5256" stop-color="#afafff"/><stop offset=".5279" stop-color="#c0c0ff"/><stop offset=".5302" stop-color="#c0c0ff"/><stop offset=".5326" stop-color="#b4b4ff"/><stop offset=".5349" stop-color="#b7b7ff"/><stop offset=".5372" stop-color="#b7b7ff"/><stop offset=".5395" stop-color="#b5b5ff"/><stop offset=".5442" stop-color="#b5b5ff"/><stop offset=".5465" stop-color="#b8b8ff"/><stop offset=".5488" stop-color="#b8b8ff"/><stop offset=".5512" stop-color="#b7b7ff"/><stop offset=".5535" stop-color="#b7b7ff"/><stop offset=".5558" stop-color="#b9b9ff"/><stop offset=".5581" stop-color="#b9b9ff"/><stop offset=".5605" stop-color="#acacff"/><stop offset=".5628" stop-color="#a7a7ff"/><stop offset=".5698" stop-color="#a7a7ff"/><stop offset=".5721" stop-color="#a1a1ff"/><stop offset=".5744" stop-color="#9b9bff"/><stop offset=".5767" stop-color="#9b9bff"/><stop offset=".5791" stop-color="#9f9fff"/><stop offset=".5814" stop-color="#9f9fff"/><stop offset=".5837" stop-color="#9d9dff"/><stop offset=".586" stop-color="#9696ff"/><stop offset=".5884" stop-color="#9696ff"/><stop offset=".5907" stop-color="#9999ff"/><stop offset=".593" stop-color="#9999ff"/><stop offset=".5953" stop-color="#9595ff"/><stop offset=".5977" stop-color="#9595ff"/><stop offset=".6" stop-color="#acacff"/><stop offset=".6023" stop-color="#b1b1ff"/><stop offset=".6047" stop-color="#b1b1ff"/><stop offset=".607" stop-color="#babaff"/><stop offset=".6093" stop-color="#babaff"/><stop offset=".6116" stop-color="#adadff"/><stop offset=".6163" stop-color="#adadff"/><stop offset=".6186" stop-color="#b2b2ff"/><stop offset=".6209" stop-color="#9b9bff"/><stop offset=".6256" stop-color="#9b9bff"/><stop offset=".6279" stop-color="#9696ff"/><stop offset=".6302" stop-color="#9696ff"/><stop offset=".6326" stop-color="#a9a9ff"/><stop offset=".6349" stop-color="#ababff"/><stop offset=".6372" stop-color="#ababff"/><stop offset=".6395" stop-color="#aaaaff"/><stop offset=".6442" stop-color="#aaaaff"/><stop offset=".6465" stop-color="#aeaeff"/><stop offset=".6488" stop-color="#aeaeff"/><stop offset=".6512" stop-color="#aaaaff"/><stop offset=".6535" stop-color="#a3a3ff"/><stop offset=".6558" stop-color="#b0b0ff"/><stop offset=".6581" stop-color="#b0b0ff"/><stop offset=".6605" stop-color="#ffc2c2"/><stop offset=".6628" stop-color="#ffc9c9"/><stop offset=".6651" stop-color="#ffc9c9"/><stop offset=".6674" stop-color="#ffaeae"/><stop offset=".6721" stop-color="#ffaeae"/><stop offset=".6744" stop-color="#ffaaaa"/><stop offset=".6767" stop-color="#ff5151"/><stop offset=".6791" stop-color="#ff5454"/><stop offset=".6814" stop-color="#ff5454"/><stop offset=".6837" stop-color="#ff5a5a"/><stop offset=".686" stop-color="#ff5a5a"/><stop offset=".6884" stop-color="#ff8080"/><stop offset=".6907" stop-color="#ff7e7e"/><stop offset=".693" stop-color="#ff9191"/><stop offset=".6953" stop-color="#ff9393"/><stop offset=".7" stop-color="#ff9393"/><stop offset=".7023" stop-color="#ff9292"/><stop offset=".7047" stop-color="#fffefe"/><stop offset=".707" stop-color="#fffbfb"/><stop offset=".7093" stop-color="#fffbfb"/><stop offset=".7116" stop-color="#f7f7ff"/><stop offset=".7163" stop-color="#f7f7ff"/><stop offset=".7186" stop-color="#f9f9ff"/><stop offset=".7209" stop-color="#b9b9ff"/><stop offset=".7233" stop-color="#bebeff"/><stop offset=".7256" stop-color="#bebeff"/><stop offset=".7279" stop-color="#c1c1ff"/><stop offset=".7302" stop-color="#c1c1ff"/><stop offset=".7326" stop-color="#dadaff"/><stop offset=".7349" stop-color="#d7d7ff"/><stop offset=".7372" stop-color="#d7d7ff"/><stop offset=".7395" stop-color="#d8d8ff"/><stop offset=".7419" stop-color="#d8d8ff"/><stop offset=".7442" stop-color="#cbcbff"/><stop offset=".7465" stop-color="#d0d0ff"/><stop offset=".7488" stop-color="#d0d0ff"/><stop offset=".7512" stop-color="#cfcfff"/><stop offset=".7535" stop-color="#cfcfff"/><stop offset=".7558" stop-color="#ccccff"/><stop offset=".7605" stop-color="#ccccff"/><stop offset=".7628" stop-color="#cbcbff"/><stop offset=".7651" stop-color="#cbcbff"/><stop offset=".7674" stop-color="#adadff"/><stop offset=".7721" stop-color="#adadff"/><stop offset=".7744" stop-color="#b4b4ff"/><stop offset=".7767" stop-color="#e7e7ff"/><stop offset=".7791" stop-color="#e6e6ff"/><stop offset=".7814" stop-color="#e6e6ff"/><stop offset=".7837" stop-color="#ffdcdc"/><stop offset=".7884" stop-color="#ffdcdc"/><stop offset=".7907" stop-color="#ffd7d7"/><stop offset=".793" stop-color="#ffd7d7"/><stop offset=".7953" stop-color="#ffdada"/><stop offset=".7977" stop-color="#ffdada"/><stop offset=".8" stop-color="#cbcbff"/><stop offset=".8047" stop-color="#cbcbff"/><stop offset=".807" stop-color="#c6c6ff"/><stop offset=".8093" stop-color="#c6c6ff"/><stop offset=".8116" stop-color="#cfcfff"/><stop offset=".814" stop-color="#cfcfff"/><stop offset=".8163" stop-color="#ffd5d5"/><stop offset=".8186" stop-color="#ffdcdc"/><stop offset=".8209" stop-color="#ffdcdc"/><stop offset=".8233" stop-color="#ff9898"/><stop offset=".8302" stop-color="#ff9898"/><stop offset=".8326" stop-color="#ffe5e5"/><stop offset=".8349" stop-color="#ffe8e8"/><stop offset=".8372" stop-color="#ffe8e8"/><stop offset=".8395" stop-color="#f8f8ff"/><stop offset=".8419" stop-color="#f8f8ff"/><stop offset=".8442" stop-color="#b2b2ff"/><stop offset=".8465" stop-color="#b1b1ff"/><stop offset=".8535" stop-color="#b1b1ff"/><stop offset=".8558" stop-color="#fff2f2"/><stop offset=".8581" stop-color="#fff2f2"/><stop offset=".8605" stop-color="#ffb2b2"/><stop offset=".8628" stop-color="#ffb5b5"/><stop offset=".8651" stop-color="#ffb5b5"/><stop offset=".8674" stop-color="#ffb0b0"/><stop offset=".8698" stop-color="#ffcaca"/><stop offset=".8721" stop-color="#ffcaca"/><stop offset=".8744" stop-color="#ffcccc"/><stop offset=".8767" stop-color="#ffbfbf"/><stop offset=".8791" stop-color="#ffc4c4"/><stop offset=".8814" stop-color="#ffc4c4"/><stop offset=".8837" stop-color="#ffbebe"/><stop offset=".886" stop-color="#ffbebe"/><stop offset=".8884" stop-color="#ff0c0c"/><stop offset=".8907" stop-color="#ff0d0d"/><stop offset=".893" stop-color="#ff0d0d"/><stop offset=".8953" stop-color="#ff0c0c"/><stop offset=".8977" stop-color="#ff0c0c"/><stop offset=".9" stop-color="#ff1010"/><stop offset=".9047" stop-color="#ff1010"/><stop offset=".907" stop-color="#ff0000"/><stop offset=".9093" stop-color="#ff0000"/><stop offset=".9116" stop-color="#ff0303"/><stop offset=".9163" stop-color="#ff0303"/><stop offset=".9186" stop-color="#ff0101"/><stop offset=".9209" stop-color="#ff0101"/><stop offset=".9233" stop-color="#ff0000"/><stop offset=".9372" stop-color="#ff0000"/><stop offset=".9395" stop-color="#ff0101"/><stop offset=".9442" stop-color="#ff0101"/><stop offset=".9465" stop-color="#ff0202"/><stop offset=".9488" stop-color="#ff0202"/><stop offset=".9512" stop-color="#ff0000"/><stop offset=".9581" stop-color="#ff0000"/><stop offset=".9605" stop-color="#ff1313"/><stop offset=".9651" stop-color="#ff1313"/><stop offset=".9674" stop-color="#ff6969"/><stop offset=".9721" stop-color="#ff6969"/><stop offset=".9744" stop-color="#ff6a6a"/><stop offset=".9767" stop-color="#ff6a6a"/><stop offset=".9791" stop-color="#ff8181"/><stop offset=".9814" stop-color="#ff8181"/><stop offset=".9837" stop-color="#ff7a7a"/><stop offset=".986" stop-color="#ff7a7a"/><stop offset=".9884" stop-color="#ff3a3a"/><stop offset=".9907" stop-color="#ff4040"/><stop offset=".993" stop-color="#ff4040"/><stop offset=".9953" stop-color="#ff4242"/><stop offset="1" stop-color="#ff4242"/></linearGradient><linearGradient id="d2" x1="0" y1="0" x2="0" y2="1"><stop offset="0" stop-color="#c8c8ff"/><stop offset=".0047" stop-color="#c8c8ff"/><stop offset=".007" stop-color="#cdcdff"/><stop offset=".0093" stop-color="#cdcdff"/><stop offset=".0116" stop-color="#d1d1ff"/><stop offset=".0163" stop-color="#d1d1ff"/><stop offset=".0186" stop-color="#cbcbff"/><stop offset=".0209" stop-color="#cbcbff"/><stop offset=".0233" stop-color="#cacaff"/><stop offset=".0256" stop-color="#cacaff"/><stop offset=".0279" stop-color="#c6c6ff"/><stop offset=".0326" stop-color="#c6c6ff"/><stop offset=".0349" stop-color="#b4b4ff"/><stop offset=".0372" stop-color="#b4b4ff"/><stop offset=".0395" stop-color="#b2b2ff"/><stop offset=".0419" stop-color="#b2b2ff"/><stop offset=".0442" stop-color="#bebeff"/><stop offset=".0465" stop-color="#babaff"/><stop offset=".0488" stop-color="#babaff"/><stop offset=".0512" stop-color="#bdbdff"/><stop offset=".0535" stop-color="#bdbdff"/><stop offset=".0558" stop-color="#c3c3ff"/><stop offset=".0581" stop-color="#c3c3ff"/><stop offset=".0605" stop-color="#9d9dff"/><stop offset=".0628" stop-color="#9a9aff"/><stop offset=".0651" stop-color="#9a9aff"/><stop offset=".0674" stop-color="#9898ff"/><stop offset=".0698" stop-color="#9898ff"/><stop offset=".0721" stop-color="#ababff"/><stop offset=".0744" stop-color="#a8a8ff"/><stop offset=".0767" stop-color="#a8a8ff"/><stop offset=".0791" stop-color="#acacff"/><stop offset=".0814" stop-color="#acacff"/><stop offset=".0837" stop-color="#aaaaff"/><stop offset=".0884" stop-color="#aaaaff"/><stop offset=".0907" stop-color="#acacff"/><stop offset=".093" stop-color="#acacff"/><stop offset=".0953" stop-color="#aeaeff"/><stop offset=".0977" stop-color="#aeaeff"/><stop offset=".1" stop-color="#a3a3ff"/><stop offset=".1047" stop-color="#a3a3ff"/><stop offset=".107" stop-color="#9999ff"/><stop offset=".1093" stop-color="#9999ff"/><stop offset=".1116" stop-color="#9e9eff"/><stop offset=".1163" stop-color="#9e9eff"/><stop offset=".1186" stop-color="#a0a0ff"/><stop offset=".1209" stop-color="#a0a0ff"/><stop offset=".1233" stop-color="#9e9eff"/><stop offset=".1256" stop-color="#9e9eff"/><stop offset=".1279" stop-color="#a7a7ff"/><stop offset=".1326" stop-color="#a7a7ff"/><stop offset=".1349" stop-color="#bbbbff"/><stop offset=".1442" stop-color="#bbbbff"/><stop offset=".1465" stop-color="#b6b6ff"/><stop offset=".1488" stop-color="#b6b6ff"/><stop offset=".1512" stop-color="#b3b3ff"/><stop offset=".1535" stop-color="#b3b3ff"/><stop offset=".1558" stop-color="#b7b7ff"/><stop offset=".1581" stop-color="#ababff"/><stop offset=".1605" stop-color="#ababff"/><stop offset=".1628" stop-color="#a0a0ff"/><stop offset=".1651" stop-color="#a0a0ff"/><stop offset=".1674" stop-color="#9f9fff"/><stop offset=".1721" stop-color="#9f9fff"/><stop offset=".1744" stop-color="#a2a2ff"/><stop offset=".1767" stop-color="#a2a2ff"/><stop offset=".1791" stop-color="#b1b1ff"/><stop offset=".1814" stop-color="#b1b1ff"/><stop offset=".1837" stop-color="#b9b9ff"/><stop offset=".1884" stop-color="#b9b9ff"/><stop offset=".1907" stop-color="#b5b5ff"/><stop offset=".193" stop-color="#b5b5ff"/><stop offset=".1953" stop-color="#babaff"/><stop offset=".1977" stop-color="#babaff"/><stop offset=".2" stop-color="#b3b3ff"/><stop offset=".2047" stop-color="#b3b3ff"/><stop offset=".207" stop-color="#b2b2ff"/><stop offset=".2093" stop-color="#b2b2ff"/><stop offset=".2116" stop-color="#afafff"/><stop offset=".214" stop-color="#afafff"/><stop offset=".2163" stop-color="#8989ff"/><stop offset=".2186" stop-color="#8f8fff"/><stop offset=".2209" stop-color="#8f8fff"/><stop offset=".2233" stop-color="#9090ff"/><stop offset=".2256" stop-color="#9090ff"/><stop offset=".2279" stop-color="#8d8dff"/><stop offset=".2326" stop-color="#8d8dff"/><stop offset=".2349" stop-color="#8e8eff"/><stop offset=".2372" stop-color="#8e8eff"/><stop offset=".2395" stop-color="#8b8bff"/><stop offset=".2535" stop-color="#8b8bff"/><stop offset=".2558" stop-color="#8585ff"/><stop offset=".2605" stop-color="#8585ff"/><stop offset=".2628" stop-color="#8888ff"/><stop offset=".2651" stop-color="#8888ff"/><stop offset=".2674" stop-color="#bfbfff"/><stop offset=".2721" stop-color="#bfbfff"/><stop offset=".2744" stop-color="#c0c0ff"/><stop offset=".2767" stop-color="#c0c0ff"/><stop offset=".2791" stop-color="#c3c3ff"/><stop offset=".2814" stop-color="#c3c3ff"/><stop offset=".2837" stop-color="#c2c2ff"/><stop offset=".286" stop-color="#c2c2ff"/><stop offset=".2884" stop-color="#ceceff"/><stop offset=".293" stop-color="#ceceff"/><stop offset=".2953" stop-color="#ccccff"/><stop offset=".3" stop-color="#ccccff"/><stop offset=".3023" stop-color="#c3c3ff"/><stop offset=".3047" stop-color="#c3c3ff"/><stop offset=".307" stop-color="#ccccff"/><stop offset=".3093" stop-color="#ccccff"/><stop offset=".3116" stop-color="#c9c9ff"/><stop offset=".3163" stop-color="#c9c9ff"/><stop offset=".3186" stop-color="#ceceff"/><stop offset=".3209" stop-color="#ceceff"/><stop offset=".3233" stop-color="#b8b8ff"/><stop offset=".3279" stop-color="#b8b8ff"/><stop offset=".3302" stop-color="#bebeff"/><stop offset=".3326" stop-color="#bebeff"/><stop offset=".3349" stop-color="#bdbdff"/><stop offset=".3372" stop-color="#bdbdff"/><stop offset=".3395" stop-color="#bebeff"/><stop offset=".3419" stop-color="#bebeff"/><stop offset=".3442" stop-color="#b8b8ff"/><stop offset=".3465" stop-color="#b1b1ff"/><stop offset=".3488" stop-color="#b1b1ff"/><stop offset=".3512" stop-color="#b3b3ff"/><stop offset=".3535" stop-color="#b3b3ff"/><stop offset=".3558" stop-color="#cacaff"/><stop offset=".3605" stop-color="#cacaff"/><stop offset=".3628" stop-color="#c7c7ff"/><stop offset=".3651" stop-color="#c7c7ff"/><stop offset=".3674" stop-color="#cacaff"/><stop offset=".3721" stop-color="#cacaff"/><stop offset=".3744" stop-color="#cbcbff"/><stop offset=".3814" stop-color="#cbcbff"/><stop offset=".3837" stop-color="#d8d8ff"/><stop offset=".3884" stop-color="#d8d8ff"/><stop offset=".3907" stop-color="#ceceff"/><stop offset=".393" stop-color="#ceceff"/><stop offset=".3953" stop-color="#ccccff"/><stop offset=".3977" stop-color="#ccccff"/><stop offset=".4" stop-color="#c9c9ff"/><stop offset=".4047" stop-color="#c9c9ff"/><stop offset=".407" stop-color="#c0c0ff"/><stop offset=".4093" stop-color="#c0c0ff"/><stop offset=".4116" stop-color="#cacaff"/><stop offset=".4163" stop-color="#cacaff"/><stop offset=".4186" stop-color="#cfcfff"/><stop offset=".4209" stop-color="#cfcfff"/><stop offset=".4233" stop-color="#cdcdff"/><stop offset=".4256" stop-color="#cdcdff"/><stop offset=".4279" stop-color="#b3b3ff"/><stop offset=".4326" stop-color="#b3b3ff"/><stop offset=".4349" stop-color="#b0b0ff"/><stop offset=".4372" stop-color="#b0b0ff"/><stop offset=".4395" stop-color="#bbbbff"/><stop offset=".4442" stop-color="#bbbbff"/><stop offset=".4465" stop-color="#b3b3ff"/><stop offset=".4488" stop-color="#b3b3ff"/><stop offset=".4512" stop-color="#b1b1ff"/><stop offset=".4535" stop-color="#b1b1ff"/><stop offset=".4558" stop-color="#aeaeff"/><stop offset=".4605" stop-color="#aeaeff"/><stop offset=".4628" stop-color="#9f9fff"/><stop offset=".4651" stop-color="#9f9fff"/><stop offset=".4674" stop-color="#9595ff"/><stop offset=".4721" stop-color="#9595ff"/><stop offset=".4744" stop-color="#9797ff"/><stop offset=".4767" stop-color="#aaaaff"/><stop offset=".4791" stop-color="#a3a3ff"/><stop offset=".4814" stop-color="#a3a3ff"/><stop offset=".4837" stop-color="#b3b3ff"/><stop offset=".4884" stop-color="#b3b3ff"/><stop offset=".4907" stop-color="#ababff"/><stop offset=".493" stop-color="#ababff"/><stop offset=".4953" stop-color="#b2b2ff"/><stop offset=".4977" stop-color="#b2b2ff"/><stop offset=".5" stop-color="#b4b4ff"/><stop offset=".5047" stop-color="#b4b4ff"/><stop offset=".507" stop-color="#afafff"/><stop offset=".5093" stop-color="#afafff"/><stop offset=".5116" stop-color="#b0b0ff"/><stop offset=".5163" stop-color="#b0b0ff"/><stop offset=".5186" stop-color="#b4b4ff"/><stop offset=".5209" stop-color="#b4b4ff"/><stop offset=".5233" stop-color="#afafff"/><stop offset=".5256" stop-color="#afafff"/><stop offset=".5279" stop-color="#c0c0ff"/><stop offset=".5302" stop-color="#c0c0ff"/><stop offset=".5326" stop-color="#b4b4ff"/><stop offset=".5349" stop-color="#b7b7ff"/><stop offset=".5372" stop-color="#b7b7ff"/><stop offset=".5395" stop-color="#b5b5ff"/><stop offset=".5442" stop-color="#b5b5ff"/><stop offset=".5465" stop-color="#b8b8ff"/><stop offset=".5488" stop-color="#b8b8ff"/><stop offset=".5512" stop-color="#b7b7ff"/><stop offset=".5535" stop-color="#b7b7ff"/><stop offset=".5558" stop-color="#b9b9ff"/><stop offset=".5581" stop-color="#b9b9ff"/><stop offset=".5605" stop-color="#acacff"/><stop offset=".5628" stop-color="#a7a7ff"/><stop offset=".5698" stop-color="#a7a7ff"/><stop offset=".5721" stop-color="#a1a1ff"/><stop offset=".5744" stop-color="#9b9bff"/><stop offset=".5767" stop-color="#9b9bff"/><stop offset=".5791" stop-color="#9f9fff"/><stop offset=".5814" stop-color="#9f9fff"/><stop offset=".5837" stop-color="#9d9dff"/><stop offset=".586" stop-color="#9696ff"/><stop offset=".5884" stop-color="#9696ff"/><stop offset=".5907" stop-color="#9999ff"/><stop offset=".593" stop-color="#9999ff"/><stop offset=".5953" stop-color="#9595ff"/><stop offset=".5977" stop-color="#9595ff"/><stop offset=".6" stop-color="#acacff"/><stop offset=".6023" stop-color="#b1b1ff"/><stop offset=".6047" stop-color="#b1b1ff"/><stop offset=".607" stop-color="#babaff"/><stop offset=".6093" stop-color="#babaff"/><stop offset=".6116" stop-color="#adadff"/><stop offset=".6163" stop-color="#adadff"/><stop offset=".6186" stop-color="#b2b2ff"/><stop offset=".6209" stop-color="#9b9bff"/><stop offset=".6256" stop-color="#9b9bff"/><stop offset=".6279" stop-color="#9696ff"/><stop offset=".6302" stop-color="#9696ff"/><stop offset=".6326" stop-color="#a9a9ff"/><stop offset=".6349" stop-color="#ababff"/><stop offset=".6372" stop-color="#ababff"/><stop offset=".6395" stop-color="#aaaaff"/><stop offset=".6442" stop-color="#aaaaff"/><stop offset=".6465" stop-color="#aeaeff"/><stop offset=".6488" stop-color="#aeaeff"/><stop offset=".6512" stop-color="#aaaaff"/><stop offset=".6535" stop-color="#a3a3ff"/><stop offset=".6558" stop-color="#b0b0ff"/><stop offset=".6581" stop-color="#b0b0ff"/><stop offset=".6605" stop-color="#bcbcff"/><stop offset=".6628" stop-color="#b6b6ff"/><stop offset=".6651" stop-color="#b6b6ff"/><stop offset=".6674" stop-color="#b7b7ff"/><stop offset=".6721" stop-color="#b7b7ff"/><stop offset=".6744" stop-color="#bbbbff"/><stop offset=".6767" stop-color="#bbbbff"/><stop offset=".6791" stop-color="#b8b8ff"/><stop offset=".6814" stop-color="#b8b8ff"/><stop offset=".6837" stop-color="#b2b2ff"/><stop offset=".6884" stop-color="#b2b2ff"/><stop offset=".6907" stop-color="#b4b4ff"/><stop offset=".693" stop-color="#b4b4ff"/><stop offset=".6953" stop-color="#b3b3ff"/><stop offset=".7023" stop-color="#b3b3ff"/><stop offset=".7047" stop-color="#dadaff"/><stop offset=".707" stop-color="#dcdcff"/><stop offset=".7093" stop-color="#dcdcff"/><stop offset=".7116" stop-color="#d1d1ff"/><stop offset=".7163" stop-color="#d1d1ff"/><stop offset=".7186" stop-color="#d2d2ff"/><stop offset=".7209" stop-color="#d2d2ff"/><stop offset=".7233" stop-color="#d7d7ff"/><stop offset=".7256" stop-color="#d7d7ff"/><stop offset=".7279" stop-color="#fafaff"/><stop offset=".7302" stop-color="#fafaff"/><stop offset=".7326" stop-color="#c1c1ff"/><stop offset=".7349" stop-color="#bdbdff"/><stop offset=".7372" stop-color="#bdbdff"/><stop offset=".7395" stop-color="#bebeff"/><stop offset=".7419" stop-color="#bebeff"/><stop offset=".7442" stop-color="#cbcbff"/><stop offset=".7465" stop-color="#d0d0ff"/><stop offset=".7488" stop-color="#d0d0ff"/><stop offset=".7512" stop-color="#cfcfff"/><stop offset=".7535" stop-color="#cfcfff"/><stop offset=".7558" stop-color="#ccccff"/><stop offset=".7605" stop-color="#ccccff"/><stop offset=".7628" stop-color="#cbcbff"/><stop offset=".7651" stop-color="#cbcbff"/><stop offset=".7674" stop-color="#ff9f9f"/><stop offset=".7698" stop-color="#ff9f9f"/><stop offset=".7721" stop-color="#ffdede"/><stop offset=".7744" stop-color="#ffd7d7"/><stop offset=".7767" stop-color="#ffd7d7"/><stop offset=".7791" stop-color="#ffd8d8"/><stop offset=".7814" stop-color="#ffd8d8"/><stop offset=".7837" stop-color="#ffdcdc"/><stop offset=".786" stop-color="#ffdcdc"/><stop offset=".7884" stop-color="#ff9d9d"/><stop offset=".7907" stop-color="#ff9797"/><stop offset=".793" stop-color="#ff9797"/><stop offset=".7953" stop-color="#ff6868"/><stop offset=".7977" stop-color="#ff6868"/><stop offset=".8" stop-color="#ff0000"/><stop offset=".8047" stop-color="#ff0000"/><stop offset=".807" stop-color="#ff0202"/><stop offset=".8093" stop-color="#ff0202"/><stop offset=".8116" stop-color="#ff0000"/><stop offset=".8163" stop-color="#ff0000"/><stop offset=".8186" stop-color="#ff2323"/><stop offset=".8209" stop-color="#ff2323"/><stop offset=".8233" stop-color="#ff1f1f"/><stop offset=".8326" stop-color="#ff1f1f"/><stop offset=".8349" stop-color="#ff2222"/><stop offset=".8372" stop-color="#ff2222"/><stop offset=".8395" stop-color="#ff2020"/><stop offset=".8442" stop-color="#ff2020"/><stop offset=".8465" stop-color="#ff2121"/><stop offset=".8535" stop-color="#ff2121"/><stop offset=".8558" stop-color="#ff1f1f"/><stop offset=".8605" stop-color="#ff1f1f"/><stop offset=".8628" stop-color="#ff3c3c"/><stop offset=".8651" stop-color="#ff3c3c"/><stop offset=".8674" stop-color="#ff3737"/><stop offset=".8721" stop-color="#ff3737"/><stop offset=".8744" stop-color="#ff3939"/><stop offset=".8767" stop-color="#ff3939"/><stop offset=".8791" stop-color="#ff3e3e"/><stop offset=".8814" stop-color="#ff3e3e"/><stop offset=".8837" stop-color="#ff3838"/><stop offset=".886" stop-color="#ff3838"/><stop offset=".8884" stop-color="#b4b4ff"/><stop offset=".8907" stop-color="#b1b1ff"/><stop offset=".893" stop-color="#b1b1ff"/><stop offset=".8953" stop-color="#b4b4ff"/><stop offset=".8977" stop-color="#b4b4ff"/><stop offset=".9" stop-color="#a9a9ff"/><stop offset=".9047" stop-color="#a9a9ff"/><stop offset=".907" stop-color="#c0c0ff"/><stop offset=".9093" stop-color="#c0c0ff"/><stop offset=".9116" stop-color="#c3c3ff"/><stop offset=".9163" stop-color="#c3c3ff"/><stop offset=".9186" stop-color="#cacaff"/><stop offset=".9209" stop-color="#cacaff"/><stop offset=".9233" stop-color="#d8d8ff"/><stop offset=".9256" stop-color="#d8d8ff"/><stop offset=".9279" stop-color="#ceceff"/><stop offset=".9326" stop-color="#ceceff"/><stop offset=".9349" stop-color="#fffbfb"/><stop offset=".9372" stop-color="#fffbfb"/><stop offset=".9395" stop-color="#ffe2e2"/><stop offset=".9442" stop-color="#ffe2e2"/><stop offset=".9465" stop-color="#ffe4e4"/><stop offset=".9488" stop-color="#ffe4e4"/><stop offset=".9512" stop-color="#fff9f9"/><stop offset=".9535" stop-color="#fff9f9"/><stop offset=".9558" stop-color="#fff7f7"/><stop offset=".9581" stop-color="#fff7f7"/><stop offset=".9605" stop-color="#ffa5a5"/><stop offset=".9628" stop-color="#ffa7a7"/><stop offset=".9651" stop-color="#ffa7a7"/><stop offset=".9674" stop-color="#ff4343"/><stop offset=".9744" stop-color="#ff4343"/><stop offset=".9767" stop-color="#ff9d9d"/><stop offset=".9791" stop-color="#ff9b9b"/><stop offset=".9814" stop-color="#ff9b9b"/><stop offset=".9837" stop-color="#ff9393"/><stop offset=".9884" stop-color="#ff9393"/><stop offset=".9907" stop-color="#ff7373"/><stop offset=".993" stop-color="#ff7373"/><stop offset=".9953" stop-color="#ff7575"/><stop offset="1" stop-color="#ff7575"/></linearGradient><linearGradient id="d3" x1="0" y1="0" x2="0" y2="1"><stop offset="0" stop-color="#d1d1ff"/><stop offset=".0047" stop-color="#d1d1ff"/><stop offset=".007" stop-color="#cacaff"/><stop offset=".0093" stop-color="#cacaff"/><stop offset=".0116" stop-color="#cfcfff"/><stop offset=".0163" stop-color="#cfcfff"/><stop offset=".0186" stop-color="#c6c6ff"/><stop offset=".0209" stop-color="#c6c6ff"/><stop offset=".0233" stop-color="#c5c5ff"/><stop offset=".0256" stop-color="#c5c5ff"/><stop offset=".0279" stop-color="#c4c4ff"/><stop offset=".0326" stop-color="#c4c4ff"/><stop offset=".0349" stop-color="#ffe0e0"/><stop offset=".0372" stop-color="#ffe0e0"/><stop offset=".0395" stop-color="#ffe7e7"/><stop offset=".0419" stop-color="#ffe7e7"/><stop offset=".0442" stop-color="#fefeff"/><stop offset=".0465" stop-color="#ffffff"/><stop offset=".0488" stop-color="#ffffff"/><stop offset=".0512" stop-color="#ffdbdb"/><stop offset=".0535" stop-color="#ffdbdb"/><stop offset=".0558" stop-color="#ffd1d1"/><stop offset=".0581" stop-color="#ffd1d1"/><stop offset=".0605" stop-color="#ff7878"/><stop offset=".0628" stop-color="#ff7f7f"/><stop offset=".0651" stop-color="#ff7f7f"/><stop offset=".0674" stop-color="#ff8484"/><stop offset=".0698" stop-color="#ff8484"/><stop offset=".0721" stop-color="#ffc3c3"/><stop offset=".0744" stop-color="#ffc0c0"/><stop offset=".0767" stop-color="#ffc0c0"/><stop offset=".0791" stop-color="#ffc6c6"/><stop offset=".0814" stop-color="#ff8686"/><stop offset=".0837" stop-color="#ff8080"/><stop offset=".0884" stop-color="#ff8080"/><stop offset=".0907" stop-color="#ff8484"/><stop offset=".093" stop-color="#ff8484"/><stop offset=".0953" stop-color="#ffa1a1"/><stop offset=".0977" stop-color="#ffa1a1"/><stop offset=".1" stop-color="#ffa0a0"/><stop offset=".1047" stop-color="#ffa0a0"/><stop offset=".107" stop-color="#ffc3c3"/><stop offset=".1093" stop-color="#ffc3c3"/><stop offset=".1116" stop-color="#fffafa"/><stop offset=".1163" stop-color="#fffafa"/><stop offset=".1186" stop-color="#fffcfc"/><stop offset=".1209" stop-color="#ffe2e2"/><stop offset=".1233" stop-color="#ffe7e7"/><stop offset=".1256" stop-color="#ffe7e7"/><stop offset=".1279" stop-color="#ffdede"/><stop offset=".1326" stop-color="#ffdede"/><stop offset=".1349" stop-color="#b6b6ff"/><stop offset=".1372" stop-color="#b6b6ff"/><stop offset=".1395" stop-color="#bebeff"/><stop offset=".1442" stop-color="#bebeff"/><stop offset=".1465" stop-color="#c1c1ff"/><stop offset=".1488" stop-color="#c1c1ff"/><stop offset=".1512" stop-color="#b4b4ff"/><stop offset=".1535" stop-color="#b4b4ff"/><stop offset=".1558" stop-color="#b9b9ff"/><stop offset=".1605" stop-color="#b9b9ff"/><stop offset=".1628" stop-color="#ececff"/><stop offset=".1651" stop-color="#ececff"/><stop offset=".1674" stop-color="#f3f3ff"/><stop offset=".1721" stop-color="#f3f3ff"/><stop offset=".1744" stop-color="#f4f4ff"/><stop offset=".1767" stop-color="#f4f4ff"/><stop offset=".1791" stop-color="#b6b6ff"/><stop offset=".1814" stop-color="#b6b6ff"/><stop offset=".1837" stop-color="#ceceff"/><stop offset=".186" stop-color="#ceceff"/><stop offset=".1884" stop-color="#b4b4ff"/><stop offset=".1907" stop-color="#acacff"/><stop offset=".193" stop-color="#acacff"/><stop offset=".1953" stop-color="#b5b5ff"/><stop offset=".1977" stop-color="#b5b5ff"/><stop offset=".2" stop-color="#b1b1ff"/><stop offset=".2047" stop-color="#b1b1ff"/><stop offset=".207" stop-color="#b3b3ff"/><stop offset=".2093" stop-color="#b3b3ff"/><stop offset=".2116" stop-color="#b4b4ff"/><stop offset=".214" stop-color="#b4b4ff"/><stop offset=".2163" stop-color="#fffdfd"/><stop offset=".2186" stop-color="#fff8f8"/><stop offset=".2209" stop-color="#fff8f8"/><stop offset=".2233" stop-color="#ffc8c8"/><stop offset=".2256" stop-color="#ffc8c8"/><stop offset=".2279" stop-color="#ffcfcf"/><stop offset=".2326" stop-color="#ffcfcf"/><stop offset=".2349" stop-color="#ff7a7a"/><stop offset=".2372" stop-color="#ff7a7a"/><stop offset=".2395" stop-color="#ffbcbc"/><stop offset=".2442" stop-color="#ffbcbc"/><stop offset=".2465" stop-color="#ff9797"/><stop offset=".2488" stop-color="#ff9797"/><stop offset=".2512" stop-color="#ff9b9b"/><stop offset=".2535" stop-color="#ff9b9b"/><stop offset=".2558" stop-color="#ff9c9c"/><stop offset=".2581" stop-color="#ffa9a9"/><stop offset=".2605" stop-color="#ffa9a9"/><stop offset=".2628" stop-color="#ffa5a5"/><stop offset=".2651" stop-color="#ffa5a5"/><stop offset=".2674" stop-color="#ebebff"/><stop offset=".2698" stop-color="#ebebff"/><stop offset=".2721" stop-color="#c5c5ff"/><stop offset=".2744" stop-color="#c1c1ff"/><stop offset=".2767" stop-color="#c1c1ff"/><stop offset=".2791" stop-color="#c0c0ff"/><stop offset=".2814" stop-color="#c0c0ff"/><stop offset=".2837" stop-color="#c1c1ff"/><stop offset=".2884" stop-color="#c1c1ff"/><stop offset=".2907" stop-color="#cdcdff"/><stop offset=".293" stop-color="#cdcdff"/><stop offset=".2953" stop-color="#cbcbff"/><stop offset=".3" stop-color="#cbcbff"/><stop offset=".3023" stop-color="#ccccff"/><stop offset=".3047" stop-color="#ccccff"/><stop offset=".307" stop-color="#c5c5ff"/><stop offset=".3093" stop-color="#c5c5ff"/><stop offset=".3116" stop-color="#ccccff"/><stop offset=".3163" stop-color="#ccccff"/><stop offset=".3186" stop-color="#d0d0ff"/><stop offset=".3209" stop-color="#d0d0ff"/><stop offset=".3233" stop-color="#ffe4e4"/><stop offset=".3256" stop-color="#ffe4e4"/><stop offset=".3279" stop-color="#ffffff"/><stop offset=".3372" stop-color="#ffffff"/><stop offset=".3395" stop-color="#f8f8ff"/><stop offset=".3419" stop-color="#f8f8ff"/><stop offset=".3442" stop-color="#ff0000"/><stop offset=".3465" stop-color="#ff0202"/><stop offset=".3488" stop-color="#ff0202"/><stop offset=".3512" stop-color="#ff0000"/><stop offset=".3535" stop-color="#ff0000"/><stop offset=".3558" stop-color="#ff0202"/><stop offset=".3605" stop-color="#ff0202"/><stop offset=".3628" stop-color="#ff0000"/><stop offset=".3814" stop-color="#ff0000"/><stop offset=".3837" stop-color="#ff0101"/><stop offset=".3884" stop-color="#ff0101"/><stop offset=".3907" stop-color="#ff0000"/><stop offset=".4093" stop-color="#ff0000"/><stop offset=".4116" stop-color="#ff0101"/><stop offset=".4163" stop-color="#ff0101"/><stop offset=".4186" stop-color="#ff0000"/><stop offset=".4209" stop-color="#ff0000"/><stop offset=".4233" stop-color="#ff0202"/><stop offset=".4256" stop-color="#ff0202"/><stop offset=".4279" stop-color="#ff0000"/><stop offset=".4372" stop-color="#ff0000"/><stop offset=".4395" stop-color="#ff0101"/><stop offset=".4442" stop-color="#ff0101"/><stop offset=".4465" stop-color="#ff0202"/><stop offset=".4488" stop-color="#ff0202"/><stop offset=".4512" stop-color="#ff0101"/><stop offset=".4535" stop-color="#ff0101"/><stop offset=".4558" stop-color="#ff0000"/><stop offset=".4605" stop-color="#ff0000"/><stop offset=".4628" stop-color="#ff2424"/><stop offset=".4651" stop-color="#ff2424"/><stop offset=".4674" stop-color="#ff2525"/><stop offset=".4721" stop-color="#ff2525"/><stop offset=".4744" stop-color="#ff2a2a"/><stop offset=".4767" stop-color="#ff2a2a"/><stop offset=".4791" stop-color="#ff2525"/><stop offset=".4814" stop-color="#ff2525"/><stop offset=".4837" stop-color="#ff2727"/><stop offset=".4884" stop-color="#ff2727"/><stop offset=".4907" stop-color="#ff3636"/><stop offset=".493" stop-color="#ff3636"/><stop offset=".4953" stop-color="#ff3838"/><stop offset=".4977" stop-color="#ff3838"/><stop offset=".5" stop-color="#ff3d3d"/><stop offset=".5047" stop-color="#ff3d3d"/><stop offset=".507" stop-color="#ff3939"/><stop offset=".5093" stop-color="#ff0c0c"/><stop offset=".5163" stop-color="#ff0c0c"/><stop offset=".5186" stop-color="#ff0b0b"/><stop offset=".5209" stop-color="#ff0b0b"/><stop offset=".5233" stop-color="#ff0a0a"/><stop offset=".5256" stop-color="#ff0a0a"/><stop offset=".5279" stop-color="#ff2c2c"/><stop offset=".5326" stop-color="#ff2c2c"/><stop offset=".5349" stop-color="#ff2828"/><stop offset=".5419" stop-color="#ff2828"/><stop offset=".5442" stop-color="#ff0707"/><stop offset=".5535" stop-color="#ff0707"/><stop offset=".5558" stop-color="#ff0404"/><stop offset=".5605" stop-color="#ff0404"/><stop offset=".5628" stop-color="#ff0505"/><stop offset=".5651" stop-color="#ff0505"/><stop offset=".5674" stop-color="#ff0606"/><stop offset=".5767" stop-color="#ff0606"/><stop offset=".5791" stop-color="#ff3232"/><stop offset=".5814" stop-color="#ff3232"/><stop offset=".5837" stop-color="#ff3535"/><stop offset=".5884" stop-color="#ff3535"/><stop offset=".5907" stop-color="#ff3333"/><stop offset=".593" stop-color="#ff3333"/><stop offset=".5953" stop-color="#ff3131"/><stop offset=".5977" stop-color="#ff3131"/><stop offset=".6" stop-color="#ff4a4a"/><stop offset=".6023" stop-color="#ff4848"/><stop offset=".6047" stop-color="#ff4848"/><stop offset=".607" stop-color="#ff5050"/><stop offset=".6093" stop-color="#ff5050"/><stop offset=".6116" stop-color="#ff4c4c"/><stop offset=".6163" stop-color="#ff4c4c"/><stop offset=".6186" stop-color="#ff4b4b"/><stop offset=".6209" stop-color="#ff8b8b"/><stop offset=".6256" stop-color="#ff8b8b"/><stop offset=".6279" stop-color="#ff8d8d"/><stop offset=".6302" stop-color="#ff8d8d"/><stop offset=".6326" stop-color="#ff9a9a"/><stop offset=".6372" stop-color="#ff9a9a"/><stop offset=".6395" stop-color="#ff9f9f"/><stop offset=".6442" stop-color="#ff9f9f"/><stop offset=".6465" stop-color="#ff9d9d"/><stop offset=".6488" stop-color="#ffb6b6"/><stop offset=".6512" stop-color="#ffb5b5"/><stop offset=".6581" stop-color="#ffb5b5"/><stop offset=".6605" stop-color="#b0b0ff"/><stop offset=".6628" stop-color="#b4b4ff"/><stop offset=".6651" stop-color="#b4b4ff"/><stop offset=".6674" stop-color="#b1b1ff"/><stop offset=".6767" stop-color="#b1b1ff"/><stop offset=".6791" stop-color="#b0b0ff"/><stop offset=".6814" stop-color="#b0b0ff"/><stop offset=".6837" stop-color="#b3b3ff"/><stop offset=".6884" stop-color="#b3b3ff"/><stop offset=".6907" stop-color="#adadff"/><stop offset=".693" stop-color="#adadff"/><stop offset=".6953" stop-color="#b8b8ff"/><stop offset=".7" stop-color="#b8b8ff"/><stop offset=".7023" stop-color="#adadff"/><stop offset=".7047" stop-color="#b4b4ff"/><stop offset=".707" stop-color="#b7b7ff"/><stop offset=".7093" stop-color="#b7b7ff"/><stop offset=".7116" stop-color="#b9b9ff"/><stop offset=".7209" stop-color="#b9b9ff"/><stop offset=".7233" stop-color="#babaff"/><stop offset=".7256" stop-color="#babaff"/><stop offset=".7279" stop-color="#b1b1ff"/><stop offset=".7302" stop-color="#b1b1ff"/><stop offset=".7326" stop-color="#bebeff"/><stop offset=".7349" stop-color="#c6c6ff"/><stop offset=".7372" stop-color="#c6c6ff"/><stop offset=".7395" stop-color="#c1c1ff"/><stop offset=".7419" stop-color="#c1c1ff"/><stop offset=".7442" stop-color="#c7c7ff"/><stop offset=".7465" stop-color="#d1d1ff"/><stop offset=".7488" stop-color="#d1d1ff"/><stop offset=".7512" stop-color="#c4c4ff"/><stop offset=".7535" stop-color="#c4c4ff"/><stop offset=".7558" stop-color="#ccccff"/><stop offset=".7605" stop-color="#ccccff"/><stop offset=".7628" stop-color="#ceceff"/><stop offset=".7651" stop-color="#ceceff"/><stop offset=".7674" stop-color="#a5a5ff"/><stop offset=".7721" stop-color="#a5a5ff"/><stop offset=".7744" stop-color="#a6a6ff"/><stop offset=".7814" stop-color="#a6a6ff"/><stop offset=".7837" stop-color="#9494ff"/><stop offset=".7884" stop-color="#9494ff"/><stop offset=".7907" stop-color="#9696ff"/><stop offset=".793" stop-color="#9696ff"/><stop offset=".7953" stop-color="#9393ff"/><stop offset=".7977" stop-color="#9393ff"/><stop offset=".8" stop-color="#d0d0ff"/><stop offset=".8047" stop-color="#d0d0ff"/><stop offset=".807" stop-color="#ccccff"/><stop offset=".8093" stop-color="#ccccff"/><stop offset=".8116" stop-color="#d0d0ff"/><stop offset=".814" stop-color="#d0d0ff"/><stop offset=".8163" stop-color="#c3c3ff"/><stop offset=".8186" stop-color="#babaff"/><stop offset=".8209" stop-color="#babaff"/><stop offset=".8233" stop-color="#acacff"/><stop offset=".8256" stop-color="#acacff"/><stop offset=".8279" stop-color="#a8a8ff"/><stop offset=".8372" stop-color="#a8a8ff"/><stop offset=".8395" stop-color="#acacff"/><stop offset=".8419" stop-color="#acacff"/><stop offset=".8442" stop-color="#b3b3ff"/><stop offset=".8465" stop-color="#a9a9ff"/><stop offset=".8488" stop-color="#a9a9ff"/><stop offset=".8512" stop-color="#a8a8ff"/><stop offset=".8535" stop-color="#a8a8ff"/><stop offset=".8558" stop-color="#a2a2ff"/><stop offset=".8605" stop-color="#a2a2ff"/><stop offset=".8628" stop-color="#b0b0ff"/><stop offset=".8651" stop-color="#9797ff"/><stop offset=".8674" stop-color="#9595ff"/><stop offset=".8721" stop-color="#9595ff"/><stop offset=".8744" stop-color="#9b9bff"/><stop offset=".8767" stop-color="#9b9bff"/><stop offset=".8791" stop-color="#9393ff"/><stop offset=".8814" stop-color="#9393ff"/><stop offset=".8837" stop-color="#9494ff"/><stop offset=".886" stop-color="#9494ff"/><stop offset=".8884" stop-color="#b4b4ff"/><stop offset=".8907" stop-color="#b3b3ff"/><stop offset=".893" stop-color="#b3b3ff"/><stop offset=".8953" stop-color="#b4b4ff"/><stop offset=".9047" stop-color="#b4b4ff"/><stop offset=".907" stop-color="#bdbdff"/><stop offset=".9093" stop-color="#bdbdff"/><stop offset=".9116" stop-color="#c9c9ff"/><stop offset=".9163" stop-color="#c9c9ff"/><stop offset=".9186" stop-color="#cbcbff"/><stop offset=".9209" stop-color="#cbcbff"/><stop offset=".9233" stop-color="#c8c8ff"/><stop offset=".9256" stop-color="#c8c8ff"/><stop offset=".9279" stop-color="#d1d1ff"/><stop offset=".9326" stop-color="#d1d1ff"/><stop offset=".9349" stop-color="#b0b0ff"/><stop offset=".9372" stop-color="#b0b0ff"/><stop offset=".9395" stop-color="#b2b2ff"/><stop offset=".9488" stop-color="#b2b2ff"/><stop offset=".9512" stop-color="#b0b0ff"/><stop offset=".9535" stop-color="#b0b0ff"/><stop offset=".9558" stop-color="#b8b8ff"/><stop offset=".9581" stop-color="#b8b8ff"/><stop offset=".9605" stop-color="#b2b2ff"/><stop offset=".9628" stop-color="#aeaeff"/><stop offset=".9651" stop-color="#aeaeff"/><stop offset=".9674" stop-color="#b0b0ff"/><stop offset=".9721" stop-color="#b0b0ff"/><stop offset=".9744" stop-color="#a7a7ff"/><stop offset=".9767" stop-color="#a7a7ff"/><stop offset=".9791" stop-color="#8989ff"/><stop offset=".9814" stop-color="#8989ff"/><stop offset=".9837" stop-color="#8484ff"/><stop offset=".9884" stop-color="#8484ff"/><stop offset=".9907" stop-color="#9191ff"/><stop offset=".993" stop-color="#9191ff"/><stop offset=".9953" stop-color="#8a8aff"/><stop offset="1" stop-color="#8a8aff"/></linearGradient><linearGradient id="d4" x1="0" y1="0" x2="0" y2="1"><stop offset="0" stop-color="#ff0000"/><stop offset=".0093" stop-color="#ff0000"/><stop offset=".0116" stop-color="#ff0202"/><stop offset=".0163" stop-color="#ff0202"/><stop offset=".0186" stop-color="#ff0000"/><stop offset=".0488" stop-color="#ff0000"/><stop offset=".0512" stop-color="#ff0202"/><stop offset=".0535" stop-color="#ff0202"/><stop offset=".0558" stop-color="#ff0101"/><stop offset=".0581" stop-color="#ff0101"/><stop offset=".0605" stop-color="#ff3636"/><stop offset=".0628" stop-color="#ff3434"/><stop offset=".0698" stop-color="#ff3434"/><stop offset=".0721" stop-color="#ff1a1a"/><stop offset=".0744" stop-color="#ff1e1e"/><stop offset=".0767" stop-color="#ff1e1e"/><stop offset=".0791" stop-color="#ff1c1c"/><stop offset=".0814" stop-color="#ff1c1c"/><stop offset=".0837" stop-color="#ff1919"/><stop offset=".0884" stop-color="#ff1919"/><stop offset=".0907" stop-color="#ff1515"/><stop offset=".093" stop-color="#ff1515"/><stop offset=".0953" stop-color="#ff1a1a"/><stop offset=".0977" stop-color="#ff1a1a"/><stop offset=".1" stop-color="#ff1c1c"/><stop offset=".1047" stop-color="#ff1c1c"/><stop offset=".107" stop-color="#ff0606"/><stop offset=".1093" stop-color="#ff0606"/><stop offset=".1116" stop-color="#ff0808"/><stop offset=".1163" stop-color="#ff0808"/><stop offset=".1186" stop-color="#ff0606"/><stop offset=".1209" stop-color="#ff0606"/><stop offset=".1233" stop-color="#ff0808"/><stop offset=".1256" stop-color="#ff0808"/><stop offset=".1279" stop-color="#ff0505"/><stop offset=".1326" stop-color="#ff0505"/><stop offset=".1349" stop-color="#ff0707"/><stop offset=".1372" stop-color="#ff0707"/><stop offset=".1395" stop-color="#ff0505"/><stop offset=".1442" stop-color="#ff0505"/><stop offset=".1465" stop-color="#ff0707"/><stop offset=".1535" stop-color="#ff0707"/><stop offset=".1558" stop-color="#ff3232"/><stop offset=".1605" stop-color="#ff3232"/><stop offset=".1628" stop-color="#ff3434"/><stop offset=".1651" stop-color="#ff3434"/><stop offset=".1674" stop-color="#ff3333"/><stop offset=".1721" stop-color="#ff3333"/><stop offset=".1744" stop-color="#ff2c2c"/><stop offset=".1767" stop-color="#ff2c2c"/><stop offset=".1791" stop-color="#ff7d7d"/><stop offset=".1884" stop-color="#ff7d7d"/><stop offset=".1907" stop-color="#ff6e6e"/><stop offset=".193" stop-color="#ff6e6e"/><stop offset=".1953" stop-color="#ff6161"/><stop offset=".1977" stop-color="#ff6161"/><stop offset=".2" stop-color="#ff6363"/><stop offset=".2047" stop-color="#ff6363"/><stop offset=".207" stop-color="#ff6767"/><stop offset=".2093" stop-color="#ff6767"/><stop offset=".2116" stop-color="#ff6b6b"/><stop offset=".2163" stop-color="#ff6b6b"/><stop offset=".2186" stop-color="#ff9898"/><stop offset=".2209" stop-color="#ff9898"/><stop offset=".2233" stop-color="#ff9696"/><stop offset=".2256" stop-color="#ff9696"/><stop offset=".2279" stop-color="#ff9393"/><stop offset=".2326" stop-color="#ff9393"/><stop offset=".2349" stop-color="#ff9292"/><stop offset=".2372" stop-color="#ff9292"/><stop offset=".2395" stop-color="#ff9191"/><stop offset=".2419" stop-color="#ff9191"/><stop offset=".2442" stop-color="#ff7e7e"/><stop offset=".2488" stop-color="#ff7e7e"/><stop offset=".2512" stop-color="#ff7f7f"/><stop offset=".2535" stop-color="#ff7f7f"/><stop offset=".2558" stop-color="#ff8080"/><stop offset=".2581" stop-color="#ff5a5a"/><stop offset=".2605" stop-color="#ff5a5a"/><stop offset=".2628" stop-color="#ff5e5e"/><stop offset=".2651" stop-color="#ff5e5e"/><stop offset=".2674" stop-color="#fff7f7"/><stop offset=".2698" stop-color="#fff7f7"/><stop offset=".2721" stop-color="#ffe4e4"/><stop offset=".2744" stop-color="#ffe8e8"/><stop offset=".2767" stop-color="#fffbfb"/><stop offset=".2814" stop-color="#fffbfb"/><stop offset=".2837" stop-color="#ffffff"/><stop offset=".286" stop-color="#ffffff"/><stop offset=".2884" stop-color="#e5e5ff"/><stop offset=".2907" stop-color="#e0e0ff"/><stop offset=".293" stop-color="#e0e0ff"/><stop offset=".2953" stop-color="#d2d2ff"/><stop offset=".3" stop-color="#d2d2ff"/><stop offset=".3023" stop-color="#c9c9ff"/><stop offset=".3047" stop-color="#c9c9ff"/><stop offset=".307" stop-color="#c7c7ff"/><stop offset=".3093" stop-color="#c7c7ff"/><stop offset=".3116" stop-color="#cfcfff"/><stop offset=".3163" stop-color="#cfcfff"/><stop offset=".3186" stop-color="#d2d2ff"/><stop offset=".3209" stop-color="#d2d2ff"/><stop offset=".3233" stop-color="#b1b1ff"/><stop offset=".3256" stop-color="#b1b1ff"/><stop offset=".3279" stop-color="#c0c0ff"/><stop offset=".3326" stop-color="#c0c0ff"/><stop offset=".3349" stop-color="#c2c2ff"/><stop offset=".3372" stop-color="#c2c2ff"/><stop offset=".3395" stop-color="#c0c0ff"/><stop offset=".3488" stop-color="#c0c0ff"/><stop offset=".3512" stop-color="#d5d5ff"/><stop offset=".3535" stop-color="#d5d5ff"/><stop offset=".3558" stop-color="#d6d6ff"/><stop offset=".3605" stop-color="#d6d6ff"/><stop offset=".3628" stop-color="#d0d0ff"/><stop offset=".3651" stop-color="#cacaff"/><stop offset=".3674" stop-color="#ccccff"/><stop offset=".3721" stop-color="#ccccff"/><stop offset=".3744" stop-color="#ceceff"/><stop offset=".3767" stop-color="#ceceff"/><stop offset=".3791" stop-color="#d0d0ff"/><stop offset=".3814" stop-color="#d0d0ff"/><stop offset=".3837" stop-color="#cdcdff"/><stop offset=".3884" stop-color="#cdcdff"/><stop offset=".3907" stop-color="#cbcbff"/><stop offset=".393" stop-color="#cbcbff"/><stop offset=".3953" stop-color="#cdcdff"/><stop offset=".3977" stop-color="#cdcdff"/><stop offset=".4" stop-color="#c9c9ff"/><stop offset=".4047" stop-color="#c9c9ff"/><stop offset=".407" stop-color="#ccccff"/><stop offset=".4093" stop-color="#ccccff"/><stop offset=".4116" stop-color="#cacaff"/><stop offset=".4163" stop-color="#cacaff"/><stop offset=".4186" stop-color="#c6c6ff"/><stop offset=".4209" stop-color="#c6c6ff"/><stop offset=".4233" stop-color="#c7c7ff"/><stop offset=".4256" stop-color="#c7c7ff"/><stop offset=".4279" stop-color="#fff0f0"/><stop offset=".4302" stop-color="#fff0f0"/><stop offset=".4326" stop-color="#eeeeff"/><stop offset=".4349" stop-color="#ececff"/><stop offset=".4372" stop-color="#ececff"/><stop offset=".4395" stop-color="#e8e8ff"/><stop offset=".4442" stop-color="#e8e8ff"/><stop offset=".4465" stop-color="#fcfcff"/><stop offset=".4488" stop-color="#fcfcff"/><stop offset=".4512" stop-color="#ffc8c8"/><stop offset=".4535" stop-color="#ffc8c8"/><stop offset=".4558" stop-color="#ffcdcd"/><stop offset=".4581" stop-color="#ffcdcd"/><stop offset=".4605" stop-color="#ffb3b3"/><stop offset=".4628" stop-color="#ffb8b8"/><stop offset=".4651" stop-color="#ffb8b8"/><stop offset=".4674" stop-color="#ff8686"/><stop offset=".4721" stop-color="#ff8686"/><stop offset=".4744" stop-color="#ff8e8e"/><stop offset=".4767" stop-color="#ffa8a8"/><stop offset=".4791" stop-color="#ffabab"/><stop offset=".4814" stop-color="#ffabab"/><stop offset=".4837" stop-color="#ff9e9e"/><stop offset=".4884" stop-color="#ff9e9e"/><stop offset=".4907" stop-color="#ffa3a3"/><stop offset=".493" stop-color="#ffa3a3"/><stop offset=".4953" stop-color="#ff7f7f"/><stop offset=".4977" stop-color="#ff7f7f"/><stop offset=".5" stop-color="#ff7d7d"/><stop offset=".507" stop-color="#ff7d7d"/><stop offset=".5093" stop-color="#b5b5ff"/><stop offset=".5116" stop-color="#b0b0ff"/><stop offset=".5163" stop-color="#b0b0ff"/><stop offset=".5186" stop-color="#b6b6ff"/><stop offset=".5209" stop-color="#b6b6ff"/><stop offset=".5233" stop-color="#b0b0ff"/><stop offset=".5256" stop-color="#b0b0ff"/><stop offset=".5279" stop-color="#c9c9ff"/><stop offset=".5302" stop-color="#c9c9ff"/><stop offset=".5326" stop-color="#a3a3ff"/><stop offset=".5349" stop-color="#a0a0ff"/><stop offset=".5372" stop-color="#a0a0ff"/><stop offset=".5395" stop-color="#c6c6ff"/><stop offset=".5442" stop-color="#c6c6ff"/><stop offset=".5465" stop-color="#ceceff"/><stop offset=".5488" stop-color="#ceceff"/><stop offset=".5512" stop-color="#aeaeff"/><stop offset=".5535" stop-color="#aeaeff"/><stop offset=".5558" stop-color="#b0b0ff"/><stop offset=".5581" stop-color="#b0b0ff"/><stop offset=".5605" stop-color="#e9e9ff"/><stop offset=".5628" stop-color="#efefff"/><stop offset=".5651" stop-color="#efefff"/><stop offset=".5674" stop-color="#f3f3ff"/><stop offset=".5698" stop-color="#f3f3ff"/><stop offset=".5721" stop-color="#ffe5e5"/><stop offset=".5744" stop-color="#ffecec"/><stop offset=".5767" stop-color="#ffecec"/><stop offset=".5791" stop-color="#ffebeb"/><stop offset=".5814" stop-color="#ffebeb"/><stop offset=".5837" stop-color="#f1f1ff"/><stop offset=".5884" stop-color="#f1f1ff"/><stop offset=".5907" stop-color="#fefeff"/><stop offset=".593" stop-color="#fefeff"/><stop offset=".5953" stop-color="#fffbfb"/><stop offset=".5977" stop-color="#fffbfb"/><stop offset=".6" stop-color="#b6b6ff"/><stop offset=".6023" stop-color="#b1b1ff"/><stop offset=".6047" stop-color="#b1b1ff"/><stop offset=".607" stop-color="#b6b6ff"/><stop offset=".6163" stop-color="#b6b6ff"/><stop offset=".6186" stop-color="#b1b1ff"/><stop offset=".6209" stop-color="#ffeded"/><stop offset=".6233" stop-color="#ffefef"/><stop offset=".6256" stop-color="#ffefef"/><stop offset=".6279" stop-color="#ffecec"/><stop offset=".6302" stop-color="#ffecec"/><stop offset=".6326" stop-color="#b2b2ff"/><stop offset=".6349" stop-color="#aeaeff"/><stop offset=".6372" stop-color="#aeaeff"/><stop offset=".6395" stop-color="#b0b0ff"/><stop offset=".6442" stop-color="#b0b0ff"/><stop offset=".6465" stop-color="#b3b3ff"/><stop offset=".6488" stop-color="#d9d9ff"/><stop offset=".6512" stop-color="#dadaff"/><stop offset=".6535" stop-color="#dadaff"/><stop offset=".6558" stop-color="#ffffff"/><stop offset=".6581" stop-color="#ffffff"/><stop offset=".6605" stop-color="#b3b3ff"/><stop offset=".6628" stop-color="#ababff"/><stop offset=".6651" stop-color="#ababff"/><stop offset=".6674" stop-color="#b1b1ff"/><stop offset=".6721" stop-color="#b1b1ff"/><stop offset=".6744" stop-color="#b5b5ff"/><stop offset=".6767" stop-color="#b5b5ff"/><stop offset=".6791" stop-color="#b7b7ff"/><stop offset=".6814" stop-color="#b7b7ff"/><stop offset=".6837" stop-color="#b6b6ff"/><stop offset=".6884" stop-color="#b6b6ff"/><stop offset=".6907" stop-color="#ababff"/><stop offset=".693" stop-color="#ababff"/><stop offset=".6953" stop-color="#aeaeff"/><stop offset=".7" stop-color="#aeaeff"/><stop offset=".7023" stop-color="#b0b0ff"/><stop offset=".7047" stop-color="#b7b7ff"/><stop offset=".707" stop-color="#b4b4ff"/><stop offset=".7093" stop-color="#b4b4ff"/><stop offset=".7116" stop-color="#b2b2ff"/><stop offset=".7163" stop-color="#b2b2ff"/><stop offset=".7186" stop-color="#b4b4ff"/><stop offset=".7209" stop-color="#b4b4ff"/><stop offset=".7233" stop-color="#bbbbff"/><stop offset=".7256" stop-color="#bbbbff"/><stop offset=".7279" stop-color="#b8b8ff"/><stop offset=".7302" stop-color="#b8b8ff"/><stop offset=".7326" stop-color="#c5c5ff"/><stop offset=".7349" stop-color="#c7c7ff"/><stop offset=".7419" stop-color="#c7c7ff"/><stop offset=".7442" stop-color="#cdcdff"/><stop offset=".7465" stop-color="#d3d3ff"/><stop offset=".7488" stop-color="#d3d3ff"/><stop offset=".7512" stop-color="#cdcdff"/><stop offset=".7535" stop-color="#cdcdff"/><stop offset=".7558" stop-color="#d0d0ff"/><stop offset=".7605" stop-color="#d0d0ff"/><stop offset=".7628" stop-color="#cbcbff"/><stop offset=".7651" stop-color="#cbcbff"/><stop offset=".7674" stop-color="#a6a6ff"/><stop offset=".7721" stop-color="#a6a6ff"/><stop offset=".7744" stop-color="#a0a0ff"/><stop offset=".7767" stop-color="#a0a0ff"/><stop offset=".7791" stop-color="#a4a4ff"/><stop offset=".7814" stop-color="#a4a4ff"/><stop offset=".7837" stop-color="#8f8fff"/><stop offset=".7884" stop-color="#8f8fff"/><stop offset=".7907" stop-color="#9696ff"/><stop offset=".793" stop-color="#9696ff"/><stop offset=".7953" stop-color="#9292ff"/><stop offset=".7977" stop-color="#9292ff"/><stop offset=".8" stop-color="#cdcdff"/><stop offset=".8093" stop-color="#cdcdff"/><stop offset=".8116" stop-color="#ceceff"/><stop offset=".814" stop-color="#ceceff"/><stop offset=".8163" stop-color="#c1c1ff"/><stop offset=".8186" stop-color="#b9b9ff"/><stop offset=".8209" stop-color="#b9b9ff"/><stop offset=".8233" stop-color="#aaaaff"/><stop offset=".8256" stop-color="#aaaaff"/><stop offset=".8279" stop-color="#a0a0ff"/><stop offset=".8326" stop-color="#a0a0ff"/><stop offset=".8349" stop-color="#a6a6ff"/><stop offset=".8372" stop-color="#a6a6ff"/><stop offset=".8395" stop-color="#a9a9ff"/><stop offset=".8419" stop-color="#a9a9ff"/><stop offset=".8442" stop-color="#b0b0ff"/><stop offset=".8465" stop-color="#ababff"/><stop offset=".8488" stop-color="#ababff"/><stop offset=".8512" stop-color="#b4b4ff"/><stop offset=".8535" stop-color="#b4b4ff"/><stop offset=".8558" stop-color="#afafff"/><stop offset=".8605" stop-color="#afafff"/><stop offset=".8628" stop-color="#acacff"/><stop offset=".8651" stop-color="#9393ff"/><stop offset=".8674" stop-color="#9090ff"/><stop offset=".8721" stop-color="#9090ff"/><stop offset=".8744" stop-color="#8e8eff"/><stop offset=".8767" stop-color="#8e8eff"/><stop offset=".8791" stop-color="#9494ff"/><stop offset=".8814" stop-color="#9494ff"/><stop offset=".8837" stop-color="#9393ff"/><stop offset=".886" stop-color="#9393ff"/><stop offset=".8884" stop-color="#b3b3ff"/><stop offset=".8907" stop-color="#b4b4ff"/><stop offset=".893" stop-color="#b4b4ff"/><stop offset=".8953" stop-color="#b5b5ff"/><stop offset=".8977" stop-color="#b5b5ff"/><stop offset=".9" stop-color="#b2b2ff"/><stop offset=".9047" stop-color="#b2b2ff"/><stop offset=".907" stop-color="#bfbfff"/><stop offset=".9093" stop-color="#bfbfff"/><stop offset=".9116" stop-color="#ceceff"/><stop offset=".9163" stop-color="#ceceff"/><stop offset=".9186" stop-color="#c8c8ff"/><stop offset=".9209" stop-color="#c8c8ff"/><stop offset=".9233" stop-color="#cacaff"/><stop offset=".9256" stop-color="#cacaff"/><stop offset=".9279" stop-color="#c9c9ff"/><stop offset=".9326" stop-color="#c9c9ff"/><stop offset=".9349" stop-color="#b4b4ff"/><stop offset=".9372" stop-color="#b4b4ff"/><stop offset=".9395" stop-color="#b1b1ff"/><stop offset=".9442" stop-color="#b1b1ff"/><stop offset=".9465" stop-color="#b4b4ff"/><stop offset=".9488" stop-color="#b4b4ff"/><stop offset=".9512" stop-color="#b0b0ff"/><stop offset=".9535" stop-color="#b0b0ff"/><stop offset=".9558" stop-color="#aeaeff"/><stop offset=".9581" stop-color="#aeaeff"/><stop offset=".9605" stop-color="#a7a7ff"/><stop offset=".9628" stop-color="#acacff"/><stop offset=".9651" stop-color="#acacff"/><stop offset=".9674" stop-color="#aaaaff"/><stop offset=".9721" stop-color="#aaaaff"/><stop offset=".9744" stop-color="#a8a8ff"/><stop offset=".9767" stop-color="#a8a8ff"/><stop offset=".9791" stop-color="#8c8cff"/><stop offset=".9814" stop-color="#8c8cff"/><stop offset=".9837" stop-color="#8b8bff"/><stop offset=".9884" stop-color="#8b8bff"/><stop offset=".9907" stop-color="#8888ff"/><stop offset=".993" stop-color="#8888ff"/><stop offset=".9953" stop-color="#8b8bff"/><stop offset="1" stop-color="#8b8bff"/></linearGradient><linearGradient id="d5" x1="0" y1="0" x2="0" y2="1"><stop offset="0" stop-color="#cbcbff"/><stop offset=".0093" stop-color="#cbcbff"/><stop offset=".0116" stop-color="#ccccff"/><stop offset=".014" stop-color="#ccccff"/><stop offset=".0163" stop-color="#e5e5ff"/><stop offset=".0186" stop-color="#e4e4ff"/><stop offset=".0209" stop-color="#e4e4ff"/><stop offset=".0233" stop-color="#e7e7ff"/><stop offset=".0256" stop-color="#e7e7ff"/><stop offset=".0279" stop-color="#e6e6ff"/><stop offset=".0326" stop-color="#e6e6ff"/><stop offset=".0349" stop-color="#ceceff"/><stop offset=".0372" stop-color="#ceceff"/><stop offset=".0395" stop-color="#e5e5ff"/><stop offset=".0419" stop-color="#e5e5ff"/><stop offset=".0442" stop-color="#b9b9ff"/><stop offset=".0465" stop-color="#b8b8ff"/><stop offset=".0535" stop-color="#b8b8ff"/><stop offset=".0558" stop-color="#b7b7ff"/><stop offset=".0581" stop-color="#b7b7ff"/><stop offset=".0605" stop-color="#fdfdff"/><stop offset=".0628" stop-color="#fdfdff"/><stop offset=".0651" stop-color="#ffe7e7"/><stop offset=".0674" stop-color="#ffebeb"/><stop offset=".0698" stop-color="#ffebeb"/><stop offset=".0721" stop-color="#c7c7ff"/><stop offset=".0744" stop-color="#c8c8ff"/><stop offset=".0767" stop-color="#c8c8ff"/><stop offset=".0791" stop-color="#cacaff"/><stop offset=".0814" stop-color="#cacaff"/><stop offset=".0837" stop-color="#aeaeff"/><stop offset=".0884" stop-color="#aeaeff"/><stop offset=".0907" stop-color="#b2b2ff"/><stop offset=".0977" stop-color="#b2b2ff"/><stop offset=".1" stop-color="#b5b5ff"/><stop offset=".1023" stop-color="#b5b5ff"/><stop offset=".1047" stop-color="#ffc9c9"/><stop offset=".107" stop-color="#ffcbcb"/><stop offset=".1093" stop-color="#ffcbcb"/><stop offset=".1116" stop-color="#ffd2d2"/><stop offset=".114" stop-color="#ffecec"/><stop offset=".1163" stop-color="#ffecec"/><stop offset=".1186" stop-color="#ffe4e4"/><stop offset=".1209" stop-color="#ffe4e4"/><stop offset=".1233" stop-color="#ffe3e3"/><stop offset=".1256" stop-color="#ffe3e3"/><stop offset=".1279" stop-color="#ffffff"/><stop offset=".1302" stop-color="#ffffff"/><stop offset=".1326" stop-color="#ffbfbf"/><stop offset=".1349" stop-color="#ffc3c3"/><stop offset=".1372" stop-color="#ffe9e9"/><stop offset=".1395" stop-color="#ffe6e6"/><stop offset=".1442" stop-color="#ffe6e6"/><stop offset=".1465" stop-color="#ffe3e3"/><stop offset=".1488" stop-color="#ffe3e3"/><stop offset=".1512" stop-color="#ffe4e4"/><stop offset=".1535" stop-color="#ffe4e4"/><stop offset=".1558" stop-color="#ff7f7f"/><stop offset=".1651" stop-color="#ff7f7f"/><stop offset=".1674" stop-color="#ff7e7e"/><stop offset=".1721" stop-color="#ff7e7e"/><stop offset=".1744" stop-color="#ff8282"/><stop offset=".1767" stop-color="#ff8282"/><stop offset=".1791" stop-color="#ff3434"/><stop offset=".1814" stop-color="#ff3434"/><stop offset=".1837" stop-color="#ff3636"/><stop offset=".1884" stop-color="#ff3636"/><stop offset=".1907" stop-color="#ff4d4d"/><stop offset=".193" stop-color="#ff4d4d"/><stop offset=".1953" stop-color="#ff5454"/><stop offset=".1977" stop-color="#ff5454"/><stop offset=".2" stop-color="#ff4747"/><stop offset=".2047" stop-color="#ff4747"/><stop offset=".207" stop-color="#ff4c4c"/><stop offset=".2093" stop-color="#ff4c4c"/><stop offset=".2116" stop-color="#ff4747"/><stop offset=".2163" stop-color="#ff4747"/><stop offset=".2186" stop-color="#ff5050"/><stop offset=".2209" stop-color="#ff5050"/><stop offset=".2233" stop-color="#ff4848"/><stop offset=".2326" stop-color="#ff4848"/><stop offset=".2349" stop-color="#ff7373"/><stop offset=".2372" stop-color="#ff7373"/><stop offset=".2395" stop-color="#ff7575"/><stop offset=".2419" stop-color="#ff7575"/><stop offset=".2442" stop-color="#ff8f8f"/><stop offset=".2488" stop-color="#ff8f8f"/><stop offset=".2512" stop-color="#ff9191"/><stop offset=".2535" stop-color="#ff9191"/><stop offset=".2558" stop-color="#ff8a8a"/><stop offset=".2581" stop-color="#ffa4a4"/><stop offset=".2605" stop-color="#ffa4a4"/><stop offset=".2628" stop-color="#ff9f9f"/><stop offset=".2651" stop-color="#ff9f9f"/><stop offset=".2674" stop-color="#ff0000"/><stop offset=".2767" stop-color="#ff0000"/><stop offset=".2791" stop-color="#ff0202"/><stop offset=".2814" stop-color="#ff0202"/><stop offset=".2837" stop-color="#ff0000"/><stop offset=".3093" stop-color="#ff0000"/><stop offset=".3116" stop-color="#ff0303"/><stop offset=".3163" stop-color="#ff0303"/><stop offset=".3186" stop-color="#ff0000"/><stop offset=".3256" stop-color="#ff0000"/><stop offset=".3279" stop-color="#ff0202"/><stop offset=".3326" stop-color="#ff0202"/><stop offset=".3349" stop-color="#ff0000"/><stop offset=".3419" stop-color="#ff0000"/><stop offset=".3442" stop-color="#f4f4ff"/><stop offset=".3465" stop-color="#eaeaff"/><stop offset=".3488" stop-color="#eaeaff"/><stop offset=".3512" stop-color="#efefff"/><stop offset=".3535" stop-color="#efefff"/><stop offset=".3558" stop-color="#c8c8ff"/><stop offset=".3605" stop-color="#c8c8ff"/><stop offset=".3628" stop-color="#ccccff"/><stop offset=".3651" stop-color="#ccccff"/><stop offset=".3674" stop-color="#c8c8ff"/><stop offset=".3721" stop-color="#c8c8ff"/><stop offset=".3744" stop-color="#cacaff"/><stop offset=".3767" stop-color="#cacaff"/><stop offset=".3791" stop-color="#c7c7ff"/><stop offset=".3814" stop-color="#c7c7ff"/><stop offset=".3837" stop-color="#ccccff"/><stop offset=".3884" stop-color="#ccccff"/><stop offset=".3907" stop-color="#cacaff"/><stop offset=".393" stop-color="#cacaff"/><stop offset=".3953" stop-color="#cbcbff"/><stop offset=".4047" stop-color="#cbcbff"/><stop offset=".407" stop-color="#c9c9ff"/><stop offset=".4093" stop-color="#c9c9ff"/><stop offset=".4116" stop-color="#d6d6ff"/><stop offset=".4163" stop-color="#d6d6ff"/><stop offset=".4186" stop-color="#cdcdff"/><stop offset=".4209" stop-color="#cdcdff"/><stop offset=".4233" stop-color="#d2d2ff"/><stop offset=".4256" stop-color="#d2d2ff"/><stop offset=".4279" stop-color="#f6f6ff"/><stop offset=".4326" stop-color="#f6f6ff"/><stop offset=".4349" stop-color="#f3f3ff"/><stop offset=".4372" stop-color="#f3f3ff"/><stop offset=".4395" stop-color="#eeeeff"/><stop offset=".4419" stop-color="#eeeeff"/><stop offset=".4442" stop-color="#b5b5ff"/><stop offset=".4465" stop-color="#b7b7ff"/><stop offset=".4535" stop-color="#b7b7ff"/><stop offset=".4558" stop-color="#bbbbff"/><stop offset=".4581" stop-color="#bbbbff"/><stop offset=".4605" stop-color="#fafaff"/><stop offset=".4628" stop-color="#fffefe"/><stop offset=".4651" stop-color="#fffefe"/><stop offset=".4674" stop-color="#f9f9ff"/><stop offset=".4721" stop-color="#f9f9ff"/><stop offset=".4744" stop-color="#f2f2ff"/><stop offset=".4767" stop-color="#b9b9ff"/><stop offset=".4791" stop-color="#bebeff"/><stop offset=".4814" stop-color="#bebeff"/><stop offset=".4837" stop-color="#c0c0ff"/><stop offset=".4884" stop-color="#c0c0ff"/><stop offset=".4907" stop-color="#c1c1ff"/><stop offset=".493" stop-color="#c1c1ff"/><stop offset=".4953" stop-color="#b6b6ff"/><stop offset=".4977" stop-color="#b6b6ff"/><stop offset=".5" stop-color="#a4a4ff"/><stop offset=".5047" stop-color="#a4a4ff"/><stop offset=".507" stop-color="#ababff"/><stop offset=".5093" stop-color="#ffaeae"/><stop offset=".5116" stop-color="#ffadad"/><stop offset=".5163" stop-color="#ffadad"/><stop offset=".5186" stop-color="#ffc4c4"/><stop offset=".5209" stop-color="#ffc4c4"/><stop offset=".5233" stop-color="#ffcccc"/><stop offset=".5256" stop-color="#ffcccc"/><stop offset=".5279" stop-color="#ffb4b4"/><stop offset=".5302" stop-color="#ffb4b4"/><stop offset=".5326" stop-color="#ff9a9a"/><stop offset=".5349" stop-color="#ff9b9b"/><stop offset=".5372" stop-color="#ff9b9b"/><stop offset=".5395" stop-color="#ff9e9e"/><stop offset=".5419" stop-color="#ff9e9e"/><stop offset=".5442" stop-color="#ffcbcb"/><stop offset=".5465" stop-color="#ffcaca"/><stop offset=".5488" stop-color="#ffcaca"/><stop offset=".5512" stop-color="#ffc4c4"/><stop offset=".5535" stop-color="#ffc4c4"/><stop offset=".5558" stop-color="#ffc0c0"/><stop offset=".5605" stop-color="#ffc0c0"/><stop offset=".5628" stop-color="#ffc8c8"/><stop offset=".5651" stop-color="#ffdbdb"/><stop offset=".5674" stop-color="#ffe3e3"/><stop offset=".5721" stop-color="#ffe3e3"/><stop offset=".5744" stop-color="#ffd7d7"/><stop offset=".5767" stop-color="#ffd7d7"/><stop offset=".5791" stop-color="#ffdddd"/><stop offset=".5814" stop-color="#ffdddd"/><stop offset=".5837" stop-color="#ff9898"/><stop offset=".5884" stop-color="#ff9898"/><stop offset=".5907" stop-color="#ff9999"/><stop offset=".593" stop-color="#ff9999"/><stop offset=".5953" stop-color="#ff9595"/><stop offset=".5977" stop-color="#ff9595"/><stop offset=".6" stop-color="#ff4f4f"/><stop offset=".6023" stop-color="#ff4c4c"/><stop offset=".6047" stop-color="#ff4c4c"/><stop offset=".607" stop-color="#ff5151"/><stop offset=".6093" stop-color="#ff5151"/><stop offset=".6116" stop-color="#ff4f4f"/><stop offset=".6163" stop-color="#ff4f4f"/><stop offset=".6186" stop-color="#ff4c4c"/><stop offset=".6209" stop-color="#ff3f3f"/><stop offset=".6233" stop-color="#ff4343"/><stop offset=".6256" stop-color="#ff4343"/><stop offset=".6279" stop-color="#ff4545"/><stop offset=".6302" stop-color="#ff4545"/><stop offset=".6326" stop-color="#ff1f1f"/><stop offset=".6349" stop-color="#ff1b1b"/><stop offset=".6372" stop-color="#ff1b1b"/><stop offset=".6395" stop-color="#ff1919"/><stop offset=".6442" stop-color="#ff1919"/><stop offset=".6465" stop-color="#ff1b1b"/><stop offset=".6488" stop-color="#ff1b1b"/><stop offset=".6512" stop-color="#ff1f1f"/><stop offset=".6535" stop-color="#ff1f1f"/><stop offset=".6558" stop-color="#ff1b1b"/><stop offset=".6581" stop-color="#ff1b1b"/><stop offset=".6605" stop-color="#b1b1ff"/><stop offset=".6651" stop-color="#b1b1ff"/><stop offset=".6674" stop-color="#b7b7ff"/><stop offset=".6721" stop-color="#b7b7ff"/><stop offset=".6744" stop-color="#aeaeff"/><stop offset=".6767" stop-color="#aeaeff"/><stop offset=".6791" stop-color="#b3b3ff"/><stop offset=".6814" stop-color="#b3b3ff"/><stop offset=".6837" stop-color="#b0b0ff"/><stop offset=".6884" stop-color="#b0b0ff"/><stop offset=".6907" stop-color="#b2b2ff"/><stop offset=".693" stop-color="#b2b2ff"/><stop offset=".6953" stop-color="#b7b7ff"/><stop offset=".7" stop-color="#b7b7ff"/><stop offset=".7023" stop-color="#bdbdff"/><stop offset=".7047" stop-color="#c3c3ff"/><stop offset=".707" stop-color="#b9b9ff"/><stop offset=".7093" stop-color="#b9b9ff"/><stop offset=".7116" stop-color="#babaff"/><stop offset=".7163" stop-color="#babaff"/><stop offset=".7186" stop-color="#bbbbff"/><stop offset=".7209" stop-color="#bbbbff"/><stop offset=".7233" stop-color="#babaff"/><stop offset=".7256" stop-color="#babaff"/><stop offset=".7279" stop-color="#b6b6ff"/><stop offset=".7302" stop-color="#b6b6ff"/><stop offset=".7326" stop-color="#c3c3ff"/><stop offset=".7349" stop-color="#c1c1ff"/><stop offset=".7372" stop-color="#c1c1ff"/><stop offset=".7395" stop-color="#c3c3ff"/><stop offset=".7419" stop-color="#c3c3ff"/><stop offset=".7442" stop-color="#c9c9ff"/><stop offset=".7465" stop-color="#ccccff"/><stop offset=".7488" stop-color="#ccccff"/><stop offset=".7512" stop-color="#cdcdff"/><stop offset=".7535" stop-color="#cdcdff"/><stop offset=".7558" stop-color="#cacaff"/><stop offset=".7605" stop-color="#cacaff"/><stop offset=".7628" stop-color="#c5c5ff"/><stop offset=".7651" stop-color="#c5c5ff"/><stop offset=".7674" stop-color="#a6a6ff"/><stop offset=".7721" stop-color="#a6a6ff"/><stop offset=".7744" stop-color="#a4a4ff"/><stop offset=".7814" stop-color="#a4a4ff"/><stop offset=".7837" stop-color="#9696ff"/><stop offset=".7884" stop-color="#9696ff"/><stop offset=".7907" stop-color="#9a9aff"/><stop offset=".793" stop-color="#9a9aff"/><stop offset=".7953" stop-color="#9494ff"/><stop offset=".7977" stop-color="#9494ff"/><stop offset=".8" stop-color="#d1d1ff"/><stop offset=".8047" stop-color="#d1d1ff"/><stop offset=".807" stop-color="#c3c3ff"/><stop offset=".8093" stop-color="#c3c3ff"/><stop offset=".8116" stop-color="#d2d2ff"/><stop offset=".814" stop-color="#d2d2ff"/><stop offset=".8163" stop-color="#c6c6ff"/><stop offset=".8186" stop-color="#bcbcff"/><stop offset=".8209" stop-color="#bcbcff"/><stop offset=".8233" stop-color="#a4a4ff"/><stop offset=".8256" stop-color="#a4a4ff"/><stop offset=".8279" stop-color="#ababff"/><stop offset=".8326" stop-color="#ababff"/><stop offset=".8349" stop-color="#a6a6ff"/><stop offset=".8372" stop-color="#a6a6ff"/><stop offset=".8395" stop-color="#a5a5ff"/><stop offset=".8419" stop-color="#a5a5ff"/><stop offset=".8442" stop-color="#acacff"/><stop offset=".8465" stop-color="#b6b6ff"/><stop offset=".8488" stop-color="#b6b6ff"/><stop offset=".8512" stop-color="#b1b1ff"/><stop offset=".8535" stop-color="#b1b1ff"/><stop offset=".8558" stop-color="#b3b3ff"/><stop offset=".8605" stop-color="#b3b3ff"/><stop offset=".8628" stop-color="#b1b1ff"/><stop offset=".8651" stop-color="#9797ff"/><stop offset=".8674" stop-color="#9191ff"/><stop offset=".8721" stop-color="#9191ff"/><stop offset=".8744" stop-color="#9595ff"/><stop offset=".8767" stop-color="#9595ff"/><stop offset=".8791" stop-color="#8d8dff"/><stop offset=".8814" stop-color="#8d8dff"/><stop offset=".8837" stop-color="#9898ff"/><stop offset=".886" stop-color="#9898ff"/><stop offset=".8884" stop-color="#b8b8ff"/><stop offset=".8907" stop-color="#b1b1ff"/><stop offset=".8977" stop-color="#b1b1ff"/><stop offset=".9" stop-color="#b4b4ff"/><stop offset=".9047" stop-color="#b4b4ff"/><stop offset=".907" stop-color="#bcbcff"/><stop offset=".9093" stop-color="#bcbcff"/><stop offset=".9116" stop-color="#ceceff"/><stop offset=".9163" stop-color="#ceceff"/><stop offset=".9186" stop-color="#c8c8ff"/><stop offset=".9209" stop-color="#c8c8ff"/><stop offset=".9233" stop-color="#cfcfff"/><stop offset=".9256" stop-color="#cfcfff"/><stop offset=".9279" stop-color="#c8c8ff"/><stop offset=".9326" stop-color="#c8c8ff"/><stop offset=".9349" stop-color="#ababff"/><stop offset=".9372" stop-color="#ababff"/><stop offset=".9395" stop-color="#bcbcff"/><stop offset=".9442" stop-color="#bcbcff"/><stop offset=".9465" stop-color="#b7b7ff"/><stop offset=".9488" stop-color="#b7b7ff"/><stop offset=".9512" stop-color="#b2b2ff"/><stop offset=".9535" stop-color="#b2b2ff"/><stop offset=".9558" stop-color="#adadff"/><stop offset=".9581" stop-color="#adadff"/><stop offset=".9605" stop-color="#a7a7ff"/><stop offset=".9628" stop-color="#ababff"/><stop offset=".9721" stop-color="#ababff"/><stop offset=".9744" stop-color="#a9a9ff"/><stop offset=".9767" stop-color="#a9a9ff"/><stop offset=".9791" stop-color="#9090ff"/><stop offset=".9814" stop-color="#9090ff"/><stop offset=".9837" stop-color="#8b8bff"/><stop offset=".9884" stop-color="#8b8bff"/><stop offset=".9907" stop-color="#9191ff"/><stop offset=".993" stop-color="#9191ff"/><stop offset=".9953" stop-color="#8c8cff"/><stop offset="1" stop-color="#8c8cff"/></linearGradient><linearGradient id="cbd" x1="0" y1="0" x2="0" y2="1"><stop offset="0.003" stop-color="#ff0505"/><stop offset="0.017" stop-color="#ff0505"/><stop offset="0.023" stop-color="#ff0f0f"/><stop offset="0.037" stop-color="#ff0f0f"/><stop offset="0.043" stop-color="#ff1919"/><stop offset="0.057" stop-color="#ff1919"/><stop offset="0.063" stop-color="#ff2424"/><stop offset="0.077" stop-color="#ff2424"/><stop offset="0.083" stop-color="#ff2e2e"/><stop offset="0.097" stop-color="#ff2e2e"/><stop offset="0.103" stop-color="#ff3838"/><stop offset="0.117" stop-color="#ff3838"/><stop offset="0.123" stop-color="#ff4242"/><stop offset="0.137" stop-color="#ff4242"/><stop offset="0.143" stop-color="#ff4d4d"/><stop offset="0.157" stop-color="#ff4d4d"/><stop offset="0.163" stop-color="#ff5757"/><stop offset="0.177" stop-color="#ff5757"/><stop offset="0.183" stop-color="#ff6161"/><stop offset="0.197" stop-color="#ff6161"/><stop offset="0.203" stop-color="#ff6b6b"/><stop offset="0.217" stop-color="#ff6b6b"/><stop offset="0.223" stop-color="#ff7575"/><stop offset="0.237" stop-color="#ff7575"/><stop offset="0.243" stop-color="#ff8080"/><stop offset="0.257" stop-color="#ff8080"/><stop offset="0.263" stop-color="#ff8a8a"/><stop offset="0.277" stop-color="#ff8a8a"/><stop offset="0.283" stop-color="#ff9494"/><stop offset="0.297" stop-color="#ff9494"/><stop offset="0.303" stop-color="#ff9e9e"/><stop offset="0.317" stop-color="#ff9e9e"/><stop offset="0.323" stop-color="#ffa8a8"/><stop offset="0.337" stop-color="#ffa8a8"/><stop offset="0.343" stop-color="#ffb2b2"/><stop offset="0.357" stop-color="#ffb2b2"/><stop offset="0.363" stop-color="#ffbdbd"/><stop offset="0.377" stop-color="#ffbdbd"/><stop offset="0.383" stop-color="#ffc7c7"/><stop offset="0.397" stop-color="#ffc7c7"/><stop offset="0.403" stop-color="#ffd1d1"/><stop offset="0.417" stop-color="#ffd1d1"/><stop offset="0.423" stop-color="#ffdbdb"/><stop offset="0.437" stop-color="#ffdbdb"/><stop offset="0.443" stop-color="#ffe6e6"/><stop offset="0.457" stop-color="#ffe6e6"/><stop offset="0.463" stop-color="#fff0f0"/><stop offset="0.477" stop-color="#fff0f0"/><stop offset="0.483" stop-color="#fffafa"/><stop offset="0.497" stop-color="#fffafa"/><stop offset="0.503" stop-color="#fafaff"/><stop offset="0.517" stop-color="#fafaff"/><stop offset="0.523" stop-color="#f0f0ff"/><stop offset="0.537" stop-color="#f0f0ff"/><stop offset="0.543" stop-color="#e5e5ff"/><stop offset="0.557" stop-color="#e5e5ff"/><stop offset="0.563" stop-color="#dbdbff"/><stop offset="0.577" stop-color="#dbdbff"/><stop offset="0.583" stop-color="#d1d1ff"/><stop offset="0.597" stop-color="#d1d1ff"/><stop offset="0.603" stop-color="#c7c7ff"/><stop offset="0.617" stop-color="#c7c7ff"/><stop offset="0.623" stop-color="#bdbdff"/><stop offset="0.637" stop-color="#bdbdff"/><stop offset="0.643" stop-color="#b2b2ff"/><stop offset="0.657" stop-color="#b2b2ff"/><stop offset="0.663" stop-color="#a8a8ff"/><stop offset="0.677" stop-color="#a8a8ff"/><stop offset="0.683" stop-color="#9e9eff"/><stop offset="0.697" stop-color="#9e9eff"/><stop offset="0.703" stop-color="#9494ff"/><stop offset="0.717" stop-color="#9494ff"/><stop offset="0.723" stop-color="#8a8aff"/><stop offset="0.737" stop-color="#8a8aff"/><stop offset="0.743" stop-color="#8080ff"/><stop offset="0.757" stop-color="#8080ff"/><stop offset="0.763" stop-color="#7575ff"/><stop offset="0.777" stop-color="#7575ff"/><stop offset="0.783" stop-color="#6b6bff"/><stop offset="0.797" stop-color="#6b6bff"/><stop offset="0.803" stop-color="#6161ff"/><stop offset="0.817" stop-color="#6161ff"/><stop offset="0.823" stop-color="#5757ff"/><stop offset="0.837" stop-color="#5757ff"/><stop offset="0.843" stop-color="#4d4dff"/><stop offset="0.857" stop-color="#4d4dff"/><stop offset="0.863" stop-color="#4242ff"/><stop offset="0.877" stop-color="#4242ff"/><stop offset="0.883" stop-color="#3838ff"/><stop offset="0.897" stop-color="#3838ff"/><stop offset="0.903" stop-color="#2e2eff"/><stop offset="0.917" stop-color="#2e2eff"/><stop offset="0.923" stop-color="#2424ff"/><stop offset="0.937" stop-color="#2424ff"/><stop offset="0.943" stop-color="#1a1aff"/><stop offset="0.957" stop-color="#1a1aff"/><stop offset="0.963" stop-color="#0f0fff"/><stop offset="0.977" stop-color="#0f0fff"/><stop offset="0.983" stop-color="#0505ff"/><stop offset="0.997" stop-color="#0505ff"/></linearGradient></defs>
<rect width="2083" height="2298" fill="#fff"/>
<text x="40" y="45" font-family='"Liberation Serif", "Times New Roman", Times, serif' font-size="40" text-anchor="start" fill="#000">A</text>
<text x="89.5" y="70" font-family='"Liberation Serif", "Times New Roman", Times, serif' font-size="28" text-anchor="start" fill="#222">DEGs_S-H VS S-L</text>
<path d="M418 637.8L425.8 638.5L435 645.5L444.7 649.5L447.3 647.3L441.6 639.4L449.5 638.7L456.9 645.5L463.9 650.8L465.2 647.3L458.7 641.2L463.5 639.8L469.2 647.7L477.1 649L479.3 653.4L481.9 660.4L487.6 663.1L495.5 669.2L494.1 661.3L493.3 649L496.3 645.5L505.1 643.8L510.3 641.2L516.5 638.5L533.1 638.5L533.6 625L538.8 625L540.1 638.5L543.6 652.5L548.2 675.8L553.1 656.9L557.5 638.5L560.1 638.5L560.3 626.7L565.4 626.7L566.3 638.5L622.3 638.5L624.1 646.4L635.5 642L644.2 638.5L657.4 635L658.2 638.5L656.5 643.8L645.1 649.9L639 656L649.5 651.7L660.9 647.3L673.1 641.2L683.6 637.7L684.1 639.8L671.4 647.7L653.8 657.4L636.3 665.2L614.4 674.9L592.5 682.8L564.5 687.8L548.8 688.5L548.9 688.5L531.4 687.8L509.5 684.5L496.3 678.8L472.7 669.6L448.2 658.2L430.7 648.6L422.8 642.5L417.5 639Z" fill="#0866cc"/>
<path d="M607.4 647.3L614.4 645.5L618.8 652.5L615.3 656.9L610.1 663.1L606.6 656.9Z" fill="#fff" fill-opacity=".85"/>
<path d="M589.9 651.7L594.3 652.5L593.9 657.8L590.4 657.4Z" fill="#fff" fill-opacity=".85"/>
<path d="M596.9 660.4L603.1 660.4L602.6 663.9L597.4 664.4Z" fill="#fff" fill-opacity=".85"/>
<path d="M597.8 666.6L600.4 666.6L600.4 670.1L597.8 670.1Z" fill="#fff" fill-opacity=".85"/>
<path d="M627.6 641.2L632.8 640.7L631.1 643.8Z" fill="#fff" fill-opacity=".85"/>
<path d="M510.3 643.8L516.5 642L529.6 642.9L524.4 645.5L516.5 649L513 652.5L509.5 649.9Z" fill="#fff" fill-opacity=".85"/>
<path d="M500.7 653.4L505.1 653.6L504.9 656L500.9 656Z" fill="#fff" fill-opacity=".85"/>
<path d="M506 661.3L510.3 661.3L510.2 663.9L506.1 663.9Z" fill="#fff" fill-opacity=".85"/>
<path d="M468.3 653.4L471.8 653.4L471.8 656L468.3 656Z" fill="#fff" fill-opacity=".85"/>
<path d="M457.8 653.4L461.3 653.4L461.3 656L457.8 656Z" fill="#fff" fill-opacity=".85"/>
<path d="M478.3 633.7h4.5v4.5h-4.5zM476.6 640.7h4.5v4.5h-4.5zM458.2 639.8h4.5v4.5h-4.5z" fill="#0866cc"/>
<path d="M615.7 633.7h4.5v4.5h-4.5zM653.3 633.7h4.5v4.5h-4.5zM614.8 647.7h4.5v4.5h-4.5zM678.7 634.1h4.5v4.5h-4.5z" fill="#0866cc"/>
<path d="M385.8 444h4.9v4.9h-4.9zM502.1 492.3h4.9v4.9h-4.9zM514.6 510.2h4.9v4.9h-4.9zM514.8 530h4.9v4.9h-4.9zM479.4 544h4.9v4.9h-4.9zM524.2 548.8h4.9v4.9h-4.9zM514.6 554.3h4.9v4.9h-4.9zM512 561h4.9v4.9h-4.9zM524 573h4.9v4.9h-4.9zM504.2 578h4.9v4.9h-4.9zM515.3 578h4.9v4.9h-4.9zM520.3 585.8h4.9v4.9h-4.9zM524.2 585.8h4.9v4.9h-4.9zM528.4 585.8h4.9v4.9h-4.9zM431.3 599.8h4.9v4.9h-4.9zM436.9 607.9h4.9v4.9h-4.9zM442.4 615.7h4.9v4.9h-4.9zM442.1 621.5h4.9v4.9h-4.9zM401.2 621.5h4.9v4.9h-4.9zM463.5 623.8h4.9v4.9h-4.9zM498.5 608.4h4.9v4.9h-4.9zM496.2 618.7h4.9v4.9h-4.9zM504.2 632.3h4.9v4.9h-4.9zM514.6 609.3h4.9v4.9h-4.9zM514.6 621.5h4.9v4.9h-4.9zM513.4 629.5h4.9v4.9h-4.9zM510 631.8h4.9v4.9h-4.9zM518 628.4h4.9v4.9h-4.9zM525.6 592h4.9v4.9h-4.9zM522.6 598.5h4.9v4.9h-4.9zM528.4 599.6h4.9v4.9h-4.9zM376.2 598.4h4.9v4.9h-4.9zM378.4 600.1h4.9v4.9h-4.9zM380.3 601.9h4.9v4.9h-4.9zM383.1 604.4h4.9v4.9h-4.9zM385.1 606h4.9v4.9h-4.9zM387.5 608.2h4.9v4.9h-4.9zM390.1 610.1h4.9v4.9h-4.9zM394.4 582.4h4.9v4.9h-4.9zM395.7 584.2h4.9v4.9h-4.9zM398.1 587.4h4.9v4.9h-4.9zM400.2 589.3h4.9v4.9h-4.9zM407.1 602.4h4.9v4.9h-4.9zM409.6 605h4.9v4.9h-4.9zM409.9 605.4h4.9v4.9h-4.9zM410.7 607.3h4.9v4.9h-4.9zM413.3 608.4h4.9v4.9h-4.9zM415.3 609.9h4.9v4.9h-4.9zM416.2 611.4h4.9v4.9h-4.9zM417.7 613h4.9v4.9h-4.9zM419.4 614.5h4.9v4.9h-4.9zM419.8 616.5h4.9v4.9h-4.9zM421.6 617.6h4.9v4.9h-4.9zM422.4 619.3h4.9v4.9h-4.9zM424.6 620.4h4.9v4.9h-4.9zM426.4 621.5h4.9v4.9h-4.9zM427.4 623.8h4.9v4.9h-4.9zM428.7 625.7h4.9v4.9h-4.9zM430.8 627.6h4.9v4.9h-4.9zM431.9 628.5h4.9v4.9h-4.9zM433.3 630.6h4.9v4.9h-4.9zM434.7 631.4h4.9v4.9h-4.9zM436.3 632.1h4.9v4.9h-4.9zM438 633.6h4.9v4.9h-4.9zM411.1 630.3h4.9v4.9h-4.9zM413.7 632.9h4.9v4.9h-4.9zM415 634h4.9v4.9h-4.9zM367.6 165.1h4.9v4.9h-4.9z" fill="#0a9a6a"/>
<path d="M524.4 596.5L531.4 596.5L536.6 608.8L539.2 619.3L538.8 625L533.6 625L533.1 638.5L513 638.5L513 629.8L520.9 628.9L515.6 624.5L515.6 620.1L521.7 617.5L522.6 608.8Z" fill="#0a9a6a"/>
<path d="M587.2 492.5h4.9v4.9h-4.9zM616.2 518.9h4.9v4.9h-4.9zM691.6 519.6h4.9v4.9h-4.9zM726.1 525.8h4.9v4.9h-4.9zM692.7 540.3h4.9v4.9h-4.9zM702.4 543.8h4.9v4.9h-4.9zM573.9 545.8h4.9v4.9h-4.9zM568.6 558.2h4.9v4.9h-4.9zM587.4 557.1h4.9v4.9h-4.9zM597.8 559.4h4.9v4.9h-4.9zM576.6 563.5h4.9v4.9h-4.9zM565.8 568.6h4.9v4.9h-4.9zM573.2 573.2h4.9v4.9h-4.9zM687.4 554.8h4.9v4.9h-4.9zM688.1 561.7h4.9v4.9h-4.9zM685.1 568.1h4.9v4.9h-4.9zM676.6 570.4h4.9v4.9h-4.9zM661.9 574.8h4.9v4.9h-4.9zM670.2 582.8h4.9v4.9h-4.9zM633 584h4.9v4.9h-4.9zM578.9 581.9h4.9v4.9h-4.9zM595 591.1h4.9v4.9h-4.9zM606.1 591.1h4.9v4.9h-4.9zM694.3 593.2h4.9v4.9h-4.9zM729 591.1h4.9v4.9h-4.9zM664 593.9h4.9v4.9h-4.9zM668.1 601.9h4.9v4.9h-4.9zM597.8 602.6h4.9v4.9h-4.9zM590 607.7h4.9v4.9h-4.9zM582.4 616.4h4.9v4.9h-4.9zM587.7 616.4h4.9v4.9h-4.9zM697.3 621h4.9v4.9h-4.9zM603.1 623.8h4.9v4.9h-4.9zM607.7 628.4h4.9v4.9h-4.9zM596.2 626.1h4.9v4.9h-4.9zM590.4 629.5h4.9v4.9h-4.9zM686.5 628.8h4.9v4.9h-4.9zM574.3 562.8h4.9v4.9h-4.9zM572 577.8h4.9v4.9h-4.9zM567.4 584.7h4.9v4.9h-4.9zM575.5 582.4h4.9v4.9h-4.9zM581.2 598.5h4.9v4.9h-4.9zM592.7 633h4.9v4.9h-4.9zM599.6 633h4.9v4.9h-4.9zM637.6 633.6h4.9v4.9h-4.9zM638.1 633.6h4.9v4.9h-4.9zM639.6 631.8h4.9v4.9h-4.9zM640.3 628.6h4.9v4.9h-4.9zM641.8 627.7h4.9v4.9h-4.9zM642.5 626.2h4.9v4.9h-4.9zM643.6 623.7h4.9v4.9h-4.9zM644.5 622h4.9v4.9h-4.9zM646.7 621h4.9v4.9h-4.9zM647.7 619h4.9v4.9h-4.9zM647.8 618h4.9v4.9h-4.9zM648.9 616.1h4.9v4.9h-4.9zM650.3 613.9h4.9v4.9h-4.9zM652.9 612.3h4.9v4.9h-4.9zM653.3 610.1h4.9v4.9h-4.9zM653.3 610.2h4.9v4.9h-4.9zM656.2 606.6h4.9v4.9h-4.9zM656.6 606h4.9v4.9h-4.9zM658.3 603.7h4.9v4.9h-4.9zM659.2 602.9h4.9v4.9h-4.9zM660.5 600.9h4.9v4.9h-4.9zM661.3 598.9h4.9v4.9h-4.9zM663.2 596.9h4.9v4.9h-4.9zM664 595.8h4.9v4.9h-4.9zM657.5 634.3h4.9v4.9h-4.9zM658.3 633h4.9v4.9h-4.9zM660.9 631.4h4.9v4.9h-4.9zM661.5 630.3h4.9v4.9h-4.9zM663 628.1h4.9v4.9h-4.9zM663.3 627.2h4.9v4.9h-4.9zM664.7 626.1h4.9v4.9h-4.9zM666.5 625h4.9v4.9h-4.9zM666.7 622.9h4.9v4.9h-4.9zM668.5 621h4.9v4.9h-4.9zM670.6 619.7h4.9v4.9h-4.9zM671.4 618.7h4.9v4.9h-4.9zM672.2 618h4.9v4.9h-4.9zM674.6 615.4h4.9v4.9h-4.9zM674.9 613.9h4.9v4.9h-4.9zM676.8 613.6h4.9v4.9h-4.9zM678.3 611.2h4.9v4.9h-4.9zM678.5 610.2h4.9v4.9h-4.9zM679.7 609.3h4.9v4.9h-4.9zM681.1 607.9h4.9v4.9h-4.9zM682.9 605h4.9v4.9h-4.9zM684 604.4h4.9v4.9h-4.9zM685.3 602.7h4.9v4.9h-4.9zM685.9 601h4.9v4.9h-4.9zM686.9 600.8h4.9v4.9h-4.9zM688.1 598.5h4.9v4.9h-4.9zM680.8 633.4h4.9v4.9h-4.9zM684.6 631.3h4.9v4.9h-4.9zM687.2 628.8h4.9v4.9h-4.9zM716.5 360.6h4.9v4.9h-4.9zM608.3 433.1h4.9v4.9h-4.9zM707.8 430.1h4.9v4.9h-4.9z" fill="#fa0f3c"/>
<path d="M564.8 587.1L569.9 578.4L579.1 576.1L581.4 587.1L579.1 596.3L582.5 605.5L583.7 614.7L587.1 623.9L595.2 632L599.8 638.6L566.7 638.6L566.4 626.7L560.7 626.7L560.7 625.1L563.4 614.7L566.4 600.9L564.1 591.7Z" fill="#fa0f3c"/>
<path d="M98.7 638.5H1004" stroke="#2a2a2a" stroke-opacity=".9" stroke-width="2.5" stroke-dasharray="6.8 3.5 2.4 3.5" fill="none"/>
<path d="M93.8 82.3H1006" stroke="#666" stroke-width="2.2" fill="none"/>
<path d="M1005 82.3V713" stroke="#b4b4b4" stroke-width="2.6" fill="none"/>
<path d="M94.8 81.3V714.5" stroke="#666" stroke-width="2.6" fill="none"/>
<path d="M93.5 713H1006.3" stroke="#1a1a1a" stroke-width="3.2" fill="none"/>
<path d="M88.8 262H93.8" stroke="#888" stroke-width="2" fill="none"/>
<text x="84.3" y="272" font-family='"Liberation Sans", Arial, Helvetica, sans-serif' font-size="28" text-anchor="end" fill="#1a1a1a" stroke="#1a1a1a" stroke-width=".3">18</text>
<path d="M88.8 472.5H93.8" stroke="#888" stroke-width="2" fill="none"/>
<text x="84.3" y="482.5" font-family='"Liberation Sans", Arial, Helvetica, sans-serif' font-size="28" text-anchor="end" fill="#1a1a1a" stroke="#1a1a1a" stroke-width=".3">9</text>
<path d="M88.8 638.6H93.8" stroke="#888" stroke-width="2" fill="none"/>
<text x="84.3" y="646" font-family='"Liberation Sans", Arial, Helvetica, sans-serif' font-size="28" text-anchor="end" fill="#1a1a1a" stroke="#1a1a1a" stroke-width=".3">2</text>
<path d="M88.8 684H93.8" stroke="#888" stroke-width="2" fill="none"/>
<text x="84.3" y="694" font-family='"Liberation Sans", Arial, Helvetica, sans-serif' font-size="28" text-anchor="end" fill="#1a1a1a" stroke="#1a1a1a" stroke-width=".3">0</text>
<path d="M273 714V718" stroke="#666" stroke-width="2" fill="none"/>
<text x="272" y="742.2" font-family='"Liberation Sans", Arial, Helvetica, sans-serif' font-size="28" text-anchor="middle" fill="#1a1a1a" stroke="#1a1a1a" stroke-width=".3">-20</text>
<path d="M548.8 714V718" stroke="#666" stroke-width="2" fill="none"/>
<text x="548.8" y="742.2" font-family='"Liberation Sans", Arial, Helvetica, sans-serif' font-size="28" text-anchor="middle" fill="#1a1a1a" stroke="#1a1a1a" stroke-width=".3">0</text>
<path d="M824.2 714V718" stroke="#666" stroke-width="2" fill="none"/>
<text x="824.2" y="742.2" font-family='"Liberation Sans", Arial, Helvetica, sans-serif' font-size="28" text-anchor="middle" fill="#1a1a1a" stroke="#1a1a1a" stroke-width=".3">20</text>
<text x="549" y="773" font-family='"Liberation Sans", Arial, Helvetica, sans-serif' font-size="28" text-anchor="middle" fill="#1a1a1a" stroke="#1a1a1a" stroke-width=".3">log<tspan font-size="20" dy="6">2</tspan><tspan dy="-6">(fold change)</tspan></text>
<text transform="translate(37.3 398) rotate(-90)" font-family='"Liberation Sans", Arial, Helvetica, sans-serif' font-size="28" text-anchor="middle" fill="#1a1a1a" stroke="#1a1a1a" stroke-width=".3">−log<tspan font-size="20" dy="6">10</tspan><tspan dy="-6">(pvalue)</tspan></text>
<path d="M690.8 138.2h5.6v5.6h-5.6z" fill="#fa0f3c"/>
<path d="M690.8 167.7h5.6v5.6h-5.6z" fill="#0a9a6a"/>
<text x="712.1" y="151" font-family='"Liberation Sans", Arial, Helvetica, sans-serif' font-size="28.1" text-anchor="start" fill="#1a1a1a" stroke="#1a1a1a" stroke-width=".3">up regulated: 192</text>
<text x="712.1" y="181.3" font-family='"Liberation Sans", Arial, Helvetica, sans-serif' font-size="28.1" text-anchor="start" fill="#1a1a1a" stroke="#1a1a1a" stroke-width=".3">down regulated: 131</text>
<text x="1066" y="45" font-family='"Liberation Serif", "Times New Roman", Times, serif' font-size="40" text-anchor="start" fill="#000">B</text>
<text x="1134.5" y="65" font-family='"Liberation Serif", "Times New Roman", Times, serif' font-size="28" text-anchor="start" fill="#222">DELs_ S-H VS S-L</text>
<path d="M1418.1 552L1430.1 566.7L1448.2 586L1472.2 607.7L1496.3 624.5L1520.4 640.2L1544.5 655.8L1558.9 666.4" fill="none" stroke="#0866cc" stroke-width="5" stroke-linejoin="round" stroke-linecap="round"/>
<path d="M1780.5 551.1L1766.6 567.9L1748.6 586L1724.5 605.3L1700.4 620.9L1676.3 636.6L1652.2 653.4L1637.8 665.2" fill="none" stroke="#0866cc" stroke-width="5" stroke-linejoin="round" stroke-linecap="round"/>
<path d="M1447.6 552L1454.8 552L1462.6 566.5L1474.7 577.3L1486.7 582.1L1496.3 590.6L1508.4 600.2L1514.4 603.2L1526.4 605.6L1538.5 605L1544.5 611L1566.2 612.2L1571 613.7L1573.4 629.1L1578.2 631.8L1583 646L1597.5 675.5L1599.9 683.3L1581.8 683.3L1558.9 670L1542.1 658L1525.2 646L1527.6 629.1L1515.6 618.3L1502.4 608L1484.3 594.2L1472.2 585.5L1460.2 574L1448.2 560.7Z" fill="#0866cc"/>
<path d="M1598.7 675.5L1613.7 648.4L1628.2 629.7L1636.6 623.1L1652.2 614.7L1663.1 607.4L1671.5 596.6L1682.4 594.2L1688.4 600.2L1700.4 595.4L1707.6 589.4L1718.5 581.5L1734.1 568.3L1741.4 558.7L1746.2 552L1756.4 552L1751 560.7L1740.2 574.3L1724.5 588.8L1712.5 599.6L1700.4 609.2L1688.4 618.9L1676.3 628.5L1666.7 636.3L1664.3 643.6L1652.2 655.6L1640.2 666.4L1613.7 683.3L1596.9 683.3Z" fill="#0866cc"/>
<path d="M1557.7 621.9L1566.2 621.3L1566.8 624.9L1558.3 625.5Z" fill="#fff" fill-opacity=".8"/>
<path d="M1525.2 618.3L1532.5 619.5L1533.7 623.1L1526.4 621.9Z" fill="#fff" fill-opacity=".8"/>
<path d="M1560.2 632.1L1564.4 632.1L1564.4 635.1L1560.2 635.1Z" fill="#fff" fill-opacity=".8"/>
<path d="M1512 608.6L1520.4 608L1520.4 610.4L1512 611Z" fill="#fff" fill-opacity=".8"/>
<path d="M1661.9 618.3L1664.9 618.3L1664.9 621.9L1661.9 621.9Z" fill="#fff" fill-opacity=".8"/>
<path d="M1665.5 635.1L1671.5 632.7L1672.1 635.1L1667.3 638.7Z" fill="#fff" fill-opacity=".8"/>
<path d="M1678.7 602.6L1683.6 602L1683 605.6L1676.3 611Z" fill="#fff" fill-opacity=".8"/>
<path d="M1705.2 596.6L1710 596.6L1710 600.2L1705.2 600.2Z" fill="#fff" fill-opacity=".8"/>
<path d="M1483.1 555.7h4.8v4.8h-4.8zM1483.1 562.9h4.8v4.8h-4.8zM1451.8 569.5h4.8v4.8h-4.8zM1502.4 572.5h4.8v4.8h-4.8zM1509.6 579.7h4.8v4.8h-4.8zM1507.2 576.1h4.8v4.8h-4.8zM1539.1 567.7h4.8v4.8h-4.8zM1529.5 582.2h4.8v4.8h-4.8zM1510.8 591.8h4.8v4.8h-4.8zM1516.8 594.2h4.8v4.8h-4.8zM1481.9 597.8h4.8v4.8h-4.8zM1553.5 588.8h4.8v4.8h-4.8zM1560.2 594.2h4.8v4.8h-4.8zM1548.1 597.8h4.8v4.8h-4.8zM1550.5 603.8h4.8v4.8h-4.8zM1557.8 607.4h4.8v4.8h-4.8zM1491.5 607.4h4.8v4.8h-4.8zM1449.4 561.7h4.8v4.8h-4.8zM1454.2 560.5h4.8v4.8h-4.8zM1471.1 588.2h4.8v4.8h-4.8zM1486.7 553.3h4.8v4.8h-4.8z" fill="#0866cc"/>
<path d="M1666.7 548.4h4.8v4.8h-4.8zM1666.7 552.7h4.8v4.8h-4.8zM1685.4 562.9h4.8v4.8h-4.8zM1693.2 570.1h4.8v4.8h-4.8zM1686.6 576.1h4.8v4.8h-4.8zM1691.4 583.4h4.8v4.8h-4.8zM1652.3 580.9h4.8v4.8h-4.8zM1670.3 582.8h4.8v4.8h-4.8zM1646.8 596.6h4.8v4.8h-4.8zM1652.3 603.8h4.8v4.8h-4.8zM1633 614.7h4.8v4.8h-4.8zM1640.2 611.7h4.8v4.8h-4.8zM1710.1 597.8h4.8v4.8h-4.8zM1702.8 609.8h4.8v4.8h-4.8zM1688.4 612.3h4.8v4.8h-4.8zM1698 560.5h4.8v4.8h-4.8zM1700.4 555.7h4.8v4.8h-4.8zM1707.6 553.3h4.8v4.8h-4.8zM1695.6 573.7h4.8v4.8h-4.8zM1701.6 580.9h4.8v4.8h-4.8zM1673.9 591.8h4.8v4.8h-4.8zM1666.7 591.8h4.8v4.8h-4.8zM1743.8 561.7h4.8v4.8h-4.8zM1751 554.5h4.8v4.8h-4.8z" fill="#0866cc"/>
<path d="M1416.1 401.8h4.9v4.9h-4.9zM1416.7 407.5h4.9v4.9h-4.9zM1391.9 436h4.9v4.9h-4.9zM1424.6 434.6h4.9v4.9h-4.9zM1450.2 440.8h4.9v4.9h-4.9zM1472.2 452.5h4.9v4.9h-4.9zM1396.7 447.4h4.9v4.9h-4.9zM1396.7 453.1h4.9v4.9h-4.9zM1402.7 464.4h4.9v4.9h-4.9zM1426.6 457.3h4.9v4.9h-4.9zM1410.4 484.4h4.9v4.9h-4.9zM1411.8 490.1h4.9v4.9h-4.9zM1414.7 489.2h4.9v4.9h-4.9zM1442.6 487.2h4.9v4.9h-4.9zM1418.9 502h4.9v4.9h-4.9zM1443.7 501.4h4.9v4.9h-4.9zM1461.6 500h4.9v4.9h-4.9zM1488.1 503.4h4.9v4.9h-4.9zM1394.7 516.5h4.9v4.9h-4.9zM1424.6 514.2h4.9v4.9h-4.9zM1427.5 521.4h4.9v4.9h-4.9zM1431.7 527.1h4.9v4.9h-4.9zM1433.2 531.3h4.9v4.9h-4.9zM1457.4 522.8h4.9v4.9h-4.9zM1461.6 528.5h4.9v4.9h-4.9zM1467.3 532.7h4.9v4.9h-4.9zM1473 538.4h4.9v4.9h-4.9zM1474.4 543.3h4.9v4.9h-4.9zM1403.3 528.5h4.9v4.9h-4.9zM1407.6 535.6h4.9v4.9h-4.9zM1411.8 541.3h4.9v4.9h-4.9zM1416.1 547h4.9v4.9h-4.9zM1423.8 542.1h4.9v4.9h-4.9zM1444 546.1h4.9v4.9h-4.9zM1399 458.7h4.9v4.9h-4.9zM1404.7 467.3h4.9v4.9h-4.9zM1370.6 103.4h4.9v4.9h-4.9zM1338.4 170.6h4.9v4.9h-4.9zM1364.9 362.4h4.9v4.9h-4.9zM1415.5 395.2h4.9v4.9h-4.9z" fill="#0a9a6a"/>
<path d="M1770.8 422.7h4.9v4.9h-4.9zM1813.8 410.4h4.9v4.9h-4.9zM1809.5 416.2h4.9v4.9h-4.9zM1805.2 424.7h4.9v4.9h-4.9zM1810.9 426.2h4.9v4.9h-4.9zM1768 433.3h4.9v4.9h-4.9zM1769.4 440.5h4.9v4.9h-4.9zM1763.7 451.9h4.9v4.9h-4.9zM1793.7 451.9h4.9v4.9h-4.9zM1855.8 454.2h4.9v4.9h-4.9zM1760.8 459.1h4.9v4.9h-4.9zM1761.4 467.7h4.9v4.9h-4.9zM1755.1 473.4h4.9v4.9h-4.9zM1763.7 475.4h4.9v4.9h-4.9zM1772.2 477.7h4.9v4.9h-4.9zM1785.7 473.4h4.9v4.9h-4.9zM1785.7 476.8h4.9v4.9h-4.9zM1755.1 480.6h4.9v4.9h-4.9zM1752.2 489.2h4.9v4.9h-4.9zM1778 490.6h4.9v4.9h-4.9zM1750.8 496.3h4.9v4.9h-4.9zM1776.5 497.7h4.9v4.9h-4.9zM1746.5 503.5h4.9v4.9h-4.9zM1773.7 504.9h4.9v4.9h-4.9zM1809.5 499.2h4.9v4.9h-4.9zM1806.6 503.5h4.9v4.9h-4.9zM1769.4 513.5h4.9v4.9h-4.9zM1773.7 514.3h4.9v4.9h-4.9zM1705 512.1h4.9v4.9h-4.9zM1705.5 516.3h4.9v4.9h-4.9zM1737.9 513.5h4.9v4.9h-4.9zM1732.2 522.1h4.9v4.9h-4.9zM1729.3 529.2h4.9v4.9h-4.9zM1726.4 535h4.9v4.9h-4.9zM1723.6 540.7h4.9v4.9h-4.9zM1720.7 546.4h4.9v4.9h-4.9zM1703.5 530.7h4.9v4.9h-4.9zM1713.6 535h4.9v4.9h-4.9zM1697 544.4h4.9v4.9h-4.9zM1713.6 546.4h4.9v4.9h-4.9zM1755.1 535h4.9v4.9h-4.9zM1752.2 540.7h4.9v4.9h-4.9zM1753.6 545h4.9v4.9h-4.9zM1757.9 532.1h4.9v4.9h-4.9zM1749.3 543.5h4.9v4.9h-4.9zM1756.5 539.2h4.9v4.9h-4.9zM1795.1 520.6h4.9v4.9h-4.9zM1790.9 527.8h4.9v4.9h-4.9zM1786.6 535h4.9v4.9h-4.9zM1780.8 543.5h4.9v4.9h-4.9zM1730.7 524.9h4.9v4.9h-4.9zM1727.9 532.1h4.9v4.9h-4.9zM1739.3 526.4h4.9v4.9h-4.9zM1772.2 509.2h4.9v4.9h-4.9zM1775.1 493.4h4.9v4.9h-4.9zM1805.2 238h4.9v4.9h-4.9zM1796.9 290.1h4.9v4.9h-4.9zM1785.7 351.9h4.9v4.9h-4.9zM1782 387.4h4.9v4.9h-4.9zM1816.6 393.2h4.9v4.9h-4.9z" fill="#fa0f3c"/>
<path d="M1139.9 552.8H2061.4" stroke="#2a2a2a" stroke-opacity=".9" stroke-width="2.5" stroke-dasharray="6.8 3.5 2.4 3.5" fill="none"/>
<path d="M1135 77.2H2063.4" stroke="#666" stroke-width="2.2" fill="none"/>
<path d="M2062.4 77.2V709.3" stroke="#b4b4b4" stroke-width="2.6" fill="none"/>
<path d="M1136 76.2V710.8" stroke="#333" stroke-width="2.6" fill="none"/>
<path d="M1134.7 709.3H2063.7" stroke="#1a1a1a" stroke-width="3.2" fill="none"/>
<path d="M1130 296.9H1135" stroke="#888" stroke-width="2" fill="none"/>
<text x="1125.5" y="306.9" font-family='"Liberation Sans", Arial, Helvetica, sans-serif' font-size="28" text-anchor="end" fill="#1a1a1a" stroke="#1a1a1a" stroke-width=".3">6</text>
<path d="M1130 489.1H1135" stroke="#888" stroke-width="2" fill="none"/>
<text x="1125.5" y="499.1" font-family='"Liberation Sans", Arial, Helvetica, sans-serif' font-size="28" text-anchor="end" fill="#1a1a1a" stroke="#1a1a1a" stroke-width=".3">3</text>
<path d="M1130 552.8H1135" stroke="#888" stroke-width="2" fill="none"/>
<text x="1125.5" y="562.8" font-family='"Liberation Sans", Arial, Helvetica, sans-serif' font-size="28" text-anchor="end" fill="#1a1a1a" stroke="#1a1a1a" stroke-width=".3">2</text>
<path d="M1130 681.2H1135" stroke="#888" stroke-width="2" fill="none"/>
<text x="1125.5" y="691.2" font-family='"Liberation Sans", Arial, Helvetica, sans-serif' font-size="28" text-anchor="end" fill="#1a1a1a" stroke="#1a1a1a" stroke-width=".3">0</text>
<path d="M1319.5 710.3V714.3" stroke="#666" stroke-width="2" fill="none"/>
<text x="1318.5" y="738.5" font-family='"Liberation Sans", Arial, Helvetica, sans-serif' font-size="28" text-anchor="middle" fill="#1a1a1a" stroke="#1a1a1a" stroke-width=".3">-20</text>
<path d="M1599.2 710.3V714.3" stroke="#666" stroke-width="2" fill="none"/>
<text x="1599.2" y="738.5" font-family='"Liberation Sans", Arial, Helvetica, sans-serif' font-size="28" text-anchor="middle" fill="#1a1a1a" stroke="#1a1a1a" stroke-width=".3">0</text>
<path d="M1878.3 710.3V714.3" stroke="#666" stroke-width="2" fill="none"/>
<text x="1878.3" y="738.5" font-family='"Liberation Sans", Arial, Helvetica, sans-serif' font-size="28" text-anchor="middle" fill="#1a1a1a" stroke="#1a1a1a" stroke-width=".3">20</text>
<text x="1598.5" y="769" font-family='"Liberation Sans", Arial, Helvetica, sans-serif' font-size="28" text-anchor="middle" fill="#1a1a1a" stroke="#1a1a1a" stroke-width=".3">log<tspan font-size="20" dy="6">2</tspan><tspan dy="-6">(fold change)</tspan></text>
<text transform="translate(1095 394) rotate(-90)" font-family='"Liberation Sans", Arial, Helvetica, sans-serif' font-size="28" text-anchor="middle" fill="#1a1a1a" stroke="#1a1a1a" stroke-width=".3">−log<tspan font-size="20" dy="6">10</tspan><tspan dy="-6">(pvalue)</tspan></text>
<path d="M1753 133.7h5.6v5.6h-5.6z" fill="#fa0f3c"/>
<path d="M1753 163.2h5.6v5.6h-5.6z" fill="#0a9a6a"/>
<text x="1774.3" y="146.5" font-family='"Liberation Sans", Arial, Helvetica, sans-serif' font-size="28.1" text-anchor="start" fill="#1a1a1a" stroke="#1a1a1a" stroke-width=".3">up regulated: 119</text>
<text x="1774.3" y="176.8" font-family='"Liberation Sans", Arial, Helvetica, sans-serif' font-size="28.1" text-anchor="start" fill="#1a1a1a" stroke="#1a1a1a" stroke-width=".3">down regulated: 61</text>
<text x="54" y="940.5" font-family='"Liberation Serif", "Times New Roman", Times, serif' font-size="41" text-anchor="start" fill="#000">C</text>
<rect x="316" y="1072" width="93.7" height="1116.9" fill="url(#c0)"/>
<rect x="409.2" y="1072" width="93.7" height="1116.9" fill="url(#c1)"/>
<rect x="502.5" y="1072" width="93.7" height="1116.9" fill="url(#c2)"/>
<rect x="595.7" y="1072" width="93.7" height="1116.9" fill="url(#c3)"/>
<rect x="688.9" y="1072" width="93.7" height="1116.9" fill="url(#c4)"/>
<rect x="782.2" y="1072" width="94.7" height="1116.9" fill="url(#c5)"/>
<rect x="873.9" y="1072" width="3" height="1116.9" fill="#fff" fill-opacity=".6"/>
<rect x="887" y="1072" width="30" height="411" fill="url(#cbc)"/>
<rect x="887" y="1072" width="3" height="411" fill="#fff" fill-opacity=".6"/>
<rect x="914" y="1072" width="3" height="411" fill="#fff" fill-opacity=".3"/>
<text x="927" y="1085" font-family='"Liberation Sans", Arial, Helvetica, sans-serif' font-size="28" fill="#111" stroke="#111" stroke-width=".3">2</text>
<text x="927" y="1185.6" font-family='"Liberation Sans", Arial, Helvetica, sans-serif' font-size="28" fill="#111" stroke="#111" stroke-width=".3">1</text>
<text x="927" y="1286.2" font-family='"Liberation Sans", Arial, Helvetica, sans-serif' font-size="28" fill="#111" stroke="#111" stroke-width=".3">0</text>
<text x="927" y="1386.9" font-family='"Liberation Sans", Arial, Helvetica, sans-serif' font-size="28" fill="#111" stroke="#111" stroke-width=".3">−1</text>
<text x="927" y="1487.5" font-family='"Liberation Sans", Arial, Helvetica, sans-serif' font-size="28" fill="#111" stroke="#111" stroke-width=".3">−2</text>
<path d="M432.5 997.5V928.4H712.2V981.6" stroke="#333" stroke-width="2.2" fill="none" stroke-linecap="square"/>
<path d="M362.6 1072V997.5H502.5V1005.5" stroke="#444" stroke-width="2.2" fill="none" stroke-linecap="square"/>
<path d="M455.9 1072V1005.5H549.1V1072" stroke="#555" stroke-width="2.2" fill="none" stroke-linecap="square"/>
<path d="M642.3 1072V981.6H782.2V989" stroke="#444" stroke-width="2.2" fill="none" stroke-linecap="square"/>
<path d="M735.5 1072V989H828.8V1072" stroke="#333" stroke-width="2.2" fill="none" stroke-linecap="square"/>
<text transform="translate(353.4 2197) rotate(90)" font-family='"Liberation Sans", Arial, Helvetica, sans-serif' font-size="27" fill="#111" stroke="#111" stroke-width=".3">LW82</text>
<text transform="translate(446.7 2197) rotate(90)" font-family='"Liberation Sans", Arial, Helvetica, sans-serif' font-size="27" fill="#111" stroke="#111" stroke-width=".3">LW88</text>
<text transform="translate(539.9 2197) rotate(90)" font-family='"Liberation Sans", Arial, Helvetica, sans-serif' font-size="27" fill="#111" stroke="#111" stroke-width=".3">LW90</text>
<text transform="translate(633.1 2197) rotate(90)" font-family='"Liberation Sans", Arial, Helvetica, sans-serif' font-size="27" fill="#111" stroke="#111" stroke-width=".3">LW63</text>
<text transform="translate(726.3 2197) rotate(90)" font-family='"Liberation Sans", Arial, Helvetica, sans-serif' font-size="27" fill="#111" stroke="#111" stroke-width=".3">LW119</text>
<text transform="translate(819.6 2197) rotate(90)" font-family='"Liberation Sans", Arial, Helvetica, sans-serif' font-size="27" fill="#111" stroke="#111" stroke-width=".3">LW70</text>
<path d="M173.1 1241.9L173.1 1909.2M232.1 1088.8L232.1 1155.5M237.3 1799L237.3 1822.9M239.3 1931.4L260.9 1931.4M231.5 1988.9L231.5 2050.2M225.8 2120.1L225.8 2157.6M263.7 1077.8L300.1 1077.8M308.3 1102L308.3 1105.2M308.3 1102L316 1102M255.7 1140L294.7 1140M306.2 1126.8L316 1126.8M300.7 1136L316 1136M303.7 1143.8L303.7 1154.3M309.7 1145.9L309.7 1151.2M303.7 1154.3L316 1154.3M293.3 1170.8L296.3 1170.8M303.8 1173.4L316 1173.4M304.4 1200.6L307.4 1200.6M277.8 1238.9L288 1238.9M293 1226.1L293 1236.8M293 1226.1L305.7 1226.1M305.7 1224.5L316 1224.5M293 1236.8L303.3 1236.8M309.3 1234L309.3 1237.2M297.4 1264.1L303.7 1264.1M282.7 1294L282.7 1320.9M282.7 1294L316 1294M293.9 1309.1L293.9 1332.8M306.1 1299.5L309.1 1299.5M309.1 1301.8L312.1 1301.8M305.7 1328.4L316 1328.4M258.6 1373.1L270.2 1373.1M310.3 1381.1L310.3 1384.2M310.3 1388.8L313.3 1388.8M312 1396.5L312 1399.7M312 1399.7L316 1399.7M300.7 1424.8L316 1424.8M297.4 1437.9L297.4 1448.5M302.9 1435.6L308.4 1435.6M308.4 1434.1L316 1434.1M306.4 1450.5L309.4 1450.5M303.4 1454.9L316 1454.9M305.5 1494.6L305.5 1499.3M308.5 1497.7L316 1497.7M284.7 1521.5L284.7 1536.6M284.7 1521.5L300.9 1521.5M303.9 1519.9L316 1519.9M308.5 1526.3L316 1526.3M309.4 1535.8L316 1535.8M271.6 1552.3L271.6 1602.7M291.3 1570.1L306.4 1570.1M309.4 1575.9L316 1575.9M309.5 1588.2L316 1588.2M303.5 1603.5L316 1603.5M255.1 1650.2L276.3 1650.2M295.3 1615.1L295.3 1646.9M310.3 1625.3L310.3 1634.7M310.3 1634.7L313.3 1634.7M314 1634.7L314 1637.8M307.1 1666L316 1666M307.1 1673.8L307.1 1680.1M279.3 1700.1L282.7 1700.1M282.7 1689.4L282.7 1710.7M305 1692.6L308 1692.6M298.1 1697.3L298.1 1702.7M311.5 1706.6L316 1706.6M298.1 1714.3L304.3 1714.3M304.3 1709.8L316 1709.8M304.3 1718.8L307.3 1718.8M313.3 1719.2L316 1719.2M310.2 1734.8L316 1734.8M308.5 1751.3L311.5 1751.3M308.2 1782L308.2 1787.7M300 1815.4L316 1815.4M300 1819.8L304.3 1819.8M277.7 1827.9L292.4 1827.9M295.4 1827.2L295.4 1835.8M295.4 1827.2L316 1827.2M298.4 1839.1L316 1839.1M305.3 1848.1L305.3 1852.7M305.3 1848.1L316 1848.1M299.7 1859.8L302.7 1859.8M309.7 1875.6L309.7 1878.9M309.7 1878.9L316 1878.9M298 1889L305.4 1889M295.8 1920.6L298.8 1920.6M304.8 1916.9L304.8 1921.5M260.9 1945.2L281.7 1945.2M303.9 1935.5L316 1935.5M304.9 1963.4L316 1963.4M299.6 1967.9L309.3 1967.9M305.8 1976.2L305.8 1981.5M311.8 1975.5L316 1975.5M293.6 1986L301.9 1986M305.8 2008.7L316 2008.7M299.8 2017.8L316 2017.8M287.8 2026.6L287.8 2033.2M308.3 2023.9L308.3 2027M302.3 2030.1L316 2030.1M296.5 2042.1L299.9 2042.1M304.1 2036.3L316 2036.3M307.1 2039.4L307.1 2042.5M307.2 2054.8L307.2 2059.3M296 2100.4L296 2107.2M296 2100.4L316 2100.4M303.3 2106.4L316 2106.4M305.5 2115.5L316 2115.5M304 2121.4L304 2130.4M301 2135.8L316 2135.8M300.9 2147.3L303.9 2147.3M306.9 2149L306.9 2152.4M304.5 2180.2L304.5 2187.3M310.5 2179.5L313.5 2179.5" stroke="#444" stroke-width="2.3" fill="none" stroke-linecap="square"/>
<path d="M173.1 1241.9L191.8 1241.9M255.1 1572.2L255.1 1650.2M178.8 1781.2L209.1 1781.2M239.3 1762.4L263.7 1762.4M231.5 2050.2L247.9 2050.2M290.4 1099.1L300.9 1099.1M300.9 1092.3L303.9 1092.3M303.9 1089.6L303.9 1095.1M306.9 1097.4L309.9 1097.4M300.9 1105.9L305.3 1105.9M308.3 1105.2L316 1105.2M303.2 1120.7L303.2 1125.3M294.7 1136.9L297.7 1136.9M300.7 1149L303.7 1149M290.3 1175.3L293.3 1175.3M307.1 1160.6L316 1160.6M307.1 1165.4L310.1 1165.4M310.1 1163.8L310.1 1167M310.1 1167L316 1167M296.3 1175L303.8 1175M303.8 1176.6L316 1176.6M271.8 1197.6L274.8 1197.6M274.8 1186.2L316 1186.2M286.9 1191L301.2 1191M301.2 1189.4L316 1189.4M301.2 1192.6L316 1192.6M286.9 1199.4L298.4 1199.4M274.8 1221.3L274.8 1250.8M307.6 1249.9L316 1249.9M277.8 1262.8L294.4 1262.8M302.2 1256.2L316 1256.2M297.4 1271.3L306 1271.3M258.6 1311.8L279.7 1311.8M310.2 1281.5L310.2 1284.6M310.2 1281.5L316 1281.5M309.1 1297.1L309.1 1301.8M299.7 1328.6L299.7 1337M311.7 1322.1L316 1322.1M299.7 1337L308.3 1337M308.3 1334.6L316 1334.6M290.6 1344L290.6 1352.9M304.3 1386.9L307.3 1386.9M310.3 1381.1L316 1381.1M276 1407.1L299.9 1407.1M302.9 1419.3L305.9 1419.3M310 1418.5L316 1418.5M305.9 1421.7L316 1421.7M258 1448.5L297.4 1448.5M306.8 1460.9L306.8 1464M300.8 1473.4L300.8 1482.8M274.3 1501.2L274.3 1519.7M299.5 1489.8L308.1 1489.8M299.5 1500.5L302.5 1500.5M308.5 1497.7L308.5 1500.9M302.5 1504.1L316 1504.1M300.9 1517.6L303.9 1517.6M271.6 1552.3L274.6 1552.3M277.6 1552.9L302.3 1552.9M302.3 1551.3L316 1551.3M312.4 1566.7L312.4 1569.8M306.4 1574.4L309.4 1574.4M258.1 1609.7L316 1609.7M303.4 1617.5L306.4 1617.5M301.3 1630.4L304.3 1630.4M307.3 1630L310.3 1630M314 1636.3L314 1642.5M314 1644.1L316 1644.1M289.3 1659.7L316 1659.7M304.1 1667.5L304.1 1676.9M304.1 1676.9L307.1 1676.9M310.1 1672.2L316 1672.2M305 1686.3L308.8 1686.3M308.8 1684.7L316 1684.7M308 1691L316 1691M304.3 1709.8L304.3 1718.8M310.3 1712.9L316 1712.9M279.3 1734L301.3 1734M299.5 1742.5L304.5 1742.5M299.5 1751.9L302.5 1751.9M305.5 1760.2L309.5 1760.2M286.6 1775.5L289.6 1775.5M307.6 1800.1L307.6 1804.8M307.6 1800.1L316 1800.1M298.6 1809.4L316 1809.4M296.1 1812.4L296.1 1817.6M299.7 1843.6L299.7 1850.4M308.7 1863.2L308.7 1866.3M306.7 1872.4L306.7 1877.3M306.7 1872.4L316 1872.4M295 1892.8L298 1892.8M308.4 1883.7L311.4 1883.7M308.4 1888.6L316 1888.6M305.4 1891.8L316 1891.8M279.7 1901.4L279.7 1924.9M304.8 1908.4L307.8 1908.4M301.8 1919.2L304.8 1919.2M308.7 1954.2L308.7 1957.3M308.7 1954.2L316 1954.2M296.6 1961.9L296.6 1973.4M305.8 1976.2L308.8 1976.2M308.8 1978.5L316 1978.5M288.9 1996.6L288.9 2012.1M307 1999.6L307 2004.2M310 2002.7L316 2002.7M305.8 2008.7L305.8 2013.2M307.1 2042.5L316 2042.5M247.9 2067.5L298.2 2067.5M304.2 2051.7L304.2 2057.1M310.2 2070L316 2070M309.2 2076.1L316 2076.1M275.4 2109.2L288.8 2109.2M299 2104.9L303.3 2104.9M303.3 2103.4L303.3 2106.4M299 2109.4L316 2109.4M307 2127.9L310 2127.9M313 2124.3L313 2127.2M313 2124.3L316 2124.3M306.5 2165.3L316 2165.3M307.5 2176.3L307.5 2184.2" stroke="#222" stroke-width="2.3" fill="none" stroke-linecap="square"/>
<path d="M191.8 1096.8L191.8 1386.6M200.4 1280.1L200.4 1491.7M200.4 1280.1L239.3 1280.1M258.6 1311.8L258.6 1373.1M224 1549.2L242.2 1549.2M178.8 1781.2L178.8 2036.7M263.2 1858.3L263.2 1883.3M300.1 1086.5L316 1086.5M263.7 1098.3L290.4 1098.3M305.3 1103.6L305.3 1108.3M307.7 1111.4L307.7 1114.5M307.7 1111.4L316 1111.4M307.7 1114.5L316 1114.5M303.4 1117.6L316 1117.6M314 1142.1L314 1145.1M283.3 1157.4L316 1157.4M293.3 1170.8L293.3 1179.8M296.3 1166.6L304.1 1166.6M304.1 1163L307.1 1163M274.8 1221.3L316 1221.3M277.8 1238.9L277.8 1262.8M288 1231.4L288 1246.3M306.3 1235.6L309.3 1235.6M294.4 1257.8L294.4 1267.7M302.2 1256.2L302.2 1259.4M306 1268.9L306 1273.7M287.8 1278.4L287.8 1288.2M312.1 1300.3L312.1 1303.4M299.7 1328.6L302.7 1328.6M302.7 1325.7L305.7 1325.7M308.7 1325.3L316 1325.3M311.3 1337.8L316 1337.8M314 1371.8L316 1371.8M310.3 1393.4L316 1393.4M309 1398.1L309 1402.8M309 1402.8L316 1402.8M302.9 1408.3L302.9 1419.3M311.9 1409.1L316 1409.1M300.7 1424.8L300.7 1427.9M300.4 1443L300.4 1451.6M300.4 1443L316 1443M300.4 1451.6L303.4 1451.6M306.4 1446L306.4 1450.5M303.8 1470.8L308.2 1470.8M303.8 1476L316 1476M274.3 1501.2L288 1501.2M308.1 1488.2L308.1 1491.4M302.5 1496.9L302.5 1504.1M277.3 1529.1L284.7 1529.1M300.9 1525.5L303.9 1525.5M308.5 1526.3L308.5 1529.5M284.7 1536.6L300.3 1536.6M274.6 1544.4L274.6 1560.1M311.6 1548.3L316 1548.3M302.3 1554.4L316 1554.4M299.4 1579L299.4 1583.6M276.3 1664.8L283.3 1664.8M286.3 1651.8L289.3 1651.8M292.3 1631L292.3 1656.6M292.3 1631L295.3 1631M304.3 1622.2L316 1622.2M310.3 1625.3L316 1625.3M314 1640.9L316 1640.9M308.8 1684.7L308.8 1687.9M308 1691L308 1694.1M311.5 1703.5L316 1703.5M298.1 1714.3L298.1 1728.5M301.3 1731.7L316 1731.7M301.3 1736.4L310.2 1736.4M302.5 1746.9L316 1746.9M283.6 1764.8L283.6 1779.7M283.6 1764.8L316 1764.8M314 1777.9L316 1777.9M304.6 1795.5L304.6 1802.5M308.2 1797.1L316 1797.1M304.3 1818.3L304.3 1821.3M308.9 1830.2L316 1830.2M311.9 1833.2L311.9 1836.1M308.3 1851.2L308.3 1854.2M308.3 1851.2L316 1851.2M296.7 1864.6L299.7 1864.6M305.7 1860.2L305.7 1864.7M308.7 1863.2L316 1863.2M311.4 1885.3L316 1885.3M305.5 1895L316 1895M295.8 1920.6L295.8 1929.2M301.8 1911.1L301.8 1919.2M304.8 1908.4L304.8 1913.8M307.8 1906L310.8 1906M307.8 1910.7L316 1910.7M304.8 1921.5L307.8 1921.5M284.7 1944.6L284.7 1953.4M284.7 1944.6L288.3 1944.6M300.9 1937.8L303.9 1937.8M303.9 1935.5L303.9 1940.1M300.9 1944.8L316 1944.8M302 1951.1L302 1955.7M253.7 1972.5L293.6 1972.5M293.6 1967.6L296.6 1967.6M309.3 1969.4L316 1969.4M308.8 1974L311.8 1974M308.2 1993.6L316 1993.6M278.3 2029.9L287.8 2029.9M287.8 2026.6L302.3 2026.6M308.3 2027L316 2027M304.2 2051.7L316 2051.7M307.2 2059.3L310.2 2059.3M304.2 2063.9L316 2063.9M304.2 2070.8L307.2 2070.8M310.2 2067L316 2067M298.2 2085L301.2 2085M312.2 2079.1L312.2 2082.2M307.9 2094.3L307.9 2097.3M288.8 2114.7L302.5 2114.7M302.5 2112.4L316 2112.4M307 2127.9L307 2132.9M246.5 2146.6L287.8 2146.6M306.9 2142.3L306.9 2145.7M303.5 2163.7L306.5 2163.7M307.5 2176.3L310.5 2176.3M307.5 2184.2L316 2184.2" stroke="#555" stroke-width="2.3" fill="none" stroke-linecap="square"/>
<path d="M191.8 1096.8L220.6 1096.8M232.1 1088.8L263.7 1088.8M255.7 1140L255.7 1171.7M200.4 1491.7L224 1491.7M258 1416.8L258 1448.5M242.2 1488.8L242.2 1612.5M263.7 1464.3L263.7 1508.9M218.3 1899.1L218.3 2019.4M306.1 1081.6L309.1 1081.6M306.9 1092.7L306.9 1097.4M309.9 1098.9L316 1098.9M290.4 1115.3L303.4 1115.3M303.2 1125.3L306.2 1125.3M297.7 1131.4L310.2 1131.4M310.1 1163.8L316 1163.8M277.8 1195.2L286.9 1195.2M301.2 1189.4L301.2 1192.6M304.4 1200.6L304.4 1205.3M298.9 1208.5L316 1208.5M304.9 1211.7L304.9 1214.9M305.7 1227.6L316 1227.6M306.3 1230.8L316 1230.8M307.6 1249.9L307.6 1253M303.7 1265.7L316 1265.7M309 1272.1L309 1275.2M279.7 1283.3L279.7 1311.8M299.3 1283.1L299.3 1287.8M292.1 1290.9L316 1290.9M296.9 1303.8L296.9 1314.3M309.1 1297.1L316 1297.1M305.3 1312.8L305.3 1315.9M302.7 1325.7L302.7 1331.5M305.7 1322.9L305.7 1328.4M308.3 1339.3L311.3 1339.3M290.6 1344L316 1344M306 1349.4L306 1356.3M308.1 1365.6L308.1 1371M270.4 1416.8L276 1416.8M299.9 1413.8L302.9 1413.8M311.9 1409.1L311.9 1412.2M310 1415.4L310 1418.5M297.4 1447.3L300.4 1447.3M309.4 1449L309.4 1452M300.5 1457.9L316 1457.9M300.5 1462.4L306.8 1462.4M306.8 1464L316 1464M307.8 1480.6L310.8 1480.6M310.8 1479.1L310.8 1482.1M263.7 1508.9L274.3 1508.9M288 1495.1L288 1507.2M299.5 1489.8L299.5 1500.5M308.1 1488.2L316 1488.2M308.1 1491.4L316 1491.4M277.3 1510.4L277.3 1529.1M303.9 1515.2L306.9 1515.2M300.3 1534.2L309.4 1534.2M300.5 1598.7L303.5 1598.7M303.5 1593.9L306.5 1593.9M309.5 1591.3L316 1591.3M312.5 1594.3L312.5 1597.4M306.4 1615.9L306.4 1619M306.4 1615.9L316 1615.9M314 1631.6L316 1631.6M313.3 1639.4L314 1639.4M314 1642.5L314 1642.5M307.3 1647.2L316 1647.2M282.7 1689.4L305 1689.4M295.1 1700L298.1 1700M310.3 1716L316 1716M313.3 1722.3L316 1722.3M310.3 1725.4L316 1725.4M310.2 1737.9L316 1737.9M263.7 1746.6L299.5 1746.6M305.5 1753.6L305.5 1760.2M305.5 1753.6L308.5 1753.6M309.5 1758.7L309.5 1761.7M309.5 1758.7L316 1758.7M309.5 1761.7L316 1761.7M263.7 1779.7L283.6 1779.7M305.2 1774.6L316 1774.6M311.2 1779.5L311.2 1784.4M301.6 1790.9L316 1790.9M301.6 1799L304.6 1799M307.6 1804.8L310.6 1804.8M310.6 1803.2L310.6 1806.3M304.3 1821.3L316 1821.3M292.4 1831.5L295.4 1831.5M308.9 1830.2L308.9 1834.6M308.9 1834.6L311.9 1834.6M299.7 1859.8L299.7 1869.3M310.8 1907.6L316 1907.6M304.8 1916.9L316 1916.9M307.8 1923.1L316 1923.1M281.7 1932.4L281.7 1949M288.3 1941.3L288.3 1947.9M288.3 1941.3L300.9 1941.3M304.9 1960.4L304.9 1963.4M311.8 1972.4L311.8 1975.5M301.9 1984.5L301.9 1987.6M301.9 1984.5L316 1984.5M299.8 2006.4L302.8 2006.4M302.8 2011L305.8 2011M305.3 2020.8L305.3 2025.5M296.5 2048.7L316 2048.7M304.2 2057.1L307.2 2057.1M307.2 2054.8L316 2054.8M310.2 2057.8L310.2 2060.9M301.2 2067.3L304.2 2067.3M310.2 2067L310.2 2070M309.2 2080.7L312.2 2080.7M312.2 2079.1L316 2079.1M312.2 2082.2L316 2082.2M252.8 2112.1L275.4 2112.1M275.4 2093.6L275.4 2112.1M275.4 2093.6L301.5 2093.6M301.5 2091.3L301.5 2095.8M301.5 2091.3L316 2091.3M288.8 2103.8L296 2103.8M301 2125.9L304 2125.9M310 2125.8L310 2130.1M282.8 2159L282.8 2174.9M294.1 2183.8L304.5 2183.8M310.5 2173.2L313.5 2173.2M313.5 2171.6L313.5 2174.7M313.5 2171.6L316 2171.6" stroke="#111" stroke-width="2.3" fill="none" stroke-linecap="square"/>
<path d="M220.6 1072.9L220.6 1121.3M220.6 1121.3L232.1 1121.3M191.8 1386.6L200.4 1386.6M239.3 1217.7L239.3 1343.5M271.8 1197.6L271.8 1241.9M224 1433.5L224 1549.2M209.1 1752.4L239.3 1752.4M263.7 1746.6L263.7 1779.7M178.8 2036.7L193.2 2036.7M193.2 1959.6L218.3 1959.6M193.2 2115.5L215.4 2115.5M225.8 2157.6L246.5 2157.6M246.5 2146.6L246.5 2168.2M303.1 1073.6L303.1 1079.2M303.1 1073.6L316 1073.6M306.1 1076.8L316 1076.8M300.9 1092.3L300.9 1105.9M310.2 1132.9L316 1132.9M255.7 1171.7L283.3 1171.7M283.3 1157.4L283.3 1179.2M296.3 1166.6L296.3 1175M307.1 1160.6L307.1 1165.4M298.4 1195.8L316 1195.8M277.8 1212.1L298.9 1212.1M304.9 1211.7L316 1211.7M305.7 1224.5L305.7 1227.6M288 1246.3L296.3 1246.3M296.3 1243.5L296.3 1249.1M296.3 1249.1L304.6 1249.1M304.6 1246.7L304.6 1251.4M303.7 1262.6L303.7 1265.7M306 1268.9L316 1268.9M309 1272.1L316 1272.1M279.7 1283.3L287.8 1283.3M312.1 1300.3L316 1300.3M305.3 1312.8L316 1312.8M293.9 1332.8L299.7 1332.8M311.7 1319L311.7 1322.1M309 1347.1L316 1347.1M292.7 1373.9L295.7 1373.9M305.1 1362.5L316 1362.5M311.1 1368.7L311.1 1373.3M304.3 1378L304.3 1386.9M304.3 1378L316 1378M310.3 1388.8L310.3 1393.4M270.4 1416.8L270.4 1431.1M308.9 1410.7L311.9 1410.7M302.9 1435.6L302.9 1440.1M263.7 1464.3L286.1 1464.3M286.1 1460.2L300.5 1460.2M308.2 1468.5L308.2 1473M308.2 1468.5L311.2 1468.5M311.2 1467L311.2 1470M305.5 1494.6L316 1494.6M305.5 1499.3L308.5 1499.3M303.9 1515.2L303.9 1519.9M306.9 1513.6L306.9 1516.8M306.9 1516.8L316 1516.8M303.9 1523.1L303.9 1527.9M300.3 1534.2L300.3 1539M274.6 1544.4L308.6 1544.4M308.6 1542.1L308.6 1546.7M308.6 1546.7L311.6 1546.7M311.6 1545.2L316 1545.2M302.8 1557.5L302.8 1560.5M291.3 1581.3L299.4 1581.3M271.6 1602.7L300.5 1602.7M303.5 1593.9L303.5 1603.5M309.5 1595.9L312.5 1595.9M309.5 1600.5L316 1600.5M276.3 1650.2L276.3 1717M304.3 1638.6L307.3 1638.6M307.3 1630L307.3 1647.2M313.3 1630L313.3 1639.4M314 1636.3L314 1636.3M314 1637.8L316 1637.8M301.3 1650.3L316 1650.3M298.3 1653.5L316 1653.5M307.1 1666L307.1 1669.1M282.7 1710.7L295.1 1710.7M308.5 1700.4L316 1700.4M307.3 1714.5L307.3 1723.1M304.5 1741L316 1741M304.5 1743.9L316 1743.9M286.6 1768.1L286.6 1775.5M289.6 1771.3L316 1771.3M305.2 1784.9L308.2 1784.9M304.6 1802.5L307.6 1802.5M310.6 1803.2L316 1803.2M310.6 1806.3L316 1806.3M277.7 1815L296.1 1815M296.1 1812.4L316 1812.4M311.9 1836.1L316 1836.1M299.7 1843.6L302.7 1843.6M302.7 1842.1L302.7 1845.1M299.7 1850.4L305.3 1850.4M305.3 1852.7L308.3 1852.7M308.3 1854.2L316 1854.2M308.4 1883.7L308.4 1888.6M311.4 1882.1L311.4 1885.3M279.7 1901.4L316 1901.4M298.8 1915.1L301.8 1915.1M307.8 1920L316 1920M300.9 1937.8L300.9 1944.8M306.9 1938.6L306.9 1941.7M308.7 1957.3L316 1957.3M299.6 1978.9L305.8 1978.9M311.8 1972.4L316 1972.4M285.9 1992.1L285.9 2005.6M308.2 1990.6L308.2 1993.6M304.1 2036.3L304.1 2040.9M299.9 2045.6L316 2045.6M304.2 2063.9L304.2 2070.8M307.2 2068.5L310.2 2068.5M301.2 2081.8L306.2 2081.8M306.2 2078.4L306.2 2085.2M306.2 2085.2L316 2085.2M301.2 2088.3L316 2088.3M301.5 2095.8L307.9 2095.8M303.3 2103.4L316 2103.4M300.9 2138.9L300.9 2147.3M303.9 2144L303.9 2150.7M246.5 2168.2L282.8 2168.2M306.5 2162.1L306.5 2165.3M310.5 2173.2L310.5 2179.5M313.5 2181L316 2181M304.5 2187.3L316 2187.3" stroke="#1a1a1a" stroke-width="2.3" fill="none" stroke-linecap="square"/>
<path d="M220.6 1072.9L316 1072.9M263.7 1077.8L263.7 1098.3M239.3 1343.5L258.6 1343.5M242.2 1612.5L255.1 1612.5M209.1 1752.4L209.1 1811.4M239.3 1740.9L316 1740.9M193.2 1959.6L193.2 2115.5M239.3 1870.4L263.2 1870.4M215.4 2091.9L316 2091.9M305.3 1103.6L308.3 1103.6M305.3 1108.3L316 1108.3M303.4 1112.9L307.7 1112.9M303.2 1120.7L316 1120.7M306.2 1123.7L316 1123.7M297.7 1131.4L297.7 1142.5M310.2 1129.8L310.2 1132.9M300.7 1136L300.7 1149M306.7 1139L306.7 1148.6M306.7 1139L316 1139M306.7 1148.6L309.7 1148.6M312.7 1148.2L316 1148.2M293.3 1179.8L316 1179.8M290.3 1183L316 1183M274.8 1186.2L274.8 1203.7M274.8 1203.7L277.8 1203.7M277.8 1195.2L277.8 1212.1M298.4 1203L304.4 1203M307.4 1199L307.4 1202.2M307.4 1199L316 1199M307.4 1202.2L316 1202.2M298.9 1208.5L298.9 1215.7M304.9 1214.9L316 1214.9M274.8 1250.8L277.8 1250.8M303.3 1233.2L303.3 1240.3M309.3 1234L316 1234M303.3 1240.3L316 1240.3M302.2 1259.4L316 1259.4M294.4 1267.7L297.4 1267.7M287.8 1278.4L316 1278.4M282.7 1320.9L293.9 1320.9M310.3 1306.5L310.3 1309.6M296.9 1314.3L305.3 1314.3M311.7 1319L316 1319M311.3 1337.8L311.3 1340.9M311.3 1340.9L316 1340.9M312 1353.3L316 1353.3M295.7 1365.4L295.7 1382.4M311.1 1368.7L316 1368.7M307.3 1382.6L307.3 1391.1M310.3 1384.2L316 1384.2M309 1398.1L312 1398.1M302.9 1408.3L308.9 1408.3M308.9 1406L308.9 1410.7M310 1415.4L316 1415.4M297.4 1437.9L302.9 1437.9M303.4 1448.2L303.4 1454.9M300.5 1457.9L300.5 1462.4M303.8 1470.8L303.8 1476M311.2 1470L316 1470M310.8 1479.1L316 1479.1M288 1507.2L316 1507.2M303.9 1523.1L316 1523.1M300.3 1539L316 1539M258.1 1572.2L258.1 1609.7M258.1 1577.5L271.6 1577.5M280.6 1559L302.8 1559M309.6 1582L309.6 1585.1M309.6 1582L316 1582M300.5 1606.6L316 1606.6M283.3 1657.3L286.3 1657.3M303.4 1612.8L303.4 1617.5M314 1628.4L314 1631.6M314 1628.4L316 1628.4M314 1634.7L316 1634.7M314 1640.9L314 1644.1M307.1 1680.1L310.1 1680.1M276.3 1717L279.3 1717M295.1 1700L295.1 1721.4M298.1 1702.7L308.5 1702.7M308.5 1700.4L308.5 1705.1M311.5 1703.5L311.5 1706.6M310.3 1720.7L310.3 1725.4M310.2 1734.8L310.2 1737.9M308.5 1751.3L308.5 1755.8M311.5 1749.9L316 1749.9M314 1777.9L314 1781.2M314 1781.2L316 1781.2M237.3 1799L298.6 1799M301.6 1790.9L301.6 1799M295.4 1835.8L298.4 1835.8M311.9 1833.2L316 1833.2M302.7 1845.1L316 1845.1M305.7 1860.2L316 1860.2M305.7 1864.7L308.7 1864.7M309.7 1875.6L316 1875.6M304.8 1913.8L316 1913.8M295.8 1929.2L316 1929.2M288.3 1947.9L316 1947.9M305.8 1981.5L316 1981.5M285.9 1992.1L308.2 1992.1M299.8 2006.4L299.8 2017.8M310 2005.7L316 2005.7M302.3 2023.1L305.3 2023.1M287.8 2033.2L316 2033.2M296.5 2042.1L296.5 2048.7M298.2 2060.9L301.2 2060.9M310.2 2060.9L316 2060.9M301.2 2081.8L301.2 2088.3M310 2130.1L316 2130.1M287.8 2143.1L300.9 2143.1M300.9 2138.9L316 2138.9M306.9 2142.3L316 2142.3M303.9 2150.7L306.9 2150.7M306.9 2152.4L316 2152.4M313.5 2174.7L316 2174.7" stroke="#777" stroke-width="2.3" fill="none" stroke-linecap="square"/>
<path d="M232.1 1155.5L255.7 1155.5M239.3 1217.7L271.8 1217.7M224 1433.5L258 1433.5M242.2 1488.8L263.7 1488.8M209.1 1811.4L237.3 1811.4M218.3 1899.1L239.3 1899.1M253.7 1972.5L253.7 2005.6M247.9 2032.9L247.9 2067.5M290.4 1098.3L290.4 1115.3M303.9 1089.6L316 1089.6M303.9 1095.1L306.9 1095.1M306.2 1123.7L306.2 1126.8M303.7 1143.8L306.7 1143.8M309.7 1145.9L312.7 1145.9M312.7 1143.6L312.7 1148.2M312.7 1143.6L314 1143.6M314 1142.1L316 1142.1M314 1145.1L316 1145.1M283.3 1179.2L290.3 1179.2M298.9 1215.7L301.9 1215.7M301.9 1213.3L301.9 1218.1M271.8 1241.9L274.8 1241.9M288 1231.4L293 1231.4M296.3 1243.5L316 1243.5M292.1 1285.4L292.1 1290.9M293.9 1309.1L296.9 1309.1M306.1 1299.5L306.1 1308.1M310.3 1306.5L316 1306.5M310.3 1309.6L316 1309.6M308.7 1320.6L311.7 1320.6M309 1351.7L312 1351.7M295.7 1365.4L305.1 1365.4M314 1374.9L316 1374.9M295.7 1382.4L304.3 1382.4M313.3 1387.2L313.3 1390.3M299.9 1400.5L299.9 1413.8M312 1396.5L316 1396.5M308.9 1406L316 1406M308.4 1434.1L308.4 1437.1M302.9 1440.1L316 1440.1M303.4 1448.2L306.4 1448.2M306.8 1460.9L316 1460.9M308.2 1473L316 1473M307.8 1480.6L307.8 1485.1M288 1495.1L299.5 1495.1M308.5 1500.9L316 1500.9M303.9 1527.9L308.5 1527.9M309.4 1532.6L316 1532.6M311.6 1545.2L311.6 1548.3M302.3 1551.3L302.3 1554.4M280.6 1559L280.6 1575.7M309.4 1563.6L309.4 1568.2M309.4 1568.2L312.4 1568.2M312.4 1566.7L316 1566.7M312.4 1569.8L316 1569.8M309.4 1572.8L316 1572.8M299.4 1583.6L309.6 1583.6M309.6 1585.1L316 1585.1M306.5 1589.7L309.5 1589.7M309.5 1595.9L309.5 1600.5M312.5 1594.3L316 1594.3M312.5 1597.4L316 1597.4M289.3 1643.8L292.3 1643.8M298.3 1640.4L298.3 1653.5M292.3 1656.6L316 1656.6M304.1 1667.5L307.1 1667.5M310.1 1678.5L316 1678.5M279.3 1700.1L279.3 1734M305 1686.3L305 1692.6M310.3 1712.9L310.3 1716M298.1 1728.5L316 1728.5M299.5 1742.5L299.5 1751.9M308.5 1755.8L316 1755.8M289.6 1771.3L289.6 1779.7M305.2 1774.6L305.2 1784.9M304.6 1795.5L308.2 1795.5M308.2 1794L316 1794M296.1 1817.6L300 1817.6M263.2 1858.3L296.7 1858.3M296.7 1847L296.7 1864.6M302.7 1857.2L302.7 1862.5M308.7 1866.3L316 1866.3M263.2 1883.3L295 1883.3M306.7 1877.3L309.7 1877.3M298 1889L298 1896.6M305.4 1886.1L305.4 1891.8M311.4 1882.1L316 1882.1M260.9 1916.4L279.7 1916.4M301.8 1911.1L304.8 1911.1M306.9 1938.6L316 1938.6M284.7 1953.4L302 1953.4M302 1955.7L308.7 1955.7M296.6 1973.4L299.6 1973.4M301.9 1987.6L316 1987.6M285.9 2004.4L288.9 2004.4M307 2004.2L310 2004.2M247.9 2032.9L278.3 2032.9M299.9 2038.6L299.9 2045.6M304.1 2040.9L307.1 2040.9M309.2 2076.1L309.2 2080.7M303.9 2144L306.9 2144M287.8 2155.7L316 2155.7M282.8 2159L316 2159M294.1 2166.1L294.1 2183.8M304.5 2180.2L307.5 2180.2" stroke="#2a2a2a" stroke-width="2.3" fill="none" stroke-linecap="square"/>
<path d="M173.1 1909.2L178.8 1909.2M239.3 1740.9L239.3 1762.4M231.5 1988.9L253.7 1988.9M215.4 2091.9L215.4 2139.4M252.8 2112.1L252.8 2127.9M303.1 1079.2L306.1 1079.2M309.1 1080L309.1 1083.2M309.1 1083.2L316 1083.2M309.9 1095.8L309.9 1098.9M309.9 1095.8L316 1095.8M294.7 1123L294.7 1140M310.2 1129.8L316 1129.8M297.7 1142.5L300.7 1142.5M301.9 1213.3L304.9 1213.3M309.3 1237.2L316 1237.2M304.6 1246.7L316 1246.7M304.6 1251.4L307.6 1251.4M307.6 1253L316 1253M294.4 1257.8L302.2 1257.8M303.7 1262.6L316 1262.6M306 1273.7L309 1273.7M309 1275.2L316 1275.2M287.8 1288.2L292.1 1288.2M292.1 1285.4L299.3 1285.4M310.2 1284.6L316 1284.6M279.7 1307.5L282.7 1307.5M296.9 1303.8L306.1 1303.8M306.1 1308.1L310.3 1308.1M305.3 1315.9L316 1315.9M305.7 1322.9L308.7 1322.9M308.7 1320.6L308.7 1325.3M308.3 1334.6L308.3 1339.3M270.2 1348.4L270.2 1373.1M270.2 1348.4L290.6 1348.4M309 1347.1L309 1351.7M312 1350.2L316 1350.2M306 1356.3L316 1356.3M305.1 1362.5L305.1 1368.3M308.1 1365.6L316 1365.6M314 1371.8L314 1374.9M307.3 1382.6L310.3 1382.6M307.3 1391.1L310.3 1391.1M258 1416.8L270.4 1416.8M276 1407.1L276 1426.4M299.9 1400.5L309 1400.5M305.9 1417L305.9 1421.7M300.7 1427.9L316 1427.9M270.4 1431.1L316 1431.1M308.4 1437.1L316 1437.1M306.4 1446L316 1446M309.4 1452L316 1452M286.1 1478.1L300.8 1478.1M300.8 1473.4L303.8 1473.4M311.2 1467L316 1467M300.8 1482.8L307.8 1482.8M310.8 1482.1L316 1482.1M277.3 1510.4L316 1510.4M306.9 1513.6L316 1513.6M308.5 1529.5L316 1529.5M308.6 1542.1L316 1542.1M302.8 1557.5L316 1557.5M302.8 1560.5L316 1560.5M280.6 1575.7L291.3 1575.7M291.3 1570.1L291.3 1581.3M306.4 1565.9L306.4 1574.4M306.4 1565.9L309.4 1565.9M309.4 1572.8L309.4 1575.9M299.4 1579L316 1579M306.5 1598.2L309.5 1598.2M286.3 1651.8L286.3 1662.8M289.3 1643.8L289.3 1659.7M283.3 1672.2L304.1 1672.2M307.1 1669.1L316 1669.1M307.1 1673.8L310.1 1673.8M310.1 1675.4L316 1675.4M310.1 1681.6L316 1681.6M308.8 1687.9L316 1687.9M308 1694.1L316 1694.1M308.5 1705.1L311.5 1705.1M295.1 1721.4L298.1 1721.4M307.3 1723.1L310.3 1723.1M310.3 1720.7L313.3 1720.7M313.3 1719.2L313.3 1722.3M301.3 1731.7L301.3 1736.4M302.5 1746.9L302.5 1756.9M302.5 1756.9L305.5 1756.9M289.6 1779.7L305.2 1779.7M308.2 1782L311.2 1782M311.2 1779.5L314 1779.5M311.2 1784.4L316 1784.4M308.2 1787.7L316 1787.7M308.2 1794L308.2 1797.1M237.3 1822.9L277.7 1822.9M300 1815.4L300 1819.8M304.3 1818.3L316 1818.3M292.4 1824.3L292.4 1831.5M292.4 1824.3L316 1824.3M298.4 1832.4L308.9 1832.4M302.7 1857.2L316 1857.2M302.7 1862.5L305.7 1862.5M295 1874.8L295 1892.8M295 1874.8L306.7 1874.8M305.4 1886.1L308.4 1886.1M298 1896.6L305.5 1896.6M305.5 1895L305.5 1898.2M305.5 1898.2L316 1898.2M298.8 1915.1L298.8 1926.2M307.8 1906L307.8 1910.7M298.8 1926.2L316 1926.2M281.7 1932.4L316 1932.4M281.7 1949L284.7 1949M303.9 1940.1L306.9 1940.1M306.9 1941.7L316 1941.7M293.6 1967.6L293.6 1986M304.9 1960.4L316 1960.4M299.6 1967.9L299.6 1978.9M308.8 1974L308.8 1978.5M308.2 1990.6L316 1990.6M308.8 2011.7L316 2011.7M278.3 2029.9L278.3 2045.4M302.3 2023.1L302.3 2030.1M305.3 2020.8L316 2020.8M305.3 2025.5L308.3 2025.5M278.3 2045.4L296.5 2045.4M307.1 2039.4L316 2039.4M298.2 2060.9L298.2 2085M301.2 2054.4L301.2 2067.3M301.2 2054.4L304.2 2054.4M307.9 2094.3L316 2094.3M307.9 2097.3L316 2097.3M305.5 2115.5L305.5 2118.5M305.5 2118.5L316 2118.5M301 2125.9L301 2135.8M304 2121.4L316 2121.4M304 2130.4L307 2130.4M310 2125.8L313 2125.8M313 2127.2L316 2127.2M306.9 2145.7L316 2145.7M294.1 2166.1L303.5 2166.1M303.5 2163.7L303.5 2168.4M303.5 2168.4L316 2168.4" stroke="#333" stroke-width="2.3" fill="none" stroke-linecap="square"/>
<path d="M239.3 1870.4L239.3 1931.4M260.9 1916.4L260.9 1945.2M218.3 2019.4L231.5 2019.4M215.4 2139.4L225.8 2139.4M225.8 2120.1L252.8 2120.1M300.1 1076.4L300.1 1086.5M300.1 1076.4L303.1 1076.4M306.1 1076.8L306.1 1081.6M309.1 1080L316 1080M306.9 1092.7L316 1092.7M303.4 1112.9L303.4 1117.6M294.7 1123L303.2 1123M309.7 1151.2L316 1151.2M290.3 1175.3L290.3 1183M304.1 1163L304.1 1170.2M304.1 1170.2L316 1170.2M303.8 1173.4L303.8 1176.6M286.9 1191L286.9 1199.4M298.4 1195.8L298.4 1203M304.4 1205.3L316 1205.3M301.9 1218.1L316 1218.1M303.3 1233.2L306.3 1233.2M306.3 1230.8L306.3 1235.6M297.4 1264.1L297.4 1271.3M299.3 1283.1L310.2 1283.1M299.3 1287.8L316 1287.8M312.1 1303.4L316 1303.4M302.7 1331.5L316 1331.5M290.6 1352.9L306 1352.9M306 1349.4L309 1349.4M312 1350.2L312 1353.3M270.2 1366.7L292.7 1366.7M292.7 1359.4L292.7 1373.9M292.7 1359.4L316 1359.4M305.1 1368.3L308.1 1368.3M308.1 1371L311.1 1371M311.1 1373.3L314 1373.3M313.3 1387.2L316 1387.2M313.3 1390.3L316 1390.3M311.9 1412.2L316 1412.2M305.9 1417L310 1417M276 1426.4L300.7 1426.4M309.4 1449L316 1449M286.1 1460.2L286.1 1478.1M307.8 1485.1L316 1485.1M302.5 1496.9L305.5 1496.9M274.3 1519.7L277.3 1519.7M300.9 1517.6L300.9 1525.5M309.4 1532.6L309.4 1535.8M255.1 1572.2L258.1 1572.2M274.6 1560.1L277.6 1560.1M277.6 1552.9L277.6 1567.4M277.6 1567.4L280.6 1567.4M309.4 1563.6L316 1563.6M300.5 1598.7L300.5 1606.6M306.5 1589.7L306.5 1598.2M309.5 1588.2L309.5 1591.3M283.3 1657.3L283.3 1672.2M295.3 1615.1L303.4 1615.1M303.4 1612.8L316 1612.8M306.4 1619L316 1619M295.3 1646.9L298.3 1646.9M298.3 1640.4L301.3 1640.4M301.3 1630.4L301.3 1650.3M304.3 1622.2L304.3 1638.6M313.3 1630L314 1630M286.3 1662.8L316 1662.8M310.1 1672.2L310.1 1675.4M310.1 1678.5L310.1 1681.6M298.1 1697.3L316 1697.3M307.3 1714.5L310.3 1714.5M304.5 1741L304.5 1743.9M311.5 1749.9L311.5 1752.8M311.5 1752.8L316 1752.8M283.6 1771.8L286.6 1771.8M286.6 1768.1L316 1768.1M298.6 1794.9L298.6 1809.4M298.6 1794.9L301.6 1794.9M277.7 1815L277.7 1827.9M298.4 1832.4L298.4 1839.1M296.7 1847L299.7 1847M302.7 1842.1L316 1842.1M299.7 1869.3L316 1869.3M279.7 1924.9L295.8 1924.9M310.8 1904.5L310.8 1907.6M310.8 1904.5L316 1904.5M307.8 1920L307.8 1923.1M302 1951.1L316 1951.1M296.6 1961.9L304.9 1961.9M309.3 1966.4L309.3 1969.4M309.3 1966.4L316 1966.4M253.7 2005.6L285.9 2005.6M288.9 1996.6L316 1996.6M288.9 2012.1L299.8 2012.1M302.8 2001.9L302.8 2011M302.8 2001.9L307 2001.9M307 1999.6L316 1999.6M310 2002.7L310 2005.7M305.8 2013.2L308.8 2013.2M308.8 2011.7L308.8 2014.7M308.8 2014.7L316 2014.7M308.3 2023.9L316 2023.9M299.9 2038.6L304.1 2038.6M310.2 2057.8L316 2057.8M307.2 2068.5L307.2 2073M307.2 2073L316 2073M306.2 2078.4L309.2 2078.4M288.8 2103.8L288.8 2114.7M296 2107.2L299 2107.2M299 2104.9L299 2109.4M302.5 2112.4L302.5 2117M302.5 2117L305.5 2117M252.8 2127.9L301 2127.9M307 2132.9L316 2132.9M287.8 2143.1L287.8 2155.7M306.9 2149L316 2149M282.8 2174.9L294.1 2174.9M306.5 2162.1L316 2162.1M313.5 2177.9L313.5 2181M313.5 2177.9L316 2177.9" stroke="#666" stroke-width="2.3" fill="none" stroke-linecap="square"/>
<text x="1088.5" y="940.5" font-family='"Liberation Serif", "Times New Roman", Times, serif' font-size="41" text-anchor="start" fill="#000">D</text>
<rect x="1318.9" y="1072" width="93.8" height="1116.9" fill="url(#d0)"/>
<rect x="1412.2" y="1072" width="93.8" height="1116.9" fill="url(#d1)"/>
<rect x="1505.4" y="1072" width="93.8" height="1116.9" fill="url(#d2)"/>
<rect x="1598.7" y="1072" width="93.8" height="1116.9" fill="url(#d3)"/>
<rect x="1691.9" y="1072" width="93.8" height="1116.9" fill="url(#d4)"/>
<rect x="1785.2" y="1072" width="94.8" height="1116.9" fill="url(#d5)"/>
<rect x="1876.9" y="1072" width="3" height="1116.9" fill="#fff" fill-opacity=".6"/>
<rect x="1890" y="1072" width="30" height="411" fill="url(#cbd)"/>
<rect x="1890" y="1072" width="3" height="411" fill="#fff" fill-opacity=".6"/>
<rect x="1917" y="1072" width="3" height="411" fill="#fff" fill-opacity=".3"/>
<text x="1930.5" y="1085" font-family='"Liberation Sans", Arial, Helvetica, sans-serif' font-size="28" fill="#111" stroke="#111" stroke-width=".3">2</text>
<text x="1930.5" y="1185.6" font-family='"Liberation Sans", Arial, Helvetica, sans-serif' font-size="28" fill="#111" stroke="#111" stroke-width=".3">1</text>
<text x="1930.5" y="1286.2" font-family='"Liberation Sans", Arial, Helvetica, sans-serif' font-size="28" fill="#111" stroke="#111" stroke-width=".3">0</text>
<text x="1930.5" y="1386.9" font-family='"Liberation Sans", Arial, Helvetica, sans-serif' font-size="28" fill="#111" stroke="#111" stroke-width=".3">−1</text>
<text x="1930.5" y="1487.5" font-family='"Liberation Sans", Arial, Helvetica, sans-serif' font-size="28" fill="#111" stroke="#111" stroke-width=".3">−2</text>
<path d="M1435.5 988.7V928.4H1715.2V955" stroke="#333" stroke-width="2.2" fill="none" stroke-linecap="square"/>
<path d="M1365.5 1072V988.7H1505.4V997.5" stroke="#444" stroke-width="2.2" fill="none" stroke-linecap="square"/>
<path d="M1458.8 1072V997.5H1552V1072" stroke="#555" stroke-width="2.2" fill="none" stroke-linecap="square"/>
<path d="M1645.3 1072V955H1785.2V968.7" stroke="#444" stroke-width="2.2" fill="none" stroke-linecap="square"/>
<path d="M1738.5 1072V968.7H1831.8V1072" stroke="#333" stroke-width="2.2" fill="none" stroke-linecap="square"/>
<text transform="translate(1356.3 2197) rotate(90)" font-family='"Liberation Sans", Arial, Helvetica, sans-serif' font-size="27" fill="#111" stroke="#111" stroke-width=".3">LW82</text>
<text transform="translate(1449.6 2197) rotate(90)" font-family='"Liberation Sans", Arial, Helvetica, sans-serif' font-size="27" fill="#111" stroke="#111" stroke-width=".3">LW88</text>
<text transform="translate(1542.8 2197) rotate(90)" font-family='"Liberation Sans", Arial, Helvetica, sans-serif' font-size="27" fill="#111" stroke="#111" stroke-width=".3">LW90</text>
<text transform="translate(1636.1 2197) rotate(90)" font-family='"Liberation Sans", Arial, Helvetica, sans-serif' font-size="27" fill="#111" stroke="#111" stroke-width=".3">LW119</text>
<text transform="translate(1729.3 2197) rotate(90)" font-family='"Liberation Sans", Arial, Helvetica, sans-serif' font-size="27" fill="#111" stroke="#111" stroke-width=".3">LW63</text>
<text transform="translate(1822.6 2197) rotate(90)" font-family='"Liberation Sans", Arial, Helvetica, sans-serif' font-size="27" fill="#111" stroke="#111" stroke-width=".3">LW70</text>
<path d="M1203.1 1196.6L1203.1 1648.8M1290 1087.9L1290 1121M1299.4 1190.8L1299.4 1208.1M1259.2 1288.6L1259.2 1330.3M1203.1 1648.8L1226.7 1648.8M1226.7 1563.7L1226.7 1733.6M1269.8 1520.9L1290.8 1520.9M1253.4 1701.1L1285.1 1701.1M1285.1 1722.9L1295.7 1722.9M1283.1 1817L1283.1 1840.8M1259.2 1880.2L1301.5 1880.2M1272.1 2071.4L1272.1 2105.9M1239.9 2162.8L1258.3 2162.8M1258.3 2151.9L1258.3 2173.5M1316.9 1081.7L1316.9 1088.2M1308.2 1121.8L1308.2 1130.4M1316.9 1118.9L1316.9 1124.6M1290.9 1140.5L1290.9 1153.4M1287.9 1167L1308.7 1167M1308.7 1162L1308.7 1173.2M1313.4 1189.2L1318.9 1189.2M1308.2 1212.4L1316.9 1212.4M1316.9 1255.2L1318.9 1255.2M1316.9 1298.3L1316.9 1306.6M1306.1 1361.4L1318.9 1361.4M1316.5 1370.8L1316.9 1370.8M1316.5 1380.1L1318.9 1380.1M1302.6 1402.2L1316.3 1402.2M1302.6 1414.8L1313.6 1414.8M1302.6 1430.6L1318.9 1430.6M1313.6 1446.3L1316.6 1446.3M1299.8 1462.1L1299.8 1478.7M1293.8 1515.9L1299.5 1515.9M1299.5 1512.7L1299.5 1519M1299.5 1512.7L1318.9 1512.7M1302.4 1659.3L1302.4 1675.8M1311.2 1693L1318.9 1693M1304.9 1733.3L1307.9 1733.3M1307.9 1730.7L1318.9 1730.7M1282.2 1749.4L1313.6 1749.4M1313.6 1741.4L1318.9 1741.4M1316.7 1747L1316.7 1755.3M1292.3 1794L1308.2 1794M1308.2 1794.7L1315.4 1794.7M1297.6 1836.8L1297.6 1851.1M1309.7 1877.2L1318.9 1877.2M1305 1917L1318.9 1917M1315 1935.1L1315 1941.2M1316.5 1953.5L1318.9 1953.5M1305.3 2011.3L1305.3 2020.4M1305.3 2020.4L1316.9 2020.4M1316.9 2017.4L1318.9 2017.4M1312.8 2042.5L1312.8 2052.7M1316.9 2035.3L1316.9 2041.1M1316.9 2035.3L1318.9 2035.3M1298.8 2058.9L1298.8 2075.4M1308.2 2085.4L1318.9 2085.4M1311.8 2098.7L1318.9 2098.7M1308.3 2118.8L1318.9 2118.8" stroke="#8a8a8a" stroke-width="2.2" fill="none" stroke-linecap="square"/>
<path d="M1203.1 1196.6L1231.9 1196.6M1251.4 1220.4L1275 1220.4M1275 1200L1275 1241.7M1286.5 1229.6L1286.5 1252.1M1226.7 1733.6L1253.4 1733.6M1299.4 1661.7L1299.4 1696.2M1282.2 1749.4L1282.2 1783.9M1203.1 1870.7L1240.5 1870.7M1290 1087.9L1293 1087.9M1311 1107.3L1318.9 1107.3M1308.2 1121.8L1316.9 1121.8M1316.9 1147.7L1318.9 1147.7M1316.9 1209.2L1316.9 1215.6M1316.9 1209.2L1318.9 1209.2M1316.9 1227.1L1316.9 1232.6M1314.4 1243.7L1314.4 1256.7M1316.9 1249.5L1318.9 1249.5M1302.3 1275.6L1305.3 1275.6M1316.9 1295.5L1316.9 1301.1M1316.9 1295.5L1318.9 1295.5M1316.9 1316.4L1316.9 1326.8M1316.9 1316.4L1316.9 1316.4M1316.6 1341.5L1316.6 1352.7M1316.6 1341.5L1316.9 1341.5M1316.9 1338.7L1318.9 1338.7M1316.9 1344.3L1318.9 1344.3M1316.5 1370.8L1316.5 1380.1M1316.3 1399L1318.9 1399M1313.6 1418L1318.9 1418M1296.6 1439.5L1299.6 1439.5M1302.8 1471.6L1305.8 1471.6M1305.8 1468.4L1318.9 1468.4M1316.9 1500.1L1316.9 1506.4M1316.9 1500.1L1318.9 1500.1M1290.8 1566L1293.8 1566M1315 1538.2L1318.9 1538.2M1303.9 1624.8L1306.9 1624.8M1316.6 1669.5L1318.9 1669.5M1302.4 1697.2L1311.2 1697.2M1316.1 1698.6L1316.1 1704.2M1316.9 1752.5L1316.9 1758.1M1315.4 1789.8L1315.4 1799.6M1311.7 1838.4L1311.7 1844.8M1312.7 1857.6L1318.9 1857.6M1301.5 1893.1L1304.5 1893.1M1307.5 1898.9L1310.5 1898.9M1275.6 1934.8L1305 1934.8M1315 1941.2L1318.9 1941.2M1316.9 1985L1316.9 1995.3M1316.9 2041.1L1318.9 2041.1M1272.1 2071.4L1298.8 2071.4M1305.3 2115.5L1305.3 2125.6M1305.3 2115.5L1308.3 2115.5M1308.3 2112.1L1308.3 2118.8M1303.2 2155.9L1309.8 2155.9" stroke="#111" stroke-width="2.2" fill="none" stroke-linecap="square"/>
<path d="M1231.9 1129L1231.9 1264.7M1264.9 1104.6L1264.9 1155.5M1264.9 1155.5L1287.9 1155.5M1275 1200L1299.4 1200M1290.8 1593.4L1290.8 1620.7M1275.6 1934.8L1275.6 1953.5M1239.9 2090.1L1239.9 2162.8M1245.7 1979.4L1245.7 2026M1245.7 1979.4L1275.6 1979.4M1176.7 1967.3L1203.1 1967.3M1315.3 1075.2L1315.3 1089.8M1316.9 1081.7L1318.9 1081.7M1299.6 1110.2L1299.6 1126.1M1316.9 1141.9L1318.9 1141.9M1316.3 1164.8L1318.9 1164.8M1308.7 1173.2L1311.7 1173.2M1299.4 1190.8L1307.6 1190.8M1299.4 1208.1L1308.2 1208.1M1286.5 1229.6L1291 1229.6M1316.9 1221.6L1316.9 1229.9M1316.9 1227.1L1318.9 1227.1M1286.5 1252.1L1314.4 1252.1M1314.5 1266.8L1318.9 1266.8M1316.9 1272.6L1316.9 1278.4M1302.3 1298.6L1305.3 1298.6M1316.9 1301.1L1318.9 1301.1M1316.9 1312.9L1316.9 1319.8M1316.9 1312.9L1318.9 1312.9M1297.8 1368.4L1306.1 1368.4M1306.1 1361.4L1306.1 1375.5M1306.1 1375.5L1316.5 1375.5M1316.9 1367.7L1316.9 1373.9M1297.8 1386.4L1318.9 1386.4M1316.6 1443.2L1318.9 1443.2M1312.5 1487.4L1312.5 1493.7M1312.5 1493.7L1318.9 1493.7M1293.8 1525.4L1318.9 1525.4M1316.9 1544.6L1316.9 1554.1M1305.8 1570.1L1318.9 1570.1M1303.9 1609.9L1318.9 1609.9M1316.9 1615.6L1316.9 1621.2M1312.9 1638.3L1318.9 1638.3M1299.4 1696.2L1302.4 1696.2M1302.4 1684.5L1302.4 1697.2M1309.3 1681.7L1318.9 1681.7M1314.1 1709.6L1314.1 1717.8M1304.9 1725.4L1304.9 1733.3M1304.9 1725.4L1318.9 1725.4M1307.9 1730.7L1307.9 1736M1313.6 1741.4L1313.6 1751.1M1316.9 1758.1L1318.9 1758.1M1296.4 1770.6L1296.4 1780.4M1308.2 1806.2L1318.9 1806.2M1304.3 1816L1304.3 1825.7M1307.3 1812.7L1318.9 1812.7M1308.1 1832.1L1318.9 1832.1M1308.1 1841.6L1311.7 1841.6M1311.7 1838.4L1318.9 1838.4M1312.7 1857.6L1312.7 1867.4M1304.5 1891.4L1307.5 1891.4M1316.9 1972.2L1318.9 1972.2M1316.9 1995.3L1316.9 1995.3M1316.9 1991.8L1316.9 1998.7M1302.3 2005.2L1302.3 2015.9M1302.3 2015.9L1305.3 2015.9M1292.4 2029.5L1292.4 2047.6M1315.8 2046.9L1318.9 2046.9M1272.1 2105.9L1278.3 2105.9M1292.5 2092L1318.9 2092M1308.3 2112.1L1318.9 2112.1M1303.2 2137.4L1306.2 2137.4M1306.2 2132.3L1306.2 2142.4M1309.8 2152.6L1318.9 2152.6M1316.9 2166L1316.9 2180.7M1316.9 2172.5L1316.9 2179.1M1316.9 2179.1L1318.9 2179.1" stroke="#555" stroke-width="2.2" fill="none" stroke-linecap="square"/>
<path d="M1231.9 1129L1264.9 1129M1275 1241.7L1286.5 1241.7M1269.8 1520.9L1269.8 1606.3M1295.7 1717.8L1295.7 1727.8M1282.2 1783.9L1292.3 1783.9M1203.1 1398.7L1283.1 1398.7M1296.6 1402.7L1296.6 1439.5M1301.5 1867.8L1301.5 1893.1M1275.6 1972.2L1275.6 1990.9M1245.7 2026L1264.9 2026M1176.7 1360.5L1176.7 1967.3M1316.9 1088.2L1318.9 1088.2M1316.9 1094.7L1318.9 1094.7M1316.9 1136.2L1316.9 1144.8M1316.9 1136.2L1318.9 1136.2M1290.9 1153.4L1318.9 1153.4M1308.2 1202.7L1308.2 1212.4M1308.2 1202.7L1318.9 1202.7M1316.9 1261L1318.9 1261M1316.9 1272.6L1318.9 1272.6M1305.3 1284.2L1318.9 1284.2M1316.9 1298.3L1316.9 1298.3M1316.9 1349.9L1316.9 1355.5M1316.9 1355.5L1318.9 1355.5M1296.6 1402.7L1299.6 1402.7M1302.6 1402.2L1302.6 1414.8M1302.6 1430.6L1302.6 1448.7M1302.6 1448.7L1305.6 1448.7M1293.8 1478.3L1293.8 1515.9M1305.8 1468.4L1305.8 1474.7M1296.8 1503.2L1316.9 1503.2M1305.8 1535L1305.8 1549.3M1305.8 1549.3L1316.9 1549.3M1314.7 1583.1L1318.9 1583.1M1306.9 1596.8L1318.9 1596.8M1306.9 1603.6L1318.9 1603.6M1316.9 1621.2L1318.9 1621.2M1309.9 1626.9L1309.9 1635.5M1309.9 1626.9L1318.9 1626.9M1305.4 1652.2L1308.4 1652.2M1311.4 1644.3L1318.9 1644.3M1316.1 1698.6L1318.9 1698.6M1295.7 1717.8L1314.1 1717.8M1316.7 1755.3L1316.9 1755.3M1296.4 1780.4L1318.9 1780.4M1304.3 1825.7L1318.9 1825.7M1312.7 1867.4L1315.7 1867.4M1315.7 1870.7L1318.9 1870.7M1307.5 1883.8L1307.5 1898.9M1310.5 1893.9L1310.5 1903.9M1310.5 1893.9L1313.5 1893.9M1313.5 1897.2L1318.9 1897.2M1312 1926.1L1315 1926.1M1310.3 1950.4L1316.5 1950.4M1316.5 1947.3L1318.9 1947.3M1316.9 1966L1316.9 1975.3M1316.9 1975.3L1316.9 1975.3M1312.8 2052.7L1318.9 2052.7M1298.8 2058.9L1318.9 2058.9M1305.2 2068.8L1308.2 2068.8M1308.2 2072.1L1318.9 2072.1M1308.2 2078.7L1318.9 2078.7M1278.3 2097L1292.5 2097M1258.3 2151.9L1303.2 2151.9M1306.2 2132.3L1318.9 2132.3M1316.9 2180.7L1316.9 2180.7" stroke="#666" stroke-width="2.2" fill="none" stroke-linecap="square"/>
<path d="M1264.9 1104.6L1290 1104.6M1251.4 1308.7L1259.2 1308.7M1302.3 1275.6L1302.3 1298.6M1283.6 1320.2L1283.6 1340.3M1285.1 1678.9L1299.4 1678.9M1203.1 2003.8L1245.7 2003.8M1264.9 2013.3L1264.9 2039.8M1293 1082.5L1293 1101.2M1315.3 1075.2L1318.9 1075.2M1290 1121L1299.6 1121M1287.9 1145.7L1290.9 1145.7M1316.9 1144.8L1316.9 1144.8M1311.7 1170.4L1311.7 1176.1M1316.9 1252.4L1316.9 1261M1316.9 1252.4L1316.9 1252.4M1305.3 1271.1L1314.5 1271.1M1316.9 1326.8L1318.9 1326.8M1292.1 1333.1L1318.9 1333.1M1316.3 1399L1316.3 1405.3M1305.6 1455.8L1318.9 1455.8M1299.8 1554.5L1302.8 1554.5M1305.8 1535L1315 1535M1316.9 1550.9L1318.9 1550.9M1303.9 1609.9L1303.9 1624.8M1306.9 1618.4L1316.9 1618.4M1316.9 1615.6L1318.9 1615.6M1306.9 1631.2L1309.9 1631.2M1308.4 1647.5L1308.4 1656.9M1311.4 1650.6L1318.9 1650.6M1311.2 1701.4L1316.1 1701.4M1313.3 1766.5L1313.3 1774.8M1307.3 1819.2L1318.9 1819.2M1311.7 1844.8L1318.9 1844.8M1301.5 1867.8L1309.7 1867.8M1315.7 1864.1L1318.9 1864.1M1310.5 1903.9L1318.9 1903.9M1305 1932.1L1312 1932.1M1315 1923L1318.9 1923M1312 1938.1L1315 1938.1M1275.6 1953.5L1310.3 1953.5M1316.9 1985L1318.9 1985M1305.3 2011.3L1318.9 2011.3M1264.9 2039.8L1292.4 2039.8M1298.8 2075.4L1305.2 2075.4M1305.2 2068.8L1305.2 2082M1305.2 2082L1308.2 2082M1308.2 2078.7L1308.2 2085.4M1303.2 2137.4L1303.2 2155.9M1311 2145.8L1318.9 2145.8M1309.8 2159.3L1318.9 2159.3M1258.3 2173.5L1316.9 2173.5" stroke="#333" stroke-width="2.2" fill="none" stroke-linecap="square"/>
<path d="M1287.9 1145.7L1287.9 1167M1290.8 1478.3L1290.8 1566M1269.8 1606.3L1290.8 1606.3M1253.4 1701.1L1253.4 1766.1M1240.5 1829.9L1283.1 1829.9M1203.1 2126.6L1239.9 2126.6M1176.7 1360.5L1203.1 1360.5M1315.3 1089.8L1316.9 1089.8M1316.9 1124.6L1318.9 1124.6M1307.6 1185.7L1313.4 1185.7M1291 1225.7L1316.9 1225.7M1316.9 1229.9L1316.9 1229.9M1314.4 1243.7L1318.9 1243.7M1314.5 1266.8L1314.5 1275.5M1314.5 1275.5L1316.9 1275.5M1316.9 1306.6L1318.9 1306.6M1292.1 1333.1L1292.1 1347.1M1297.8 1368.4L1297.8 1386.4M1299.6 1408.5L1302.6 1408.5M1316.3 1405.3L1318.9 1405.3M1313.6 1411.6L1313.6 1418M1299.6 1439.6L1302.6 1439.6M1313.6 1436.9L1318.9 1436.9M1316.6 1449.5L1318.9 1449.5M1296.8 1470.4L1296.8 1503.2M1305.8 1481.1L1305.8 1490.6M1293.8 1525.4L1293.8 1566M1316.9 1550.9L1316.9 1557.3M1316.9 1557.3L1318.9 1557.3M1299.8 1576.5L1318.9 1576.5M1293.8 1586.5L1314.7 1586.5M1314.7 1589.9L1318.9 1589.9M1290.8 1620.7L1303.9 1620.7M1299.4 1661.7L1302.4 1661.7M1305.4 1652.2L1305.4 1666.4M1302.4 1684.5L1309.3 1684.5M1316.9 1752.5L1318.9 1752.5M1296.4 1770.6L1313.3 1770.6M1313.3 1766.5L1316.3 1766.5M1316.9 1793L1318.9 1793M1283.1 1817L1304.3 1817M1304.5 1891.4L1304.5 1910.6M1307.5 1883.8L1318.9 1883.8M1315 1929.1L1318.9 1929.1M1310.3 1950.4L1310.3 1959.8M1275.6 1990.9L1316.9 1990.9M1316.9 1991.8L1318.9 1991.8M1316.9 2023.5L1318.9 2023.5M1292.4 2047.6L1312.8 2047.6M1315.8 2038.2L1316.9 2038.2M1308.2 2065.5L1308.2 2072.1M1308.2 2065.5L1318.9 2065.5M1278.3 2120.5L1305.3 2120.5M1316.9 2175.8L1316.9 2175.8" stroke="#2a2a2a" stroke-width="2.2" fill="none" stroke-linecap="square"/>
<path d="M1231.9 1264.7L1251.4 1264.7M1259.2 1288.6L1302.3 1288.6M1253.4 1766.1L1282.2 1766.1M1292.3 1772.4L1292.3 1794M1283.1 1376.3L1283.1 1420.8M1203.1 1870.7L1203.1 2126.6M1259.2 1944.9L1275.6 1944.9M1316.9 1085L1316.9 1085M1293 1101.2L1318.9 1101.2M1299.6 1110.2L1311 1110.2M1316.3 1159.1L1318.9 1159.1M1311.7 1170.4L1318.9 1170.4M1313.4 1182.3L1313.4 1189.2M1316.9 1215.6L1318.9 1215.6M1283.1 1376.3L1297.8 1376.3M1316.9 1367.7L1318.9 1367.7M1316.9 1373.9L1318.9 1373.9M1299.6 1392.7L1318.9 1392.7M1313.6 1411.6L1318.9 1411.6M1299.6 1424.3L1299.6 1439.6M1305.6 1441.6L1313.6 1441.6M1305.8 1474.7L1318.9 1474.7M1305.8 1490.6L1312.5 1490.6M1312.5 1487.4L1318.9 1487.4M1316.9 1506.4L1318.9 1506.4M1299.5 1519L1318.9 1519M1302.8 1542.2L1302.8 1566.9M1314.7 1583.1L1314.7 1589.9M1293.8 1600.2L1306.9 1600.2M1306.9 1618.4L1306.9 1631.2M1302.4 1675.8L1318.9 1675.8M1311.2 1693L1311.2 1701.4M1316.1 1704.2L1318.9 1704.2M1314.1 1717.5L1316.9 1717.5M1316.9 1714.9L1318.9 1714.9M1307.9 1736L1318.9 1736M1316.7 1747L1318.9 1747M1316.3 1763.7L1316.3 1769.2M1308.2 1794L1308.2 1806.2M1316.9 1786.5L1318.9 1786.5M1315.4 1799.6L1318.9 1799.6M1309.7 1862.5L1312.7 1862.5M1312 1926.1L1312 1938.1M1315 1935.1L1318.9 1935.1M1310.3 1959.8L1318.9 1959.8M1275.6 1972.2L1316.9 1972.2M1316.9 1998.7L1318.9 1998.7M1264.9 2013.3L1302.3 2013.3M1292.4 2029.5L1318.9 2029.5M1292.5 2092L1292.5 2102.1M1311.8 2105.4L1318.9 2105.4M1311 2139L1318.9 2139" stroke="#1a1a1a" stroke-width="2.2" fill="none" stroke-linecap="square"/>
<path d="M1251.4 1220.4L1251.4 1308.7M1259.2 1330.3L1283.6 1330.3M1226.7 1563.7L1269.8 1563.7M1240.5 1829.9L1240.5 1910.4M1240.5 1910.4L1259.2 1910.4M1259.2 1880.2L1259.2 1944.9M1239.9 2090.1L1272.1 2090.1M1293 1082.5L1315.3 1082.5M1316.9 1085L1316.9 1094.7M1299.6 1126.1L1308.2 1126.1M1290.9 1140.5L1316.9 1140.5M1316.9 1141.9L1316.9 1147.7M1307.6 1185.7L1307.6 1196M1307.6 1196L1318.9 1196M1316.9 1221.6L1318.9 1221.6M1316.9 1232.6L1318.9 1232.6M1314.4 1256.7L1316.9 1256.7M1316.9 1249.5L1316.9 1255.2M1305.3 1271.1L1305.3 1284.2M1305.3 1289.9L1305.3 1302.5M1305.3 1289.9L1318.9 1289.9M1305.3 1302.5L1316.9 1302.5M1292.1 1347.1L1316.6 1347.1M1316.9 1338.7L1316.9 1344.3M1316.9 1349.9L1318.9 1349.9M1299.6 1392.7L1299.6 1408.5M1293.8 1486.8L1296.8 1486.8M1296.8 1470.4L1299.8 1470.4M1299.8 1478.7L1302.8 1478.7M1302.8 1485.8L1305.8 1485.8M1305.8 1481.1L1318.9 1481.1M1293.8 1565.5L1299.8 1565.5M1299.8 1554.5L1299.8 1576.5M1315 1531.8L1318.9 1531.8M1302.8 1566.9L1305.8 1566.9M1305.8 1563.7L1318.9 1563.7M1290.8 1593.4L1293.8 1593.4M1293.8 1586.5L1293.8 1600.2M1306.9 1596.8L1306.9 1603.6M1312.9 1632.6L1312.9 1638.3M1302.4 1659.3L1305.4 1659.3M1316.6 1663.2L1316.6 1669.5M1316.6 1663.2L1318.9 1663.2M1314.1 1709.6L1318.9 1709.6M1316.9 1714.9L1316.9 1720.2M1295.7 1727.8L1304.9 1727.8M1313.6 1751.1L1316.7 1751.1M1316.3 1763.7L1318.9 1763.7M1316.3 1769.2L1318.9 1769.2M1313.3 1774.8L1318.9 1774.8M1316.9 1786.5L1316.9 1793M1304.3 1816L1307.3 1816M1307.3 1812.7L1307.3 1819.2M1283.1 1840.8L1297.6 1840.8M1297.6 1836.8L1308.1 1836.8M1308.1 1832.1L1308.1 1841.6M1297.6 1851.1L1318.9 1851.1M1309.7 1862.5L1309.7 1877.2M1315.7 1864.1L1315.7 1870.7M1313.5 1890.5L1313.5 1897.2M1313.5 1890.5L1318.9 1890.5M1315 1923L1315 1929.1M1316.5 1947.3L1316.5 1953.5M1316.9 1966L1318.9 1966M1316.9 1972.2L1316.9 1978.4M1316.9 2017.4L1316.9 2023.5M1315.8 2038.2L1315.8 2046.9M1292.5 2102.1L1311.8 2102.1M1311.8 2098.7L1311.8 2105.4M1305.3 2125.6L1318.9 2125.6M1306.2 2142.4L1311 2142.4M1316.9 2166L1318.9 2166M1316.9 2175.8L1316.9 2185.6M1316.9 2185.6L1318.9 2185.6" stroke="#444" stroke-width="2.2" fill="none" stroke-linecap="square"/>
<path d="M1285.1 1678.9L1285.1 1722.9M1283.1 1420.8L1296.6 1420.8M1311 1107.3L1311 1113.1M1311 1113.1L1318.9 1113.1M1316.9 1118.9L1318.9 1118.9M1308.2 1130.4L1318.9 1130.4M1308.7 1162L1316.3 1162M1316.3 1159.1L1316.3 1164.8M1311.7 1176.1L1318.9 1176.1M1313.4 1182.3L1318.9 1182.3M1291 1225.7L1291 1238.1M1291 1238.1L1318.9 1238.1M1316.9 1278.4L1318.9 1278.4M1283.6 1320.2L1316.9 1320.2M1316.9 1319.8L1318.9 1319.8M1283.6 1340.3L1292.1 1340.3M1316.6 1352.7L1316.9 1352.7M1299.6 1424.3L1318.9 1424.3M1305.6 1441.6L1305.6 1455.8M1313.6 1436.9L1313.6 1446.3M1316.6 1443.2L1316.6 1449.5M1290.8 1478.3L1293.8 1478.3M1299.8 1462.1L1318.9 1462.1M1302.8 1471.6L1302.8 1485.8M1302.8 1542.2L1305.8 1542.2M1315 1531.8L1315 1538.2M1316.9 1544.6L1318.9 1544.6M1316.9 1554.1L1316.9 1554.1M1305.8 1563.7L1305.8 1570.1M1309.9 1635.5L1312.9 1635.5M1312.9 1632.6L1318.9 1632.6M1308.4 1647.5L1311.4 1647.5M1311.4 1644.3L1311.4 1650.6M1308.4 1656.9L1318.9 1656.9M1305.4 1666.4L1316.6 1666.4M1309.3 1681.7L1309.3 1687.4M1309.3 1687.4L1318.9 1687.4M1316.9 1720.2L1318.9 1720.2M1292.3 1772.4L1296.4 1772.4M1315.4 1789.8L1316.9 1789.8M1304.5 1910.6L1318.9 1910.6M1305 1917L1305 1934.8M1316.9 1978.4L1318.9 1978.4M1302.3 2005.2L1318.9 2005.2M1312.8 2042.5L1315.8 2042.5M1278.3 2097L1278.3 2120.5M1311 2139L1311 2145.8M1309.8 2152.6L1309.8 2159.3M1316.9 2172.5L1318.9 2172.5" stroke="#777" stroke-width="2.2" fill="none" stroke-linecap="square"/>
</svg>
</body></html>
